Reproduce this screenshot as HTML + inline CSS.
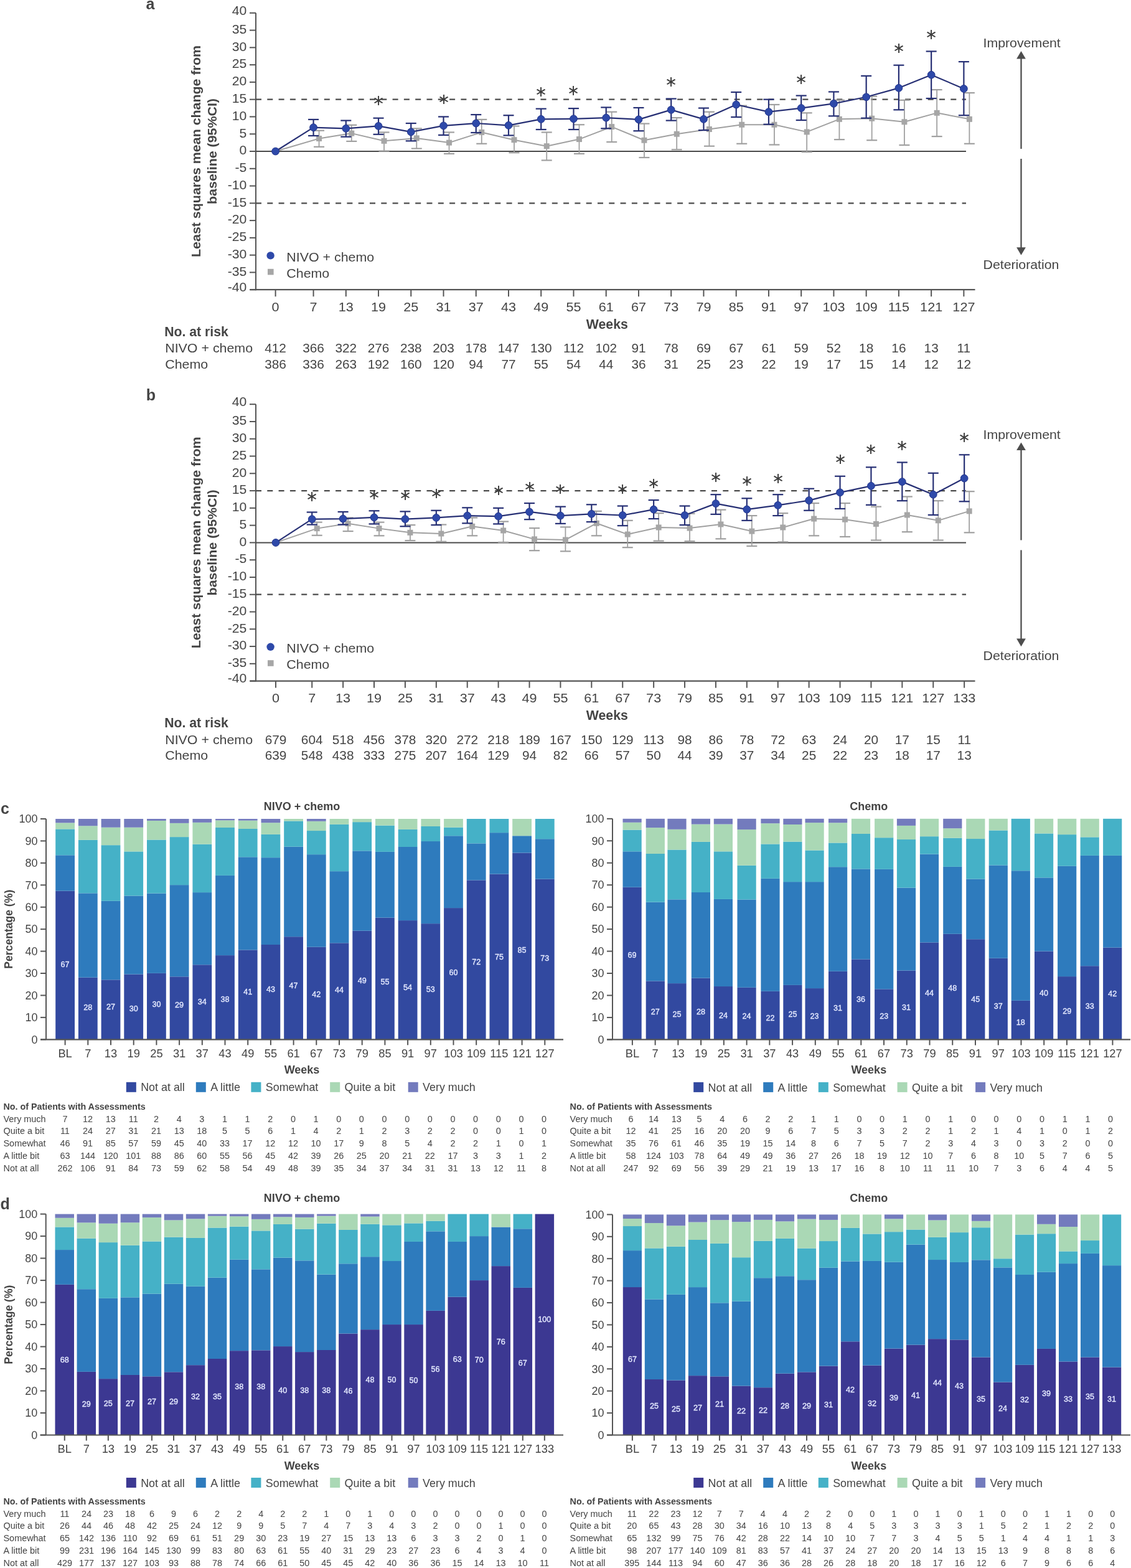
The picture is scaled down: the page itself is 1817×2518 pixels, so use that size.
<!DOCTYPE html>
<html><head><meta charset="utf-8"><title>Figure</title>
<style>html,body{margin:0;padding:0;background:#fff;} svg{display:block;}</style>
</head><body>
<svg width="1817" height="2518" viewBox="0 0 1817 2518" font-family="Liberation Sans, Arial, sans-serif">
<rect width="1817" height="2518" fill="#ffffff"/>
<text x="234.50" y="14.80" font-size="25" text-anchor="start" font-weight="bold" fill="#444444">a</text>
<line x1="411.00" y1="20.80" x2="411.00" y2="466.20" stroke="#555555" stroke-width="2"/>
<line x1="401.00" y1="465.20" x2="411.00" y2="465.20" stroke="#555555" stroke-width="2"/>
<text transform="translate(396.30 468.00) scale(1.060 1)" font-size="20" text-anchor="end" fill="#444444">-40</text>
<line x1="401.00" y1="437.42" x2="411.00" y2="437.42" stroke="#555555" stroke-width="2"/>
<text transform="translate(396.30 442.72) scale(1.060 1)" font-size="20" text-anchor="end" fill="#444444">-35</text>
<line x1="401.00" y1="409.65" x2="411.00" y2="409.65" stroke="#555555" stroke-width="2"/>
<text transform="translate(396.30 414.95) scale(1.060 1)" font-size="20" text-anchor="end" fill="#444444">-30</text>
<line x1="401.00" y1="381.88" x2="411.00" y2="381.88" stroke="#555555" stroke-width="2"/>
<text transform="translate(396.30 387.18) scale(1.060 1)" font-size="20" text-anchor="end" fill="#444444">-25</text>
<line x1="401.00" y1="354.10" x2="411.00" y2="354.10" stroke="#555555" stroke-width="2"/>
<text transform="translate(396.30 359.40) scale(1.060 1)" font-size="20" text-anchor="end" fill="#444444">-20</text>
<line x1="401.00" y1="326.32" x2="411.00" y2="326.32" stroke="#555555" stroke-width="2"/>
<text transform="translate(396.30 331.62) scale(1.060 1)" font-size="20" text-anchor="end" fill="#444444">-15</text>
<line x1="401.00" y1="298.55" x2="411.00" y2="298.55" stroke="#555555" stroke-width="2"/>
<text transform="translate(396.30 303.85) scale(1.060 1)" font-size="20" text-anchor="end" fill="#444444">-10</text>
<line x1="401.00" y1="270.77" x2="411.00" y2="270.77" stroke="#555555" stroke-width="2"/>
<text transform="translate(396.30 276.07) scale(1.060 1)" font-size="20" text-anchor="end" fill="#444444">-5</text>
<line x1="401.00" y1="243.00" x2="411.00" y2="243.00" stroke="#555555" stroke-width="2"/>
<text transform="translate(396.30 248.30) scale(1.060 1)" font-size="20" text-anchor="end" fill="#444444">0</text>
<line x1="401.00" y1="215.22" x2="411.00" y2="215.22" stroke="#555555" stroke-width="2"/>
<text transform="translate(396.30 220.53) scale(1.060 1)" font-size="20" text-anchor="end" fill="#444444">5</text>
<line x1="401.00" y1="187.45" x2="411.00" y2="187.45" stroke="#555555" stroke-width="2"/>
<text transform="translate(396.30 192.75) scale(1.060 1)" font-size="20" text-anchor="end" fill="#444444">10</text>
<line x1="401.00" y1="159.68" x2="411.00" y2="159.68" stroke="#555555" stroke-width="2"/>
<text transform="translate(396.30 164.98) scale(1.060 1)" font-size="20" text-anchor="end" fill="#444444">15</text>
<line x1="401.00" y1="131.90" x2="411.00" y2="131.90" stroke="#555555" stroke-width="2"/>
<text transform="translate(396.30 137.20) scale(1.060 1)" font-size="20" text-anchor="end" fill="#444444">20</text>
<line x1="401.00" y1="104.12" x2="411.00" y2="104.12" stroke="#555555" stroke-width="2"/>
<text transform="translate(396.30 109.42) scale(1.060 1)" font-size="20" text-anchor="end" fill="#444444">25</text>
<line x1="401.00" y1="76.35" x2="411.00" y2="76.35" stroke="#555555" stroke-width="2"/>
<text transform="translate(396.30 81.65) scale(1.060 1)" font-size="20" text-anchor="end" fill="#444444">30</text>
<line x1="401.00" y1="48.58" x2="411.00" y2="48.58" stroke="#555555" stroke-width="2"/>
<text transform="translate(396.30 53.88) scale(1.060 1)" font-size="20" text-anchor="end" fill="#444444">35</text>
<line x1="401.00" y1="20.80" x2="411.00" y2="20.80" stroke="#555555" stroke-width="2"/>
<text transform="translate(396.30 23.60) scale(1.060 1)" font-size="20" text-anchor="end" fill="#444444">40</text>
<line x1="402.00" y1="465.20" x2="1566.50" y2="465.20" stroke="#555555" stroke-width="2.2"/>
<line x1="442.60" y1="465.20" x2="442.60" y2="476.20" stroke="#555555" stroke-width="2"/>
<text transform="translate(442.60 499.80) scale(1.030 1)" font-size="21" text-anchor="middle" fill="#444444">0</text>
<line x1="503.55" y1="465.20" x2="503.55" y2="476.20" stroke="#555555" stroke-width="2"/>
<text transform="translate(503.55 499.80) scale(1.030 1)" font-size="21" text-anchor="middle" fill="#444444">7</text>
<line x1="555.79" y1="465.20" x2="555.79" y2="476.20" stroke="#555555" stroke-width="2"/>
<text transform="translate(555.79 499.80) scale(1.030 1)" font-size="21" text-anchor="middle" fill="#444444">13</text>
<line x1="608.03" y1="465.20" x2="608.03" y2="476.20" stroke="#555555" stroke-width="2"/>
<text transform="translate(608.03 499.80) scale(1.030 1)" font-size="21" text-anchor="middle" fill="#444444">19</text>
<line x1="660.28" y1="465.20" x2="660.28" y2="476.20" stroke="#555555" stroke-width="2"/>
<text transform="translate(660.28 499.80) scale(1.030 1)" font-size="21" text-anchor="middle" fill="#444444">25</text>
<line x1="712.52" y1="465.20" x2="712.52" y2="476.20" stroke="#555555" stroke-width="2"/>
<text transform="translate(712.52 499.80) scale(1.030 1)" font-size="21" text-anchor="middle" fill="#444444">31</text>
<line x1="764.76" y1="465.20" x2="764.76" y2="476.20" stroke="#555555" stroke-width="2"/>
<text transform="translate(764.76 499.80) scale(1.030 1)" font-size="21" text-anchor="middle" fill="#444444">37</text>
<line x1="817.00" y1="465.20" x2="817.00" y2="476.20" stroke="#555555" stroke-width="2"/>
<text transform="translate(817.00 499.80) scale(1.030 1)" font-size="21" text-anchor="middle" fill="#444444">43</text>
<line x1="869.24" y1="465.20" x2="869.24" y2="476.20" stroke="#555555" stroke-width="2"/>
<text transform="translate(869.24 499.80) scale(1.030 1)" font-size="21" text-anchor="middle" fill="#444444">49</text>
<line x1="921.49" y1="465.20" x2="921.49" y2="476.20" stroke="#555555" stroke-width="2"/>
<text transform="translate(921.49 499.80) scale(1.030 1)" font-size="21" text-anchor="middle" fill="#444444">55</text>
<line x1="973.73" y1="465.20" x2="973.73" y2="476.20" stroke="#555555" stroke-width="2"/>
<text transform="translate(973.73 499.80) scale(1.030 1)" font-size="21" text-anchor="middle" fill="#444444">61</text>
<line x1="1025.97" y1="465.20" x2="1025.97" y2="476.20" stroke="#555555" stroke-width="2"/>
<text transform="translate(1025.97 499.80) scale(1.030 1)" font-size="21" text-anchor="middle" fill="#444444">67</text>
<line x1="1078.21" y1="465.20" x2="1078.21" y2="476.20" stroke="#555555" stroke-width="2"/>
<text transform="translate(1078.21 499.80) scale(1.030 1)" font-size="21" text-anchor="middle" fill="#444444">73</text>
<line x1="1130.45" y1="465.20" x2="1130.45" y2="476.20" stroke="#555555" stroke-width="2"/>
<text transform="translate(1130.45 499.80) scale(1.030 1)" font-size="21" text-anchor="middle" fill="#444444">79</text>
<line x1="1182.70" y1="465.20" x2="1182.70" y2="476.20" stroke="#555555" stroke-width="2"/>
<text transform="translate(1182.70 499.80) scale(1.030 1)" font-size="21" text-anchor="middle" fill="#444444">85</text>
<line x1="1234.94" y1="465.20" x2="1234.94" y2="476.20" stroke="#555555" stroke-width="2"/>
<text transform="translate(1234.94 499.80) scale(1.030 1)" font-size="21" text-anchor="middle" fill="#444444">91</text>
<line x1="1287.18" y1="465.20" x2="1287.18" y2="476.20" stroke="#555555" stroke-width="2"/>
<text transform="translate(1287.18 499.80) scale(1.030 1)" font-size="21" text-anchor="middle" fill="#444444">97</text>
<line x1="1339.42" y1="465.20" x2="1339.42" y2="476.20" stroke="#555555" stroke-width="2"/>
<text transform="translate(1339.42 499.80) scale(1.030 1)" font-size="21" text-anchor="middle" fill="#444444">103</text>
<line x1="1391.66" y1="465.20" x2="1391.66" y2="476.20" stroke="#555555" stroke-width="2"/>
<text transform="translate(1391.66 499.80) scale(1.030 1)" font-size="21" text-anchor="middle" fill="#444444">109</text>
<line x1="1443.91" y1="465.20" x2="1443.91" y2="476.20" stroke="#555555" stroke-width="2"/>
<text transform="translate(1443.91 499.80) scale(1.030 1)" font-size="21" text-anchor="middle" fill="#444444">115</text>
<line x1="1496.15" y1="465.20" x2="1496.15" y2="476.20" stroke="#555555" stroke-width="2"/>
<text transform="translate(1496.15 499.80) scale(1.030 1)" font-size="21" text-anchor="middle" fill="#444444">121</text>
<line x1="1548.39" y1="465.20" x2="1548.39" y2="476.20" stroke="#555555" stroke-width="2"/>
<text transform="translate(1548.39 499.80) scale(1.030 1)" font-size="21" text-anchor="middle" fill="#444444">127</text>
<text x="975.30" y="527.70" font-size="21.3" text-anchor="middle" font-weight="bold" fill="#444444">Weeks</text>
<line x1="411.00" y1="243.00" x2="1552.00" y2="243.00" stroke="#4a4a4a" stroke-width="2"/>
<line x1="411.00" y1="159.68" x2="1552.00" y2="159.68" stroke="#4a4a4a" stroke-width="2.3" stroke-dasharray="9 9.3"/>
<line x1="411.00" y1="326.32" x2="1552.00" y2="326.32" stroke="#4a4a4a" stroke-width="2.3" stroke-dasharray="9 9.3"/>
<text transform="translate(322 243) rotate(-90) scale(1.019 1)" font-size="21" font-weight="bold" text-anchor="middle" fill="#444444">Least squares mean change from</text>
<text transform="translate(348 243) rotate(-90) scale(1.019 1)" font-size="21" font-weight="bold" text-anchor="middle" fill="#444444">baseline (95%CI)</text>
<polyline points="442.60,243.00 512.55,222.45 564.79,214.11 617.03,226.34 669.28,221.89 721.52,229.11 773.76,212.45 826.00,224.67 878.24,234.67 930.49,223.56 982.73,203.56 1034.97,225.22 1087.21,215.22 1139.45,207.45 1191.70,200.23 1243.94,200.23 1296.18,211.89 1348.42,191.34 1400.66,190.23 1452.91,195.78 1505.15,181.34 1557.39,191.34" fill="none" stroke="#a0a0a0" stroke-width="2" stroke-linejoin="round"/>
<line x1="512.55" y1="209.67" x2="512.55" y2="235.78" stroke="#a0a0a0" stroke-width="1.8"/>
<line x1="504.05" y1="209.67" x2="521.05" y2="209.67" stroke="#a0a0a0" stroke-width="2.2"/>
<line x1="504.05" y1="235.78" x2="521.05" y2="235.78" stroke="#a0a0a0" stroke-width="2.2"/>
<line x1="564.79" y1="200.78" x2="564.79" y2="226.89" stroke="#a0a0a0" stroke-width="1.8"/>
<line x1="556.29" y1="200.78" x2="573.29" y2="200.78" stroke="#a0a0a0" stroke-width="2.2"/>
<line x1="556.29" y1="226.89" x2="573.29" y2="226.89" stroke="#a0a0a0" stroke-width="2.2"/>
<line x1="617.03" y1="212.45" x2="617.03" y2="242.44" stroke="#a0a0a0" stroke-width="1.8"/>
<line x1="608.53" y1="212.45" x2="625.53" y2="212.45" stroke="#a0a0a0" stroke-width="2.2"/>
<line x1="608.53" y1="242.44" x2="625.53" y2="242.44" stroke="#a0a0a0" stroke-width="2.2"/>
<line x1="669.28" y1="206.34" x2="669.28" y2="238.56" stroke="#a0a0a0" stroke-width="1.8"/>
<line x1="660.78" y1="206.34" x2="677.78" y2="206.34" stroke="#a0a0a0" stroke-width="2.2"/>
<line x1="660.78" y1="238.56" x2="677.78" y2="238.56" stroke="#a0a0a0" stroke-width="2.2"/>
<line x1="721.52" y1="212.45" x2="721.52" y2="246.89" stroke="#a0a0a0" stroke-width="1.8"/>
<line x1="713.02" y1="212.45" x2="730.02" y2="212.45" stroke="#a0a0a0" stroke-width="2.2"/>
<line x1="713.02" y1="246.89" x2="730.02" y2="246.89" stroke="#a0a0a0" stroke-width="2.2"/>
<line x1="773.76" y1="191.89" x2="773.76" y2="230.78" stroke="#a0a0a0" stroke-width="1.8"/>
<line x1="765.26" y1="191.89" x2="782.26" y2="191.89" stroke="#a0a0a0" stroke-width="2.2"/>
<line x1="765.26" y1="230.78" x2="782.26" y2="230.78" stroke="#a0a0a0" stroke-width="2.2"/>
<line x1="826.00" y1="202.45" x2="826.00" y2="245.22" stroke="#a0a0a0" stroke-width="1.8"/>
<line x1="817.50" y1="202.45" x2="834.50" y2="202.45" stroke="#a0a0a0" stroke-width="2.2"/>
<line x1="817.50" y1="245.22" x2="834.50" y2="245.22" stroke="#a0a0a0" stroke-width="2.2"/>
<line x1="878.24" y1="212.45" x2="878.24" y2="257.44" stroke="#a0a0a0" stroke-width="1.8"/>
<line x1="869.74" y1="212.45" x2="886.74" y2="212.45" stroke="#a0a0a0" stroke-width="2.2"/>
<line x1="869.74" y1="257.44" x2="886.74" y2="257.44" stroke="#a0a0a0" stroke-width="2.2"/>
<line x1="930.49" y1="200.23" x2="930.49" y2="246.89" stroke="#a0a0a0" stroke-width="1.8"/>
<line x1="921.99" y1="200.23" x2="938.99" y2="200.23" stroke="#a0a0a0" stroke-width="2.2"/>
<line x1="921.99" y1="246.89" x2="938.99" y2="246.89" stroke="#a0a0a0" stroke-width="2.2"/>
<line x1="982.73" y1="179.67" x2="982.73" y2="228.00" stroke="#a0a0a0" stroke-width="1.8"/>
<line x1="974.23" y1="179.67" x2="991.23" y2="179.67" stroke="#a0a0a0" stroke-width="2.2"/>
<line x1="974.23" y1="228.00" x2="991.23" y2="228.00" stroke="#a0a0a0" stroke-width="2.2"/>
<line x1="1034.97" y1="198.56" x2="1034.97" y2="253.00" stroke="#a0a0a0" stroke-width="1.8"/>
<line x1="1026.47" y1="198.56" x2="1043.47" y2="198.56" stroke="#a0a0a0" stroke-width="2.2"/>
<line x1="1026.47" y1="253.00" x2="1043.47" y2="253.00" stroke="#a0a0a0" stroke-width="2.2"/>
<line x1="1087.21" y1="189.12" x2="1087.21" y2="240.22" stroke="#a0a0a0" stroke-width="1.8"/>
<line x1="1078.71" y1="189.12" x2="1095.71" y2="189.12" stroke="#a0a0a0" stroke-width="2.2"/>
<line x1="1078.71" y1="240.22" x2="1095.71" y2="240.22" stroke="#a0a0a0" stroke-width="2.2"/>
<line x1="1139.45" y1="179.67" x2="1139.45" y2="234.67" stroke="#a0a0a0" stroke-width="1.8"/>
<line x1="1130.95" y1="179.67" x2="1147.95" y2="179.67" stroke="#a0a0a0" stroke-width="2.2"/>
<line x1="1130.95" y1="234.67" x2="1147.95" y2="234.67" stroke="#a0a0a0" stroke-width="2.2"/>
<line x1="1191.70" y1="169.67" x2="1191.70" y2="230.78" stroke="#a0a0a0" stroke-width="1.8"/>
<line x1="1183.20" y1="169.67" x2="1200.20" y2="169.67" stroke="#a0a0a0" stroke-width="2.2"/>
<line x1="1183.20" y1="230.78" x2="1200.20" y2="230.78" stroke="#a0a0a0" stroke-width="2.2"/>
<line x1="1243.94" y1="168.01" x2="1243.94" y2="232.45" stroke="#a0a0a0" stroke-width="1.8"/>
<line x1="1235.44" y1="168.01" x2="1252.44" y2="168.01" stroke="#a0a0a0" stroke-width="2.2"/>
<line x1="1235.44" y1="232.45" x2="1252.44" y2="232.45" stroke="#a0a0a0" stroke-width="2.2"/>
<line x1="1296.18" y1="181.34" x2="1296.18" y2="244.11" stroke="#a0a0a0" stroke-width="1.8"/>
<line x1="1287.68" y1="181.34" x2="1304.68" y2="181.34" stroke="#a0a0a0" stroke-width="2.2"/>
<line x1="1287.68" y1="244.11" x2="1304.68" y2="244.11" stroke="#a0a0a0" stroke-width="2.2"/>
<line x1="1348.42" y1="160.79" x2="1348.42" y2="224.11" stroke="#a0a0a0" stroke-width="1.8"/>
<line x1="1339.92" y1="160.79" x2="1356.92" y2="160.79" stroke="#a0a0a0" stroke-width="2.2"/>
<line x1="1339.92" y1="224.11" x2="1356.92" y2="224.11" stroke="#a0a0a0" stroke-width="2.2"/>
<line x1="1400.66" y1="154.68" x2="1400.66" y2="225.22" stroke="#a0a0a0" stroke-width="1.8"/>
<line x1="1392.16" y1="154.68" x2="1409.16" y2="154.68" stroke="#a0a0a0" stroke-width="2.2"/>
<line x1="1392.16" y1="225.22" x2="1409.16" y2="225.22" stroke="#a0a0a0" stroke-width="2.2"/>
<line x1="1452.91" y1="160.79" x2="1452.91" y2="233.00" stroke="#a0a0a0" stroke-width="1.8"/>
<line x1="1444.41" y1="160.79" x2="1461.41" y2="160.79" stroke="#a0a0a0" stroke-width="2.2"/>
<line x1="1444.41" y1="233.00" x2="1461.41" y2="233.00" stroke="#a0a0a0" stroke-width="2.2"/>
<line x1="1505.15" y1="144.12" x2="1505.15" y2="219.11" stroke="#a0a0a0" stroke-width="1.8"/>
<line x1="1496.65" y1="144.12" x2="1513.65" y2="144.12" stroke="#a0a0a0" stroke-width="2.2"/>
<line x1="1496.65" y1="219.11" x2="1513.65" y2="219.11" stroke="#a0a0a0" stroke-width="2.2"/>
<line x1="1557.39" y1="149.12" x2="1557.39" y2="230.78" stroke="#a0a0a0" stroke-width="1.8"/>
<line x1="1548.89" y1="149.12" x2="1565.89" y2="149.12" stroke="#a0a0a0" stroke-width="2.2"/>
<line x1="1548.89" y1="230.78" x2="1565.89" y2="230.78" stroke="#a0a0a0" stroke-width="2.2"/>
<rect x="508.05" y="217.95" width="9.00" height="9.00" fill="#a6a6a6"/>
<rect x="560.29" y="209.61" width="9.00" height="9.00" fill="#a6a6a6"/>
<rect x="612.53" y="221.84" width="9.00" height="9.00" fill="#a6a6a6"/>
<rect x="664.78" y="217.39" width="9.00" height="9.00" fill="#a6a6a6"/>
<rect x="717.02" y="224.61" width="9.00" height="9.00" fill="#a6a6a6"/>
<rect x="769.26" y="207.95" width="9.00" height="9.00" fill="#a6a6a6"/>
<rect x="821.50" y="220.17" width="9.00" height="9.00" fill="#a6a6a6"/>
<rect x="873.74" y="230.17" width="9.00" height="9.00" fill="#a6a6a6"/>
<rect x="925.99" y="219.06" width="9.00" height="9.00" fill="#a6a6a6"/>
<rect x="978.23" y="199.06" width="9.00" height="9.00" fill="#a6a6a6"/>
<rect x="1030.47" y="220.72" width="9.00" height="9.00" fill="#a6a6a6"/>
<rect x="1082.71" y="210.72" width="9.00" height="9.00" fill="#a6a6a6"/>
<rect x="1134.95" y="202.95" width="9.00" height="9.00" fill="#a6a6a6"/>
<rect x="1187.20" y="195.73" width="9.00" height="9.00" fill="#a6a6a6"/>
<rect x="1239.44" y="195.73" width="9.00" height="9.00" fill="#a6a6a6"/>
<rect x="1291.68" y="207.39" width="9.00" height="9.00" fill="#a6a6a6"/>
<rect x="1343.92" y="186.84" width="9.00" height="9.00" fill="#a6a6a6"/>
<rect x="1396.16" y="185.73" width="9.00" height="9.00" fill="#a6a6a6"/>
<rect x="1448.41" y="191.28" width="9.00" height="9.00" fill="#a6a6a6"/>
<rect x="1500.65" y="176.84" width="9.00" height="9.00" fill="#a6a6a6"/>
<rect x="1552.89" y="186.84" width="9.00" height="9.00" fill="#a6a6a6"/>
<polyline points="442.60,243.00 503.55,204.67 555.79,206.34 608.03,202.45 660.28,211.89 712.52,201.89 764.76,198.00 817.00,201.34 869.24,191.34 921.49,190.78 973.73,189.12 1025.97,191.89 1078.21,176.34 1130.45,191.34 1182.70,168.01 1234.94,179.67 1287.18,173.56 1339.42,166.34 1391.66,155.79 1443.91,141.34 1496.15,120.23 1548.39,142.45" fill="none" stroke="#262f74" stroke-width="2.2" stroke-linejoin="round"/>
<line x1="503.55" y1="191.89" x2="503.55" y2="218.00" stroke="#262f74" stroke-width="2.2"/>
<line x1="495.05" y1="191.89" x2="512.05" y2="191.89" stroke="#262f74" stroke-width="2.2"/>
<line x1="495.05" y1="218.00" x2="512.05" y2="218.00" stroke="#262f74" stroke-width="2.2"/>
<line x1="555.79" y1="193.56" x2="555.79" y2="219.67" stroke="#262f74" stroke-width="2.2"/>
<line x1="547.29" y1="193.56" x2="564.29" y2="193.56" stroke="#262f74" stroke-width="2.2"/>
<line x1="547.29" y1="219.67" x2="564.29" y2="219.67" stroke="#262f74" stroke-width="2.2"/>
<line x1="608.03" y1="189.67" x2="608.03" y2="215.78" stroke="#262f74" stroke-width="2.2"/>
<line x1="599.53" y1="189.67" x2="616.53" y2="189.67" stroke="#262f74" stroke-width="2.2"/>
<line x1="599.53" y1="215.78" x2="616.53" y2="215.78" stroke="#262f74" stroke-width="2.2"/>
<line x1="660.28" y1="198.00" x2="660.28" y2="226.34" stroke="#262f74" stroke-width="2.2"/>
<line x1="651.78" y1="198.00" x2="668.78" y2="198.00" stroke="#262f74" stroke-width="2.2"/>
<line x1="651.78" y1="226.34" x2="668.78" y2="226.34" stroke="#262f74" stroke-width="2.2"/>
<line x1="712.52" y1="187.45" x2="712.52" y2="216.89" stroke="#262f74" stroke-width="2.2"/>
<line x1="704.02" y1="187.45" x2="721.02" y2="187.45" stroke="#262f74" stroke-width="2.2"/>
<line x1="704.02" y1="216.89" x2="721.02" y2="216.89" stroke="#262f74" stroke-width="2.2"/>
<line x1="764.76" y1="184.12" x2="764.76" y2="213.00" stroke="#262f74" stroke-width="2.2"/>
<line x1="756.26" y1="184.12" x2="773.26" y2="184.12" stroke="#262f74" stroke-width="2.2"/>
<line x1="756.26" y1="213.00" x2="773.26" y2="213.00" stroke="#262f74" stroke-width="2.2"/>
<line x1="817.00" y1="185.23" x2="817.00" y2="217.45" stroke="#262f74" stroke-width="2.2"/>
<line x1="808.50" y1="185.23" x2="825.50" y2="185.23" stroke="#262f74" stroke-width="2.2"/>
<line x1="808.50" y1="217.45" x2="825.50" y2="217.45" stroke="#262f74" stroke-width="2.2"/>
<line x1="869.24" y1="174.67" x2="869.24" y2="208.00" stroke="#262f74" stroke-width="2.2"/>
<line x1="860.74" y1="174.67" x2="877.74" y2="174.67" stroke="#262f74" stroke-width="2.2"/>
<line x1="860.74" y1="208.00" x2="877.74" y2="208.00" stroke="#262f74" stroke-width="2.2"/>
<line x1="921.49" y1="174.12" x2="921.49" y2="208.00" stroke="#262f74" stroke-width="2.2"/>
<line x1="912.99" y1="174.12" x2="929.99" y2="174.12" stroke="#262f74" stroke-width="2.2"/>
<line x1="912.99" y1="208.00" x2="929.99" y2="208.00" stroke="#262f74" stroke-width="2.2"/>
<line x1="973.73" y1="172.45" x2="973.73" y2="206.34" stroke="#262f74" stroke-width="2.2"/>
<line x1="965.23" y1="172.45" x2="982.23" y2="172.45" stroke="#262f74" stroke-width="2.2"/>
<line x1="965.23" y1="206.34" x2="982.23" y2="206.34" stroke="#262f74" stroke-width="2.2"/>
<line x1="1025.97" y1="173.01" x2="1025.97" y2="210.23" stroke="#262f74" stroke-width="2.2"/>
<line x1="1017.47" y1="173.01" x2="1034.47" y2="173.01" stroke="#262f74" stroke-width="2.2"/>
<line x1="1017.47" y1="210.23" x2="1034.47" y2="210.23" stroke="#262f74" stroke-width="2.2"/>
<line x1="1078.21" y1="158.56" x2="1078.21" y2="193.56" stroke="#262f74" stroke-width="2.2"/>
<line x1="1069.71" y1="158.56" x2="1086.71" y2="158.56" stroke="#262f74" stroke-width="2.2"/>
<line x1="1069.71" y1="193.56" x2="1086.71" y2="193.56" stroke="#262f74" stroke-width="2.2"/>
<line x1="1130.45" y1="173.56" x2="1130.45" y2="209.11" stroke="#262f74" stroke-width="2.2"/>
<line x1="1121.95" y1="173.56" x2="1138.95" y2="173.56" stroke="#262f74" stroke-width="2.2"/>
<line x1="1121.95" y1="209.11" x2="1138.95" y2="209.11" stroke="#262f74" stroke-width="2.2"/>
<line x1="1182.70" y1="148.01" x2="1182.70" y2="188.01" stroke="#262f74" stroke-width="2.2"/>
<line x1="1174.20" y1="148.01" x2="1191.20" y2="148.01" stroke="#262f74" stroke-width="2.2"/>
<line x1="1174.20" y1="188.01" x2="1191.20" y2="188.01" stroke="#262f74" stroke-width="2.2"/>
<line x1="1234.94" y1="159.68" x2="1234.94" y2="199.67" stroke="#262f74" stroke-width="2.2"/>
<line x1="1226.44" y1="159.68" x2="1243.44" y2="159.68" stroke="#262f74" stroke-width="2.2"/>
<line x1="1226.44" y1="199.67" x2="1243.44" y2="199.67" stroke="#262f74" stroke-width="2.2"/>
<line x1="1287.18" y1="153.56" x2="1287.18" y2="193.00" stroke="#262f74" stroke-width="2.2"/>
<line x1="1278.68" y1="153.56" x2="1295.68" y2="153.56" stroke="#262f74" stroke-width="2.2"/>
<line x1="1278.68" y1="193.00" x2="1295.68" y2="193.00" stroke="#262f74" stroke-width="2.2"/>
<line x1="1339.42" y1="147.45" x2="1339.42" y2="186.34" stroke="#262f74" stroke-width="2.2"/>
<line x1="1330.92" y1="147.45" x2="1347.92" y2="147.45" stroke="#262f74" stroke-width="2.2"/>
<line x1="1330.92" y1="186.34" x2="1347.92" y2="186.34" stroke="#262f74" stroke-width="2.2"/>
<line x1="1391.66" y1="121.90" x2="1391.66" y2="189.67" stroke="#262f74" stroke-width="2.2"/>
<line x1="1383.16" y1="121.90" x2="1400.16" y2="121.90" stroke="#262f74" stroke-width="2.2"/>
<line x1="1383.16" y1="189.67" x2="1400.16" y2="189.67" stroke="#262f74" stroke-width="2.2"/>
<line x1="1443.91" y1="104.68" x2="1443.91" y2="176.34" stroke="#262f74" stroke-width="2.2"/>
<line x1="1435.41" y1="104.68" x2="1452.41" y2="104.68" stroke="#262f74" stroke-width="2.2"/>
<line x1="1435.41" y1="176.34" x2="1452.41" y2="176.34" stroke="#262f74" stroke-width="2.2"/>
<line x1="1496.15" y1="82.46" x2="1496.15" y2="158.01" stroke="#262f74" stroke-width="2.2"/>
<line x1="1487.65" y1="82.46" x2="1504.65" y2="82.46" stroke="#262f74" stroke-width="2.2"/>
<line x1="1487.65" y1="158.01" x2="1504.65" y2="158.01" stroke="#262f74" stroke-width="2.2"/>
<line x1="1548.39" y1="99.13" x2="1548.39" y2="185.23" stroke="#262f74" stroke-width="2.2"/>
<line x1="1539.89" y1="99.13" x2="1556.89" y2="99.13" stroke="#262f74" stroke-width="2.2"/>
<line x1="1539.89" y1="185.23" x2="1556.89" y2="185.23" stroke="#262f74" stroke-width="2.2"/>
<circle cx="442.60" cy="243.00" r="5.9" fill="#2e49a9" stroke="#22358c" stroke-width="1"/>
<circle cx="503.55" cy="204.67" r="5.9" fill="#2e49a9" stroke="#22358c" stroke-width="1"/>
<circle cx="555.79" cy="206.34" r="5.9" fill="#2e49a9" stroke="#22358c" stroke-width="1"/>
<circle cx="608.03" cy="202.45" r="5.9" fill="#2e49a9" stroke="#22358c" stroke-width="1"/>
<circle cx="660.28" cy="211.89" r="5.9" fill="#2e49a9" stroke="#22358c" stroke-width="1"/>
<circle cx="712.52" cy="201.89" r="5.9" fill="#2e49a9" stroke="#22358c" stroke-width="1"/>
<circle cx="764.76" cy="198.00" r="5.9" fill="#2e49a9" stroke="#22358c" stroke-width="1"/>
<circle cx="817.00" cy="201.34" r="5.9" fill="#2e49a9" stroke="#22358c" stroke-width="1"/>
<circle cx="869.24" cy="191.34" r="5.9" fill="#2e49a9" stroke="#22358c" stroke-width="1"/>
<circle cx="921.49" cy="190.78" r="5.9" fill="#2e49a9" stroke="#22358c" stroke-width="1"/>
<circle cx="973.73" cy="189.12" r="5.9" fill="#2e49a9" stroke="#22358c" stroke-width="1"/>
<circle cx="1025.97" cy="191.89" r="5.9" fill="#2e49a9" stroke="#22358c" stroke-width="1"/>
<circle cx="1078.21" cy="176.34" r="5.9" fill="#2e49a9" stroke="#22358c" stroke-width="1"/>
<circle cx="1130.45" cy="191.34" r="5.9" fill="#2e49a9" stroke="#22358c" stroke-width="1"/>
<circle cx="1182.70" cy="168.01" r="5.9" fill="#2e49a9" stroke="#22358c" stroke-width="1"/>
<circle cx="1234.94" cy="179.67" r="5.9" fill="#2e49a9" stroke="#22358c" stroke-width="1"/>
<circle cx="1287.18" cy="173.56" r="5.9" fill="#2e49a9" stroke="#22358c" stroke-width="1"/>
<circle cx="1339.42" cy="166.34" r="5.9" fill="#2e49a9" stroke="#22358c" stroke-width="1"/>
<circle cx="1391.66" cy="155.79" r="5.9" fill="#2e49a9" stroke="#22358c" stroke-width="1"/>
<circle cx="1443.91" cy="141.34" r="5.9" fill="#2e49a9" stroke="#22358c" stroke-width="1"/>
<circle cx="1496.15" cy="120.23" r="5.9" fill="#2e49a9" stroke="#22358c" stroke-width="1"/>
<circle cx="1548.39" cy="142.45" r="5.9" fill="#2e49a9" stroke="#22358c" stroke-width="1"/>
<text x="608.03" y="169.00" font-size="23.5" text-anchor="middle" fill="#3d3d3d">∗</text>
<text x="712.52" y="167.00" font-size="23.5" text-anchor="middle" fill="#3d3d3d">∗</text>
<text x="869.24" y="154.60" font-size="23.5" text-anchor="middle" fill="#3d3d3d">∗</text>
<text x="921.49" y="153.00" font-size="23.5" text-anchor="middle" fill="#3d3d3d">∗</text>
<text x="1078.21" y="138.80" font-size="23.5" text-anchor="middle" fill="#3d3d3d">∗</text>
<text x="1287.18" y="135.00" font-size="23.5" text-anchor="middle" fill="#3d3d3d">∗</text>
<text x="1443.91" y="85.40" font-size="23.5" text-anchor="middle" fill="#3d3d3d">∗</text>
<text x="1496.15" y="62.90" font-size="23.5" text-anchor="middle" fill="#3d3d3d">∗</text>
<circle cx="434.60" cy="410.40" r="6.2" fill="#2e49a9"/>
<text transform="translate(460.30 419.50) scale(1.070 1)" font-size="20" text-anchor="start" fill="#444444">NIVO + chemo</text>
<rect x="430.00" y="431.80" width="9.60" height="9.60" fill="#a6a6a6"/>
<text transform="translate(460.30 445.80) scale(1.070 1)" font-size="20" text-anchor="start" fill="#444444">Chemo</text>
<text transform="translate(1579.50 76.10) scale(1.015 1)" font-size="21" text-anchor="start" fill="#444444">Improvement</text>
<text transform="translate(1579.50 431.80) scale(1.015 1)" font-size="21" text-anchor="start" fill="#444444">Deterioration</text>
<line x1="1640.50" y1="93.00" x2="1640.50" y2="239.00" stroke="#4d4d4d" stroke-width="2.3"/>
<polygon points="1640.5,82.0 1633.1,94.6 1647.9,94.6" fill="#4d4d4d"/>
<line x1="1640.50" y1="255.00" x2="1640.50" y2="398.80" stroke="#4d4d4d" stroke-width="2.3"/>
<polygon points="1640.5,409.8 1633.1,397.2 1647.9,397.2" fill="#4d4d4d"/>
<text x="264.30" y="540.00" font-size="21.2" text-anchor="start" font-weight="bold" fill="#444444">No. at risk</text>
<text transform="translate(265.20 566.20) scale(1.070 1)" font-size="20" text-anchor="start" fill="#444444">NIVO + chemo</text>
<text transform="translate(265.20 591.90) scale(1.070 1)" font-size="20" text-anchor="start" fill="#444444">Chemo</text>
<text transform="translate(442.60 566.20) scale(1.040 1)" font-size="20" text-anchor="middle" fill="#444444">412</text>
<text transform="translate(442.60 591.90) scale(1.040 1)" font-size="20" text-anchor="middle" fill="#444444">386</text>
<text transform="translate(503.55 566.20) scale(1.040 1)" font-size="20" text-anchor="middle" fill="#444444">366</text>
<text transform="translate(503.55 591.90) scale(1.040 1)" font-size="20" text-anchor="middle" fill="#444444">336</text>
<text transform="translate(555.79 566.20) scale(1.040 1)" font-size="20" text-anchor="middle" fill="#444444">322</text>
<text transform="translate(555.79 591.90) scale(1.040 1)" font-size="20" text-anchor="middle" fill="#444444">263</text>
<text transform="translate(608.03 566.20) scale(1.040 1)" font-size="20" text-anchor="middle" fill="#444444">276</text>
<text transform="translate(608.03 591.90) scale(1.040 1)" font-size="20" text-anchor="middle" fill="#444444">192</text>
<text transform="translate(660.28 566.20) scale(1.040 1)" font-size="20" text-anchor="middle" fill="#444444">238</text>
<text transform="translate(660.28 591.90) scale(1.040 1)" font-size="20" text-anchor="middle" fill="#444444">160</text>
<text transform="translate(712.52 566.20) scale(1.040 1)" font-size="20" text-anchor="middle" fill="#444444">203</text>
<text transform="translate(712.52 591.90) scale(1.040 1)" font-size="20" text-anchor="middle" fill="#444444">120</text>
<text transform="translate(764.76 566.20) scale(1.040 1)" font-size="20" text-anchor="middle" fill="#444444">178</text>
<text transform="translate(764.76 591.90) scale(1.040 1)" font-size="20" text-anchor="middle" fill="#444444">94</text>
<text transform="translate(817.00 566.20) scale(1.040 1)" font-size="20" text-anchor="middle" fill="#444444">147</text>
<text transform="translate(817.00 591.90) scale(1.040 1)" font-size="20" text-anchor="middle" fill="#444444">77</text>
<text transform="translate(869.24 566.20) scale(1.040 1)" font-size="20" text-anchor="middle" fill="#444444">130</text>
<text transform="translate(869.24 591.90) scale(1.040 1)" font-size="20" text-anchor="middle" fill="#444444">55</text>
<text transform="translate(921.49 566.20) scale(1.040 1)" font-size="20" text-anchor="middle" fill="#444444">112</text>
<text transform="translate(921.49 591.90) scale(1.040 1)" font-size="20" text-anchor="middle" fill="#444444">54</text>
<text transform="translate(973.73 566.20) scale(1.040 1)" font-size="20" text-anchor="middle" fill="#444444">102</text>
<text transform="translate(973.73 591.90) scale(1.040 1)" font-size="20" text-anchor="middle" fill="#444444">44</text>
<text transform="translate(1025.97 566.20) scale(1.040 1)" font-size="20" text-anchor="middle" fill="#444444">91</text>
<text transform="translate(1025.97 591.90) scale(1.040 1)" font-size="20" text-anchor="middle" fill="#444444">36</text>
<text transform="translate(1078.21 566.20) scale(1.040 1)" font-size="20" text-anchor="middle" fill="#444444">78</text>
<text transform="translate(1078.21 591.90) scale(1.040 1)" font-size="20" text-anchor="middle" fill="#444444">31</text>
<text transform="translate(1130.45 566.20) scale(1.040 1)" font-size="20" text-anchor="middle" fill="#444444">69</text>
<text transform="translate(1130.45 591.90) scale(1.040 1)" font-size="20" text-anchor="middle" fill="#444444">25</text>
<text transform="translate(1182.70 566.20) scale(1.040 1)" font-size="20" text-anchor="middle" fill="#444444">67</text>
<text transform="translate(1182.70 591.90) scale(1.040 1)" font-size="20" text-anchor="middle" fill="#444444">23</text>
<text transform="translate(1234.94 566.20) scale(1.040 1)" font-size="20" text-anchor="middle" fill="#444444">61</text>
<text transform="translate(1234.94 591.90) scale(1.040 1)" font-size="20" text-anchor="middle" fill="#444444">22</text>
<text transform="translate(1287.18 566.20) scale(1.040 1)" font-size="20" text-anchor="middle" fill="#444444">59</text>
<text transform="translate(1287.18 591.90) scale(1.040 1)" font-size="20" text-anchor="middle" fill="#444444">19</text>
<text transform="translate(1339.42 566.20) scale(1.040 1)" font-size="20" text-anchor="middle" fill="#444444">52</text>
<text transform="translate(1339.42 591.90) scale(1.040 1)" font-size="20" text-anchor="middle" fill="#444444">17</text>
<text transform="translate(1391.66 566.20) scale(1.040 1)" font-size="20" text-anchor="middle" fill="#444444">18</text>
<text transform="translate(1391.66 591.90) scale(1.040 1)" font-size="20" text-anchor="middle" fill="#444444">15</text>
<text transform="translate(1443.91 566.20) scale(1.040 1)" font-size="20" text-anchor="middle" fill="#444444">16</text>
<text transform="translate(1443.91 591.90) scale(1.040 1)" font-size="20" text-anchor="middle" fill="#444444">14</text>
<text transform="translate(1496.15 566.20) scale(1.040 1)" font-size="20" text-anchor="middle" fill="#444444">13</text>
<text transform="translate(1496.15 591.90) scale(1.040 1)" font-size="20" text-anchor="middle" fill="#444444">12</text>
<text transform="translate(1548.39 566.20) scale(1.040 1)" font-size="20" text-anchor="middle" fill="#444444">11</text>
<text transform="translate(1548.39 591.90) scale(1.040 1)" font-size="20" text-anchor="middle" fill="#444444">12</text>
<text x="234.80" y="643.10" font-size="25" text-anchor="start" font-weight="bold" fill="#444444">b</text>
<line x1="411.00" y1="649.20" x2="411.00" y2="1094.60" stroke="#555555" stroke-width="2"/>
<line x1="401.00" y1="1093.60" x2="411.00" y2="1093.60" stroke="#555555" stroke-width="2"/>
<text transform="translate(396.30 1096.40) scale(1.060 1)" font-size="20" text-anchor="end" fill="#444444">-40</text>
<line x1="401.00" y1="1065.83" x2="411.00" y2="1065.83" stroke="#555555" stroke-width="2"/>
<text transform="translate(396.30 1071.12) scale(1.060 1)" font-size="20" text-anchor="end" fill="#444444">-35</text>
<line x1="401.00" y1="1038.05" x2="411.00" y2="1038.05" stroke="#555555" stroke-width="2"/>
<text transform="translate(396.30 1043.35) scale(1.060 1)" font-size="20" text-anchor="end" fill="#444444">-30</text>
<line x1="401.00" y1="1010.27" x2="411.00" y2="1010.27" stroke="#555555" stroke-width="2"/>
<text transform="translate(396.30 1015.57) scale(1.060 1)" font-size="20" text-anchor="end" fill="#444444">-25</text>
<line x1="401.00" y1="982.50" x2="411.00" y2="982.50" stroke="#555555" stroke-width="2"/>
<text transform="translate(396.30 987.80) scale(1.060 1)" font-size="20" text-anchor="end" fill="#444444">-20</text>
<line x1="401.00" y1="954.72" x2="411.00" y2="954.72" stroke="#555555" stroke-width="2"/>
<text transform="translate(396.30 960.02) scale(1.060 1)" font-size="20" text-anchor="end" fill="#444444">-15</text>
<line x1="401.00" y1="926.95" x2="411.00" y2="926.95" stroke="#555555" stroke-width="2"/>
<text transform="translate(396.30 932.25) scale(1.060 1)" font-size="20" text-anchor="end" fill="#444444">-10</text>
<line x1="401.00" y1="899.17" x2="411.00" y2="899.17" stroke="#555555" stroke-width="2"/>
<text transform="translate(396.30 904.47) scale(1.060 1)" font-size="20" text-anchor="end" fill="#444444">-5</text>
<line x1="401.00" y1="871.40" x2="411.00" y2="871.40" stroke="#555555" stroke-width="2"/>
<text transform="translate(396.30 876.70) scale(1.060 1)" font-size="20" text-anchor="end" fill="#444444">0</text>
<line x1="401.00" y1="843.62" x2="411.00" y2="843.62" stroke="#555555" stroke-width="2"/>
<text transform="translate(396.30 848.92) scale(1.060 1)" font-size="20" text-anchor="end" fill="#444444">5</text>
<line x1="401.00" y1="815.85" x2="411.00" y2="815.85" stroke="#555555" stroke-width="2"/>
<text transform="translate(396.30 821.15) scale(1.060 1)" font-size="20" text-anchor="end" fill="#444444">10</text>
<line x1="401.00" y1="788.08" x2="411.00" y2="788.08" stroke="#555555" stroke-width="2"/>
<text transform="translate(396.30 793.38) scale(1.060 1)" font-size="20" text-anchor="end" fill="#444444">15</text>
<line x1="401.00" y1="760.30" x2="411.00" y2="760.30" stroke="#555555" stroke-width="2"/>
<text transform="translate(396.30 765.60) scale(1.060 1)" font-size="20" text-anchor="end" fill="#444444">20</text>
<line x1="401.00" y1="732.52" x2="411.00" y2="732.52" stroke="#555555" stroke-width="2"/>
<text transform="translate(396.30 737.82) scale(1.060 1)" font-size="20" text-anchor="end" fill="#444444">25</text>
<line x1="401.00" y1="704.75" x2="411.00" y2="704.75" stroke="#555555" stroke-width="2"/>
<text transform="translate(396.30 710.05) scale(1.060 1)" font-size="20" text-anchor="end" fill="#444444">30</text>
<line x1="401.00" y1="676.98" x2="411.00" y2="676.98" stroke="#555555" stroke-width="2"/>
<text transform="translate(396.30 682.27) scale(1.060 1)" font-size="20" text-anchor="end" fill="#444444">35</text>
<line x1="401.00" y1="649.20" x2="411.00" y2="649.20" stroke="#555555" stroke-width="2"/>
<text transform="translate(396.30 652.00) scale(1.060 1)" font-size="20" text-anchor="end" fill="#444444">40</text>
<line x1="402.00" y1="1093.60" x2="1566.50" y2="1093.60" stroke="#555555" stroke-width="2.2"/>
<line x1="443.00" y1="1093.60" x2="443.00" y2="1104.60" stroke="#555555" stroke-width="2"/>
<text transform="translate(443.00 1128.20) scale(1.030 1)" font-size="21" text-anchor="middle" fill="#444444">0</text>
<line x1="501.22" y1="1093.60" x2="501.22" y2="1104.60" stroke="#555555" stroke-width="2"/>
<text transform="translate(501.22 1128.20) scale(1.030 1)" font-size="21" text-anchor="middle" fill="#444444">7</text>
<line x1="551.12" y1="1093.60" x2="551.12" y2="1104.60" stroke="#555555" stroke-width="2"/>
<text transform="translate(551.12 1128.20) scale(1.030 1)" font-size="21" text-anchor="middle" fill="#444444">13</text>
<line x1="601.02" y1="1093.60" x2="601.02" y2="1104.60" stroke="#555555" stroke-width="2"/>
<text transform="translate(601.02 1128.20) scale(1.030 1)" font-size="21" text-anchor="middle" fill="#444444">19</text>
<line x1="650.92" y1="1093.60" x2="650.92" y2="1104.60" stroke="#555555" stroke-width="2"/>
<text transform="translate(650.92 1128.20) scale(1.030 1)" font-size="21" text-anchor="middle" fill="#444444">25</text>
<line x1="700.83" y1="1093.60" x2="700.83" y2="1104.60" stroke="#555555" stroke-width="2"/>
<text transform="translate(700.83 1128.20) scale(1.030 1)" font-size="21" text-anchor="middle" fill="#444444">31</text>
<line x1="750.73" y1="1093.60" x2="750.73" y2="1104.60" stroke="#555555" stroke-width="2"/>
<text transform="translate(750.73 1128.20) scale(1.030 1)" font-size="21" text-anchor="middle" fill="#444444">37</text>
<line x1="800.63" y1="1093.60" x2="800.63" y2="1104.60" stroke="#555555" stroke-width="2"/>
<text transform="translate(800.63 1128.20) scale(1.030 1)" font-size="21" text-anchor="middle" fill="#444444">43</text>
<line x1="850.53" y1="1093.60" x2="850.53" y2="1104.60" stroke="#555555" stroke-width="2"/>
<text transform="translate(850.53 1128.20) scale(1.030 1)" font-size="21" text-anchor="middle" fill="#444444">49</text>
<line x1="900.43" y1="1093.60" x2="900.43" y2="1104.60" stroke="#555555" stroke-width="2"/>
<text transform="translate(900.43 1128.20) scale(1.030 1)" font-size="21" text-anchor="middle" fill="#444444">55</text>
<line x1="950.34" y1="1093.60" x2="950.34" y2="1104.60" stroke="#555555" stroke-width="2"/>
<text transform="translate(950.34 1128.20) scale(1.030 1)" font-size="21" text-anchor="middle" fill="#444444">61</text>
<line x1="1000.24" y1="1093.60" x2="1000.24" y2="1104.60" stroke="#555555" stroke-width="2"/>
<text transform="translate(1000.24 1128.20) scale(1.030 1)" font-size="21" text-anchor="middle" fill="#444444">67</text>
<line x1="1050.14" y1="1093.60" x2="1050.14" y2="1104.60" stroke="#555555" stroke-width="2"/>
<text transform="translate(1050.14 1128.20) scale(1.030 1)" font-size="21" text-anchor="middle" fill="#444444">73</text>
<line x1="1100.04" y1="1093.60" x2="1100.04" y2="1104.60" stroke="#555555" stroke-width="2"/>
<text transform="translate(1100.04 1128.20) scale(1.030 1)" font-size="21" text-anchor="middle" fill="#444444">79</text>
<line x1="1149.95" y1="1093.60" x2="1149.95" y2="1104.60" stroke="#555555" stroke-width="2"/>
<text transform="translate(1149.95 1128.20) scale(1.030 1)" font-size="21" text-anchor="middle" fill="#444444">85</text>
<line x1="1199.85" y1="1093.60" x2="1199.85" y2="1104.60" stroke="#555555" stroke-width="2"/>
<text transform="translate(1199.85 1128.20) scale(1.030 1)" font-size="21" text-anchor="middle" fill="#444444">91</text>
<line x1="1249.75" y1="1093.60" x2="1249.75" y2="1104.60" stroke="#555555" stroke-width="2"/>
<text transform="translate(1249.75 1128.20) scale(1.030 1)" font-size="21" text-anchor="middle" fill="#444444">97</text>
<line x1="1299.65" y1="1093.60" x2="1299.65" y2="1104.60" stroke="#555555" stroke-width="2"/>
<text transform="translate(1299.65 1128.20) scale(1.030 1)" font-size="21" text-anchor="middle" fill="#444444">103</text>
<line x1="1349.55" y1="1093.60" x2="1349.55" y2="1104.60" stroke="#555555" stroke-width="2"/>
<text transform="translate(1349.55 1128.20) scale(1.030 1)" font-size="21" text-anchor="middle" fill="#444444">109</text>
<line x1="1399.45" y1="1093.60" x2="1399.45" y2="1104.60" stroke="#555555" stroke-width="2"/>
<text transform="translate(1399.45 1128.20) scale(1.030 1)" font-size="21" text-anchor="middle" fill="#444444">115</text>
<line x1="1449.36" y1="1093.60" x2="1449.36" y2="1104.60" stroke="#555555" stroke-width="2"/>
<text transform="translate(1449.36 1128.20) scale(1.030 1)" font-size="21" text-anchor="middle" fill="#444444">121</text>
<line x1="1499.26" y1="1093.60" x2="1499.26" y2="1104.60" stroke="#555555" stroke-width="2"/>
<text transform="translate(1499.26 1128.20) scale(1.030 1)" font-size="21" text-anchor="middle" fill="#444444">127</text>
<line x1="1549.16" y1="1093.60" x2="1549.16" y2="1104.60" stroke="#555555" stroke-width="2"/>
<text transform="translate(1549.16 1128.20) scale(1.030 1)" font-size="21" text-anchor="middle" fill="#444444">133</text>
<text x="975.30" y="1156.10" font-size="21.3" text-anchor="middle" font-weight="bold" fill="#444444">Weeks</text>
<line x1="411.00" y1="871.40" x2="1552.00" y2="871.40" stroke="#4a4a4a" stroke-width="2"/>
<line x1="411.00" y1="788.08" x2="1552.00" y2="788.08" stroke="#4a4a4a" stroke-width="2.3" stroke-dasharray="9 9.3"/>
<line x1="411.00" y1="954.72" x2="1552.00" y2="954.72" stroke="#4a4a4a" stroke-width="2.3" stroke-dasharray="9 9.3"/>
<text transform="translate(322 871.4) rotate(-90) scale(1.019 1)" font-size="21" font-weight="bold" text-anchor="middle" fill="#444444">Least squares mean change from</text>
<text transform="translate(348 871.4) rotate(-90) scale(1.019 1)" font-size="21" font-weight="bold" text-anchor="middle" fill="#444444">baseline (95%CI)</text>
<polyline points="443.00,871.40 509.22,848.62 559.12,840.85 609.02,848.62 658.92,855.29 708.83,856.96 758.73,845.29 808.63,851.96 858.53,865.85 908.43,866.96 958.34,840.29 1008.24,858.07 1058.14,846.96 1108.04,848.07 1157.95,841.96 1207.85,853.07 1257.75,846.96 1307.65,833.07 1357.55,834.18 1407.45,841.40 1457.36,826.96 1507.26,835.85 1557.16,820.85" fill="none" stroke="#a0a0a0" stroke-width="2" stroke-linejoin="round"/>
<line x1="509.22" y1="838.63" x2="509.22" y2="859.73" stroke="#a0a0a0" stroke-width="1.8"/>
<line x1="500.72" y1="838.63" x2="517.72" y2="838.63" stroke="#a0a0a0" stroke-width="2.2"/>
<line x1="500.72" y1="859.73" x2="517.72" y2="859.73" stroke="#a0a0a0" stroke-width="2.2"/>
<line x1="559.12" y1="831.40" x2="559.12" y2="853.07" stroke="#a0a0a0" stroke-width="1.8"/>
<line x1="550.62" y1="831.40" x2="567.62" y2="831.40" stroke="#a0a0a0" stroke-width="2.2"/>
<line x1="550.62" y1="853.07" x2="567.62" y2="853.07" stroke="#a0a0a0" stroke-width="2.2"/>
<line x1="609.02" y1="838.63" x2="609.02" y2="860.29" stroke="#a0a0a0" stroke-width="1.8"/>
<line x1="600.52" y1="838.63" x2="617.52" y2="838.63" stroke="#a0a0a0" stroke-width="2.2"/>
<line x1="600.52" y1="860.29" x2="617.52" y2="860.29" stroke="#a0a0a0" stroke-width="2.2"/>
<line x1="658.92" y1="843.07" x2="658.92" y2="868.07" stroke="#a0a0a0" stroke-width="1.8"/>
<line x1="650.42" y1="843.07" x2="667.42" y2="843.07" stroke="#a0a0a0" stroke-width="2.2"/>
<line x1="650.42" y1="868.07" x2="667.42" y2="868.07" stroke="#a0a0a0" stroke-width="2.2"/>
<line x1="708.83" y1="842.51" x2="708.83" y2="869.73" stroke="#a0a0a0" stroke-width="1.8"/>
<line x1="700.33" y1="842.51" x2="717.33" y2="842.51" stroke="#a0a0a0" stroke-width="2.2"/>
<line x1="700.33" y1="869.73" x2="717.33" y2="869.73" stroke="#a0a0a0" stroke-width="2.2"/>
<line x1="758.73" y1="831.40" x2="758.73" y2="860.29" stroke="#a0a0a0" stroke-width="1.8"/>
<line x1="750.23" y1="831.40" x2="767.23" y2="831.40" stroke="#a0a0a0" stroke-width="2.2"/>
<line x1="750.23" y1="860.29" x2="767.23" y2="860.29" stroke="#a0a0a0" stroke-width="2.2"/>
<line x1="808.63" y1="837.51" x2="808.63" y2="870.84" stroke="#a0a0a0" stroke-width="1.8"/>
<line x1="800.13" y1="837.51" x2="817.13" y2="837.51" stroke="#a0a0a0" stroke-width="2.2"/>
<line x1="800.13" y1="870.84" x2="817.13" y2="870.84" stroke="#a0a0a0" stroke-width="2.2"/>
<line x1="858.53" y1="848.07" x2="858.53" y2="884.18" stroke="#a0a0a0" stroke-width="1.8"/>
<line x1="850.03" y1="848.07" x2="867.03" y2="848.07" stroke="#a0a0a0" stroke-width="2.2"/>
<line x1="850.03" y1="884.18" x2="867.03" y2="884.18" stroke="#a0a0a0" stroke-width="2.2"/>
<line x1="908.43" y1="846.40" x2="908.43" y2="885.29" stroke="#a0a0a0" stroke-width="1.8"/>
<line x1="899.93" y1="846.40" x2="916.93" y2="846.40" stroke="#a0a0a0" stroke-width="2.2"/>
<line x1="899.93" y1="885.29" x2="916.93" y2="885.29" stroke="#a0a0a0" stroke-width="2.2"/>
<line x1="958.34" y1="820.85" x2="958.34" y2="860.29" stroke="#a0a0a0" stroke-width="1.8"/>
<line x1="949.84" y1="820.85" x2="966.84" y2="820.85" stroke="#a0a0a0" stroke-width="2.2"/>
<line x1="949.84" y1="860.29" x2="966.84" y2="860.29" stroke="#a0a0a0" stroke-width="2.2"/>
<line x1="1008.24" y1="835.85" x2="1008.24" y2="879.18" stroke="#a0a0a0" stroke-width="1.8"/>
<line x1="999.74" y1="835.85" x2="1016.74" y2="835.85" stroke="#a0a0a0" stroke-width="2.2"/>
<line x1="999.74" y1="879.18" x2="1016.74" y2="879.18" stroke="#a0a0a0" stroke-width="2.2"/>
<line x1="1058.14" y1="824.18" x2="1058.14" y2="868.62" stroke="#a0a0a0" stroke-width="1.8"/>
<line x1="1049.64" y1="824.18" x2="1066.64" y2="824.18" stroke="#a0a0a0" stroke-width="2.2"/>
<line x1="1049.64" y1="868.62" x2="1066.64" y2="868.62" stroke="#a0a0a0" stroke-width="2.2"/>
<line x1="1108.04" y1="824.74" x2="1108.04" y2="869.18" stroke="#a0a0a0" stroke-width="1.8"/>
<line x1="1099.54" y1="824.74" x2="1116.54" y2="824.74" stroke="#a0a0a0" stroke-width="2.2"/>
<line x1="1099.54" y1="869.18" x2="1116.54" y2="869.18" stroke="#a0a0a0" stroke-width="2.2"/>
<line x1="1157.95" y1="818.63" x2="1157.95" y2="865.29" stroke="#a0a0a0" stroke-width="1.8"/>
<line x1="1149.45" y1="818.63" x2="1166.45" y2="818.63" stroke="#a0a0a0" stroke-width="2.2"/>
<line x1="1149.45" y1="865.29" x2="1166.45" y2="865.29" stroke="#a0a0a0" stroke-width="2.2"/>
<line x1="1207.85" y1="828.07" x2="1207.85" y2="876.95" stroke="#a0a0a0" stroke-width="1.8"/>
<line x1="1199.35" y1="828.07" x2="1216.35" y2="828.07" stroke="#a0a0a0" stroke-width="2.2"/>
<line x1="1199.35" y1="876.95" x2="1216.35" y2="876.95" stroke="#a0a0a0" stroke-width="2.2"/>
<line x1="1257.75" y1="824.18" x2="1257.75" y2="870.29" stroke="#a0a0a0" stroke-width="1.8"/>
<line x1="1249.25" y1="824.18" x2="1266.25" y2="824.18" stroke="#a0a0a0" stroke-width="2.2"/>
<line x1="1249.25" y1="870.29" x2="1266.25" y2="870.29" stroke="#a0a0a0" stroke-width="2.2"/>
<line x1="1307.65" y1="808.07" x2="1307.65" y2="860.29" stroke="#a0a0a0" stroke-width="1.8"/>
<line x1="1299.15" y1="808.07" x2="1316.15" y2="808.07" stroke="#a0a0a0" stroke-width="2.2"/>
<line x1="1299.15" y1="860.29" x2="1316.15" y2="860.29" stroke="#a0a0a0" stroke-width="2.2"/>
<line x1="1357.55" y1="808.07" x2="1357.55" y2="861.96" stroke="#a0a0a0" stroke-width="1.8"/>
<line x1="1349.05" y1="808.07" x2="1366.05" y2="808.07" stroke="#a0a0a0" stroke-width="2.2"/>
<line x1="1349.05" y1="861.96" x2="1366.05" y2="861.96" stroke="#a0a0a0" stroke-width="2.2"/>
<line x1="1407.45" y1="813.63" x2="1407.45" y2="867.51" stroke="#a0a0a0" stroke-width="1.8"/>
<line x1="1398.95" y1="813.63" x2="1415.95" y2="813.63" stroke="#a0a0a0" stroke-width="2.2"/>
<line x1="1398.95" y1="867.51" x2="1415.95" y2="867.51" stroke="#a0a0a0" stroke-width="2.2"/>
<line x1="1457.36" y1="797.52" x2="1457.36" y2="854.18" stroke="#a0a0a0" stroke-width="1.8"/>
<line x1="1448.86" y1="797.52" x2="1465.86" y2="797.52" stroke="#a0a0a0" stroke-width="2.2"/>
<line x1="1448.86" y1="854.18" x2="1465.86" y2="854.18" stroke="#a0a0a0" stroke-width="2.2"/>
<line x1="1507.26" y1="804.18" x2="1507.26" y2="867.51" stroke="#a0a0a0" stroke-width="1.8"/>
<line x1="1498.76" y1="804.18" x2="1515.76" y2="804.18" stroke="#a0a0a0" stroke-width="2.2"/>
<line x1="1498.76" y1="867.51" x2="1515.76" y2="867.51" stroke="#a0a0a0" stroke-width="2.2"/>
<line x1="1557.16" y1="789.19" x2="1557.16" y2="855.29" stroke="#a0a0a0" stroke-width="1.8"/>
<line x1="1548.66" y1="789.19" x2="1565.66" y2="789.19" stroke="#a0a0a0" stroke-width="2.2"/>
<line x1="1548.66" y1="855.29" x2="1565.66" y2="855.29" stroke="#a0a0a0" stroke-width="2.2"/>
<rect x="504.72" y="844.12" width="9.00" height="9.00" fill="#a6a6a6"/>
<rect x="554.62" y="836.35" width="9.00" height="9.00" fill="#a6a6a6"/>
<rect x="604.52" y="844.12" width="9.00" height="9.00" fill="#a6a6a6"/>
<rect x="654.42" y="850.79" width="9.00" height="9.00" fill="#a6a6a6"/>
<rect x="704.33" y="852.46" width="9.00" height="9.00" fill="#a6a6a6"/>
<rect x="754.23" y="840.79" width="9.00" height="9.00" fill="#a6a6a6"/>
<rect x="804.13" y="847.46" width="9.00" height="9.00" fill="#a6a6a6"/>
<rect x="854.03" y="861.35" width="9.00" height="9.00" fill="#a6a6a6"/>
<rect x="903.93" y="862.46" width="9.00" height="9.00" fill="#a6a6a6"/>
<rect x="953.84" y="835.79" width="9.00" height="9.00" fill="#a6a6a6"/>
<rect x="1003.74" y="853.57" width="9.00" height="9.00" fill="#a6a6a6"/>
<rect x="1053.64" y="842.46" width="9.00" height="9.00" fill="#a6a6a6"/>
<rect x="1103.54" y="843.57" width="9.00" height="9.00" fill="#a6a6a6"/>
<rect x="1153.45" y="837.46" width="9.00" height="9.00" fill="#a6a6a6"/>
<rect x="1203.35" y="848.57" width="9.00" height="9.00" fill="#a6a6a6"/>
<rect x="1253.25" y="842.46" width="9.00" height="9.00" fill="#a6a6a6"/>
<rect x="1303.15" y="828.57" width="9.00" height="9.00" fill="#a6a6a6"/>
<rect x="1353.05" y="829.68" width="9.00" height="9.00" fill="#a6a6a6"/>
<rect x="1402.95" y="836.90" width="9.00" height="9.00" fill="#a6a6a6"/>
<rect x="1452.86" y="822.46" width="9.00" height="9.00" fill="#a6a6a6"/>
<rect x="1502.76" y="831.35" width="9.00" height="9.00" fill="#a6a6a6"/>
<rect x="1552.66" y="816.35" width="9.00" height="9.00" fill="#a6a6a6"/>
<polyline points="443.00,871.40 501.22,833.63 551.12,833.07 601.02,830.85 650.92,833.63 700.83,831.40 750.73,828.07 800.63,829.18 850.53,821.96 900.43,828.07 950.34,825.29 1000.24,827.52 1050.14,818.07 1100.04,827.52 1149.95,808.63 1199.85,818.07 1249.75,811.41 1299.65,803.63 1349.55,790.85 1399.45,780.30 1449.36,773.63 1499.26,794.19 1549.16,768.08" fill="none" stroke="#262f74" stroke-width="2.2" stroke-linejoin="round"/>
<line x1="501.22" y1="822.52" x2="501.22" y2="842.51" stroke="#262f74" stroke-width="2.2"/>
<line x1="492.72" y1="822.52" x2="509.72" y2="822.52" stroke="#262f74" stroke-width="2.2"/>
<line x1="492.72" y1="842.51" x2="509.72" y2="842.51" stroke="#262f74" stroke-width="2.2"/>
<line x1="551.12" y1="821.96" x2="551.12" y2="842.51" stroke="#262f74" stroke-width="2.2"/>
<line x1="542.62" y1="821.96" x2="559.62" y2="821.96" stroke="#262f74" stroke-width="2.2"/>
<line x1="542.62" y1="842.51" x2="559.62" y2="842.51" stroke="#262f74" stroke-width="2.2"/>
<line x1="601.02" y1="820.29" x2="601.02" y2="841.40" stroke="#262f74" stroke-width="2.2"/>
<line x1="592.52" y1="820.29" x2="609.52" y2="820.29" stroke="#262f74" stroke-width="2.2"/>
<line x1="592.52" y1="841.40" x2="609.52" y2="841.40" stroke="#262f74" stroke-width="2.2"/>
<line x1="650.92" y1="821.40" x2="650.92" y2="845.29" stroke="#262f74" stroke-width="2.2"/>
<line x1="642.42" y1="821.40" x2="659.42" y2="821.40" stroke="#262f74" stroke-width="2.2"/>
<line x1="642.42" y1="845.29" x2="659.42" y2="845.29" stroke="#262f74" stroke-width="2.2"/>
<line x1="700.83" y1="819.74" x2="700.83" y2="843.07" stroke="#262f74" stroke-width="2.2"/>
<line x1="692.33" y1="819.74" x2="709.33" y2="819.74" stroke="#262f74" stroke-width="2.2"/>
<line x1="692.33" y1="843.07" x2="709.33" y2="843.07" stroke="#262f74" stroke-width="2.2"/>
<line x1="750.73" y1="815.29" x2="750.73" y2="840.29" stroke="#262f74" stroke-width="2.2"/>
<line x1="742.23" y1="815.29" x2="759.23" y2="815.29" stroke="#262f74" stroke-width="2.2"/>
<line x1="742.23" y1="840.29" x2="759.23" y2="840.29" stroke="#262f74" stroke-width="2.2"/>
<line x1="800.63" y1="815.85" x2="800.63" y2="841.40" stroke="#262f74" stroke-width="2.2"/>
<line x1="792.13" y1="815.85" x2="809.13" y2="815.85" stroke="#262f74" stroke-width="2.2"/>
<line x1="792.13" y1="841.40" x2="809.13" y2="841.40" stroke="#262f74" stroke-width="2.2"/>
<line x1="850.53" y1="808.07" x2="850.53" y2="834.18" stroke="#262f74" stroke-width="2.2"/>
<line x1="842.03" y1="808.07" x2="859.03" y2="808.07" stroke="#262f74" stroke-width="2.2"/>
<line x1="842.03" y1="834.18" x2="859.03" y2="834.18" stroke="#262f74" stroke-width="2.2"/>
<line x1="900.43" y1="813.63" x2="900.43" y2="840.85" stroke="#262f74" stroke-width="2.2"/>
<line x1="891.93" y1="813.63" x2="908.93" y2="813.63" stroke="#262f74" stroke-width="2.2"/>
<line x1="891.93" y1="840.85" x2="908.93" y2="840.85" stroke="#262f74" stroke-width="2.2"/>
<line x1="950.34" y1="810.29" x2="950.34" y2="838.07" stroke="#262f74" stroke-width="2.2"/>
<line x1="941.84" y1="810.29" x2="958.84" y2="810.29" stroke="#262f74" stroke-width="2.2"/>
<line x1="941.84" y1="838.07" x2="958.84" y2="838.07" stroke="#262f74" stroke-width="2.2"/>
<line x1="1000.24" y1="812.52" x2="1000.24" y2="844.18" stroke="#262f74" stroke-width="2.2"/>
<line x1="991.74" y1="812.52" x2="1008.74" y2="812.52" stroke="#262f74" stroke-width="2.2"/>
<line x1="991.74" y1="844.18" x2="1008.74" y2="844.18" stroke="#262f74" stroke-width="2.2"/>
<line x1="1050.14" y1="803.07" x2="1050.14" y2="833.07" stroke="#262f74" stroke-width="2.2"/>
<line x1="1041.64" y1="803.07" x2="1058.64" y2="803.07" stroke="#262f74" stroke-width="2.2"/>
<line x1="1041.64" y1="833.07" x2="1058.64" y2="833.07" stroke="#262f74" stroke-width="2.2"/>
<line x1="1100.04" y1="812.52" x2="1100.04" y2="843.07" stroke="#262f74" stroke-width="2.2"/>
<line x1="1091.54" y1="812.52" x2="1108.54" y2="812.52" stroke="#262f74" stroke-width="2.2"/>
<line x1="1091.54" y1="843.07" x2="1108.54" y2="843.07" stroke="#262f74" stroke-width="2.2"/>
<line x1="1149.95" y1="794.19" x2="1149.95" y2="825.85" stroke="#262f74" stroke-width="2.2"/>
<line x1="1141.45" y1="794.19" x2="1158.45" y2="794.19" stroke="#262f74" stroke-width="2.2"/>
<line x1="1141.45" y1="825.85" x2="1158.45" y2="825.85" stroke="#262f74" stroke-width="2.2"/>
<line x1="1199.85" y1="800.30" x2="1199.85" y2="835.85" stroke="#262f74" stroke-width="2.2"/>
<line x1="1191.35" y1="800.30" x2="1208.35" y2="800.30" stroke="#262f74" stroke-width="2.2"/>
<line x1="1191.35" y1="835.85" x2="1208.35" y2="835.85" stroke="#262f74" stroke-width="2.2"/>
<line x1="1249.75" y1="794.19" x2="1249.75" y2="828.07" stroke="#262f74" stroke-width="2.2"/>
<line x1="1241.25" y1="794.19" x2="1258.25" y2="794.19" stroke="#262f74" stroke-width="2.2"/>
<line x1="1241.25" y1="828.07" x2="1258.25" y2="828.07" stroke="#262f74" stroke-width="2.2"/>
<line x1="1299.65" y1="784.74" x2="1299.65" y2="819.74" stroke="#262f74" stroke-width="2.2"/>
<line x1="1291.15" y1="784.74" x2="1308.15" y2="784.74" stroke="#262f74" stroke-width="2.2"/>
<line x1="1291.15" y1="819.74" x2="1308.15" y2="819.74" stroke="#262f74" stroke-width="2.2"/>
<line x1="1349.55" y1="764.74" x2="1349.55" y2="816.96" stroke="#262f74" stroke-width="2.2"/>
<line x1="1341.05" y1="764.74" x2="1358.05" y2="764.74" stroke="#262f74" stroke-width="2.2"/>
<line x1="1341.05" y1="816.96" x2="1358.05" y2="816.96" stroke="#262f74" stroke-width="2.2"/>
<line x1="1399.45" y1="750.30" x2="1399.45" y2="810.85" stroke="#262f74" stroke-width="2.2"/>
<line x1="1390.95" y1="750.30" x2="1407.95" y2="750.30" stroke="#262f74" stroke-width="2.2"/>
<line x1="1390.95" y1="810.85" x2="1407.95" y2="810.85" stroke="#262f74" stroke-width="2.2"/>
<line x1="1449.36" y1="742.52" x2="1449.36" y2="804.18" stroke="#262f74" stroke-width="2.2"/>
<line x1="1440.86" y1="742.52" x2="1457.86" y2="742.52" stroke="#262f74" stroke-width="2.2"/>
<line x1="1440.86" y1="804.18" x2="1457.86" y2="804.18" stroke="#262f74" stroke-width="2.2"/>
<line x1="1499.26" y1="759.74" x2="1499.26" y2="826.96" stroke="#262f74" stroke-width="2.2"/>
<line x1="1490.76" y1="759.74" x2="1507.76" y2="759.74" stroke="#262f74" stroke-width="2.2"/>
<line x1="1490.76" y1="826.96" x2="1507.76" y2="826.96" stroke="#262f74" stroke-width="2.2"/>
<line x1="1549.16" y1="730.30" x2="1549.16" y2="805.30" stroke="#262f74" stroke-width="2.2"/>
<line x1="1540.66" y1="730.30" x2="1557.66" y2="730.30" stroke="#262f74" stroke-width="2.2"/>
<line x1="1540.66" y1="805.30" x2="1557.66" y2="805.30" stroke="#262f74" stroke-width="2.2"/>
<circle cx="443.00" cy="871.40" r="5.9" fill="#2e49a9" stroke="#22358c" stroke-width="1"/>
<circle cx="501.22" cy="833.63" r="5.9" fill="#2e49a9" stroke="#22358c" stroke-width="1"/>
<circle cx="551.12" cy="833.07" r="5.9" fill="#2e49a9" stroke="#22358c" stroke-width="1"/>
<circle cx="601.02" cy="830.85" r="5.9" fill="#2e49a9" stroke="#22358c" stroke-width="1"/>
<circle cx="650.92" cy="833.63" r="5.9" fill="#2e49a9" stroke="#22358c" stroke-width="1"/>
<circle cx="700.83" cy="831.40" r="5.9" fill="#2e49a9" stroke="#22358c" stroke-width="1"/>
<circle cx="750.73" cy="828.07" r="5.9" fill="#2e49a9" stroke="#22358c" stroke-width="1"/>
<circle cx="800.63" cy="829.18" r="5.9" fill="#2e49a9" stroke="#22358c" stroke-width="1"/>
<circle cx="850.53" cy="821.96" r="5.9" fill="#2e49a9" stroke="#22358c" stroke-width="1"/>
<circle cx="900.43" cy="828.07" r="5.9" fill="#2e49a9" stroke="#22358c" stroke-width="1"/>
<circle cx="950.34" cy="825.29" r="5.9" fill="#2e49a9" stroke="#22358c" stroke-width="1"/>
<circle cx="1000.24" cy="827.52" r="5.9" fill="#2e49a9" stroke="#22358c" stroke-width="1"/>
<circle cx="1050.14" cy="818.07" r="5.9" fill="#2e49a9" stroke="#22358c" stroke-width="1"/>
<circle cx="1100.04" cy="827.52" r="5.9" fill="#2e49a9" stroke="#22358c" stroke-width="1"/>
<circle cx="1149.95" cy="808.63" r="5.9" fill="#2e49a9" stroke="#22358c" stroke-width="1"/>
<circle cx="1199.85" cy="818.07" r="5.9" fill="#2e49a9" stroke="#22358c" stroke-width="1"/>
<circle cx="1249.75" cy="811.41" r="5.9" fill="#2e49a9" stroke="#22358c" stroke-width="1"/>
<circle cx="1299.65" cy="803.63" r="5.9" fill="#2e49a9" stroke="#22358c" stroke-width="1"/>
<circle cx="1349.55" cy="790.85" r="5.9" fill="#2e49a9" stroke="#22358c" stroke-width="1"/>
<circle cx="1399.45" cy="780.30" r="5.9" fill="#2e49a9" stroke="#22358c" stroke-width="1"/>
<circle cx="1449.36" cy="773.63" r="5.9" fill="#2e49a9" stroke="#22358c" stroke-width="1"/>
<circle cx="1499.26" cy="794.19" r="5.9" fill="#2e49a9" stroke="#22358c" stroke-width="1"/>
<circle cx="1549.16" cy="768.08" r="5.9" fill="#2e49a9" stroke="#22358c" stroke-width="1"/>
<text x="501.22" y="804.50" font-size="23.5" text-anchor="middle" fill="#3d3d3d">∗</text>
<text x="601.02" y="801.50" font-size="23.5" text-anchor="middle" fill="#3d3d3d">∗</text>
<text x="650.92" y="802.50" font-size="23.5" text-anchor="middle" fill="#3d3d3d">∗</text>
<text x="700.83" y="800.00" font-size="23.5" text-anchor="middle" fill="#3d3d3d">∗</text>
<text x="800.63" y="795.00" font-size="23.5" text-anchor="middle" fill="#3d3d3d">∗</text>
<text x="850.53" y="789.00" font-size="23.5" text-anchor="middle" fill="#3d3d3d">∗</text>
<text x="900.43" y="792.70" font-size="23.5" text-anchor="middle" fill="#3d3d3d">∗</text>
<text x="1000.24" y="792.70" font-size="23.5" text-anchor="middle" fill="#3d3d3d">∗</text>
<text x="1050.14" y="784.20" font-size="23.5" text-anchor="middle" fill="#3d3d3d">∗</text>
<text x="1149.95" y="774.00" font-size="23.5" text-anchor="middle" fill="#3d3d3d">∗</text>
<text x="1199.85" y="780.00" font-size="23.5" text-anchor="middle" fill="#3d3d3d">∗</text>
<text x="1249.75" y="775.70" font-size="23.5" text-anchor="middle" fill="#3d3d3d">∗</text>
<text x="1349.55" y="745.30" font-size="23.5" text-anchor="middle" fill="#3d3d3d">∗</text>
<text x="1399.45" y="729.30" font-size="23.5" text-anchor="middle" fill="#3d3d3d">∗</text>
<text x="1449.36" y="722.80" font-size="23.5" text-anchor="middle" fill="#3d3d3d">∗</text>
<text x="1549.16" y="710.30" font-size="23.5" text-anchor="middle" fill="#3d3d3d">∗</text>
<circle cx="434.60" cy="1038.80" r="6.2" fill="#2e49a9"/>
<text transform="translate(460.30 1047.90) scale(1.070 1)" font-size="20" text-anchor="start" fill="#444444">NIVO + chemo</text>
<rect x="430.00" y="1060.20" width="9.60" height="9.60" fill="#a6a6a6"/>
<text transform="translate(460.30 1074.20) scale(1.070 1)" font-size="20" text-anchor="start" fill="#444444">Chemo</text>
<text transform="translate(1579.50 704.50) scale(1.015 1)" font-size="21" text-anchor="start" fill="#444444">Improvement</text>
<text transform="translate(1579.50 1060.20) scale(1.015 1)" font-size="21" text-anchor="start" fill="#444444">Deterioration</text>
<line x1="1640.50" y1="721.40" x2="1640.50" y2="867.40" stroke="#4d4d4d" stroke-width="2.3"/>
<polygon points="1640.5,710.4 1633.1,723.0 1647.9,723.0" fill="#4d4d4d"/>
<line x1="1640.50" y1="883.40" x2="1640.50" y2="1027.20" stroke="#4d4d4d" stroke-width="2.3"/>
<polygon points="1640.5,1038.2 1633.1,1025.6 1647.9,1025.6" fill="#4d4d4d"/>
<text x="264.30" y="1168.40" font-size="21.2" text-anchor="start" font-weight="bold" fill="#444444">No. at risk</text>
<text transform="translate(265.20 1194.60) scale(1.070 1)" font-size="20" text-anchor="start" fill="#444444">NIVO + chemo</text>
<text transform="translate(265.20 1220.30) scale(1.070 1)" font-size="20" text-anchor="start" fill="#444444">Chemo</text>
<text transform="translate(443.00 1194.60) scale(1.040 1)" font-size="20" text-anchor="middle" fill="#444444">679</text>
<text transform="translate(443.00 1220.30) scale(1.040 1)" font-size="20" text-anchor="middle" fill="#444444">639</text>
<text transform="translate(501.22 1194.60) scale(1.040 1)" font-size="20" text-anchor="middle" fill="#444444">604</text>
<text transform="translate(501.22 1220.30) scale(1.040 1)" font-size="20" text-anchor="middle" fill="#444444">548</text>
<text transform="translate(551.12 1194.60) scale(1.040 1)" font-size="20" text-anchor="middle" fill="#444444">518</text>
<text transform="translate(551.12 1220.30) scale(1.040 1)" font-size="20" text-anchor="middle" fill="#444444">438</text>
<text transform="translate(601.02 1194.60) scale(1.040 1)" font-size="20" text-anchor="middle" fill="#444444">456</text>
<text transform="translate(601.02 1220.30) scale(1.040 1)" font-size="20" text-anchor="middle" fill="#444444">333</text>
<text transform="translate(650.92 1194.60) scale(1.040 1)" font-size="20" text-anchor="middle" fill="#444444">378</text>
<text transform="translate(650.92 1220.30) scale(1.040 1)" font-size="20" text-anchor="middle" fill="#444444">275</text>
<text transform="translate(700.83 1194.60) scale(1.040 1)" font-size="20" text-anchor="middle" fill="#444444">320</text>
<text transform="translate(700.83 1220.30) scale(1.040 1)" font-size="20" text-anchor="middle" fill="#444444">207</text>
<text transform="translate(750.73 1194.60) scale(1.040 1)" font-size="20" text-anchor="middle" fill="#444444">272</text>
<text transform="translate(750.73 1220.30) scale(1.040 1)" font-size="20" text-anchor="middle" fill="#444444">164</text>
<text transform="translate(800.63 1194.60) scale(1.040 1)" font-size="20" text-anchor="middle" fill="#444444">218</text>
<text transform="translate(800.63 1220.30) scale(1.040 1)" font-size="20" text-anchor="middle" fill="#444444">129</text>
<text transform="translate(850.53 1194.60) scale(1.040 1)" font-size="20" text-anchor="middle" fill="#444444">189</text>
<text transform="translate(850.53 1220.30) scale(1.040 1)" font-size="20" text-anchor="middle" fill="#444444">94</text>
<text transform="translate(900.43 1194.60) scale(1.040 1)" font-size="20" text-anchor="middle" fill="#444444">167</text>
<text transform="translate(900.43 1220.30) scale(1.040 1)" font-size="20" text-anchor="middle" fill="#444444">82</text>
<text transform="translate(950.34 1194.60) scale(1.040 1)" font-size="20" text-anchor="middle" fill="#444444">150</text>
<text transform="translate(950.34 1220.30) scale(1.040 1)" font-size="20" text-anchor="middle" fill="#444444">66</text>
<text transform="translate(1000.24 1194.60) scale(1.040 1)" font-size="20" text-anchor="middle" fill="#444444">129</text>
<text transform="translate(1000.24 1220.30) scale(1.040 1)" font-size="20" text-anchor="middle" fill="#444444">57</text>
<text transform="translate(1050.14 1194.60) scale(1.040 1)" font-size="20" text-anchor="middle" fill="#444444">113</text>
<text transform="translate(1050.14 1220.30) scale(1.040 1)" font-size="20" text-anchor="middle" fill="#444444">50</text>
<text transform="translate(1100.04 1194.60) scale(1.040 1)" font-size="20" text-anchor="middle" fill="#444444">98</text>
<text transform="translate(1100.04 1220.30) scale(1.040 1)" font-size="20" text-anchor="middle" fill="#444444">44</text>
<text transform="translate(1149.95 1194.60) scale(1.040 1)" font-size="20" text-anchor="middle" fill="#444444">86</text>
<text transform="translate(1149.95 1220.30) scale(1.040 1)" font-size="20" text-anchor="middle" fill="#444444">39</text>
<text transform="translate(1199.85 1194.60) scale(1.040 1)" font-size="20" text-anchor="middle" fill="#444444">78</text>
<text transform="translate(1199.85 1220.30) scale(1.040 1)" font-size="20" text-anchor="middle" fill="#444444">37</text>
<text transform="translate(1249.75 1194.60) scale(1.040 1)" font-size="20" text-anchor="middle" fill="#444444">72</text>
<text transform="translate(1249.75 1220.30) scale(1.040 1)" font-size="20" text-anchor="middle" fill="#444444">34</text>
<text transform="translate(1299.65 1194.60) scale(1.040 1)" font-size="20" text-anchor="middle" fill="#444444">63</text>
<text transform="translate(1299.65 1220.30) scale(1.040 1)" font-size="20" text-anchor="middle" fill="#444444">25</text>
<text transform="translate(1349.55 1194.60) scale(1.040 1)" font-size="20" text-anchor="middle" fill="#444444">24</text>
<text transform="translate(1349.55 1220.30) scale(1.040 1)" font-size="20" text-anchor="middle" fill="#444444">22</text>
<text transform="translate(1399.45 1194.60) scale(1.040 1)" font-size="20" text-anchor="middle" fill="#444444">20</text>
<text transform="translate(1399.45 1220.30) scale(1.040 1)" font-size="20" text-anchor="middle" fill="#444444">23</text>
<text transform="translate(1449.36 1194.60) scale(1.040 1)" font-size="20" text-anchor="middle" fill="#444444">17</text>
<text transform="translate(1449.36 1220.30) scale(1.040 1)" font-size="20" text-anchor="middle" fill="#444444">18</text>
<text transform="translate(1499.26 1194.60) scale(1.040 1)" font-size="20" text-anchor="middle" fill="#444444">15</text>
<text transform="translate(1499.26 1220.30) scale(1.040 1)" font-size="20" text-anchor="middle" fill="#444444">17</text>
<text transform="translate(1549.16 1194.60) scale(1.040 1)" font-size="20" text-anchor="middle" fill="#444444">11</text>
<text transform="translate(1549.16 1220.30) scale(1.040 1)" font-size="20" text-anchor="middle" fill="#444444">13</text>
<text x="1.00" y="1306.70" font-size="25" text-anchor="start" font-weight="bold" fill="#444444">c</text>
<text x="485.00" y="1301.00" font-size="18" text-anchor="middle" font-weight="bold" fill="#444444">NIVO + chemo</text>
<rect x="89.20" y="1430.67" width="30.80" height="238.63" fill="#3249a0"/>
<rect x="89.20" y="1373.29" width="30.80" height="57.38" fill="#2e7bbd"/>
<rect x="89.20" y="1331.39" width="30.80" height="41.90" fill="#45b1c7"/>
<rect x="89.20" y="1321.38" width="30.80" height="10.02" fill="#aad8b5"/>
<rect x="89.20" y="1315.00" width="30.80" height="6.38" fill="#737bbd"/>
<text x="104.60" y="1553.20" font-size="12.6" text-anchor="middle" fill="#e4e9ff" stroke="#e4e9ff" stroke-width="0.35">67</text>
<rect x="125.90" y="1569.68" width="30.80" height="99.62" fill="#3249a0"/>
<rect x="125.90" y="1434.35" width="30.80" height="135.33" fill="#2e7bbd"/>
<rect x="125.90" y="1348.83" width="30.80" height="85.52" fill="#45b1c7"/>
<rect x="125.90" y="1326.28" width="30.80" height="22.55" fill="#aad8b5"/>
<rect x="125.90" y="1315.00" width="30.80" height="11.28" fill="#737bbd"/>
<text x="141.30" y="1621.90" font-size="12.6" text-anchor="middle" fill="#e4e9ff" stroke="#e4e9ff" stroke-width="0.35">28</text>
<rect x="162.60" y="1573.34" width="30.80" height="95.96" fill="#3249a0"/>
<rect x="162.60" y="1446.81" width="30.80" height="126.54" fill="#2e7bbd"/>
<rect x="162.60" y="1357.18" width="30.80" height="89.63" fill="#45b1c7"/>
<rect x="162.60" y="1328.71" width="30.80" height="28.47" fill="#aad8b5"/>
<rect x="162.60" y="1315.00" width="30.80" height="13.71" fill="#737bbd"/>
<text x="178.00" y="1620.80" font-size="12.6" text-anchor="middle" fill="#e4e9ff" stroke="#e4e9ff" stroke-width="0.35">27</text>
<rect x="199.30" y="1564.51" width="30.80" height="104.79" fill="#3249a0"/>
<rect x="199.30" y="1438.51" width="30.80" height="126.00" fill="#2e7bbd"/>
<rect x="199.30" y="1367.40" width="30.80" height="71.11" fill="#45b1c7"/>
<rect x="199.30" y="1328.72" width="30.80" height="38.67" fill="#aad8b5"/>
<rect x="199.30" y="1315.00" width="30.80" height="13.72" fill="#737bbd"/>
<text x="214.70" y="1623.60" font-size="12.6" text-anchor="middle" fill="#e4e9ff" stroke="#e4e9ff" stroke-width="0.35">30</text>
<rect x="236.00" y="1562.86" width="30.80" height="106.44" fill="#3249a0"/>
<rect x="236.00" y="1434.56" width="30.80" height="128.31" fill="#2e7bbd"/>
<rect x="236.00" y="1348.53" width="30.80" height="86.02" fill="#45b1c7"/>
<rect x="236.00" y="1317.92" width="30.80" height="30.62" fill="#aad8b5"/>
<rect x="236.00" y="1315.00" width="30.80" height="2.92" fill="#737bbd"/>
<text x="251.40" y="1617.00" font-size="12.6" text-anchor="middle" fill="#e4e9ff" stroke="#e4e9ff" stroke-width="0.35">30</text>
<rect x="272.70" y="1568.32" width="30.80" height="100.98" fill="#3249a0"/>
<rect x="272.70" y="1421.12" width="30.80" height="147.20" fill="#2e7bbd"/>
<rect x="272.70" y="1344.10" width="30.80" height="77.02" fill="#45b1c7"/>
<rect x="272.70" y="1321.85" width="30.80" height="22.25" fill="#aad8b5"/>
<rect x="272.70" y="1315.00" width="30.80" height="6.85" fill="#737bbd"/>
<text x="288.10" y="1618.10" font-size="12.6" text-anchor="middle" fill="#e4e9ff" stroke="#e4e9ff" stroke-width="0.35">29</text>
<rect x="309.40" y="1549.26" width="30.80" height="120.04" fill="#3249a0"/>
<rect x="309.40" y="1433.10" width="30.80" height="116.16" fill="#2e7bbd"/>
<rect x="309.40" y="1355.66" width="30.80" height="77.44" fill="#45b1c7"/>
<rect x="309.40" y="1320.81" width="30.80" height="34.85" fill="#aad8b5"/>
<rect x="309.40" y="1315.00" width="30.80" height="5.81" fill="#737bbd"/>
<text x="324.80" y="1613.10" font-size="12.6" text-anchor="middle" fill="#e4e9ff" stroke="#e4e9ff" stroke-width="0.35">34</text>
<rect x="346.10" y="1534.11" width="30.80" height="135.19" fill="#3249a0"/>
<rect x="346.10" y="1405.91" width="30.80" height="128.20" fill="#2e7bbd"/>
<rect x="346.10" y="1328.99" width="30.80" height="76.92" fill="#45b1c7"/>
<rect x="346.10" y="1317.33" width="30.80" height="11.65" fill="#aad8b5"/>
<rect x="346.10" y="1315.00" width="30.80" height="2.33" fill="#737bbd"/>
<text x="361.50" y="1608.80" font-size="12.6" text-anchor="middle" fill="#e4e9ff" stroke="#e4e9ff" stroke-width="0.35">38</text>
<rect x="382.80" y="1525.45" width="30.80" height="143.85" fill="#3249a0"/>
<rect x="382.80" y="1376.27" width="30.80" height="149.18" fill="#2e7bbd"/>
<rect x="382.80" y="1330.98" width="30.80" height="45.29" fill="#45b1c7"/>
<rect x="382.80" y="1317.66" width="30.80" height="13.32" fill="#aad8b5"/>
<rect x="382.80" y="1315.00" width="30.80" height="2.66" fill="#737bbd"/>
<text x="398.20" y="1597.20" font-size="12.6" text-anchor="middle" fill="#e4e9ff" stroke="#e4e9ff" stroke-width="0.35">41</text>
<rect x="419.50" y="1517.01" width="30.80" height="152.29" fill="#3249a0"/>
<rect x="419.50" y="1377.16" width="30.80" height="139.86" fill="#2e7bbd"/>
<rect x="419.50" y="1339.86" width="30.80" height="37.29" fill="#45b1c7"/>
<rect x="419.50" y="1321.22" width="30.80" height="18.65" fill="#aad8b5"/>
<rect x="419.50" y="1315.00" width="30.80" height="6.22" fill="#737bbd"/>
<text x="434.90" y="1592.80" font-size="12.6" text-anchor="middle" fill="#e4e9ff" stroke="#e4e9ff" stroke-width="0.35">43</text>
<rect x="456.20" y="1504.19" width="30.80" height="165.11" fill="#3249a0"/>
<rect x="456.20" y="1359.72" width="30.80" height="144.47" fill="#2e7bbd"/>
<rect x="456.20" y="1318.44" width="30.80" height="41.28" fill="#45b1c7"/>
<rect x="456.20" y="1315.00" width="30.80" height="3.44" fill="#aad8b5"/>
<text x="471.60" y="1587.30" font-size="12.6" text-anchor="middle" fill="#e4e9ff" stroke="#e4e9ff" stroke-width="0.35">47</text>
<rect x="492.90" y="1520.72" width="30.80" height="148.58" fill="#3249a0"/>
<rect x="492.90" y="1372.15" width="30.80" height="148.58" fill="#2e7bbd"/>
<rect x="492.90" y="1334.05" width="30.80" height="38.10" fill="#45b1c7"/>
<rect x="492.90" y="1318.81" width="30.80" height="15.24" fill="#aad8b5"/>
<rect x="492.90" y="1315.00" width="30.80" height="3.81" fill="#737bbd"/>
<text x="508.30" y="1600.50" font-size="12.6" text-anchor="middle" fill="#e4e9ff" stroke="#e4e9ff" stroke-width="0.35">42</text>
<rect x="529.60" y="1514.29" width="30.80" height="155.01" fill="#3249a0"/>
<rect x="529.60" y="1399.15" width="30.80" height="115.15" fill="#2e7bbd"/>
<rect x="529.60" y="1323.86" width="30.80" height="75.29" fill="#45b1c7"/>
<rect x="529.60" y="1315.00" width="30.80" height="8.86" fill="#aad8b5"/>
<text x="545.00" y="1593.90" font-size="12.6" text-anchor="middle" fill="#e4e9ff" stroke="#e4e9ff" stroke-width="0.35">44</text>
<rect x="566.30" y="1494.72" width="30.80" height="174.58" fill="#3249a0"/>
<rect x="566.30" y="1366.35" width="30.80" height="128.37" fill="#2e7bbd"/>
<rect x="566.30" y="1320.13" width="30.80" height="46.21" fill="#45b1c7"/>
<rect x="566.30" y="1315.00" width="30.80" height="5.13" fill="#aad8b5"/>
<text x="581.70" y="1579.10" font-size="12.6" text-anchor="middle" fill="#e4e9ff" stroke="#e4e9ff" stroke-width="0.35">49</text>
<rect x="603.00" y="1473.64" width="30.80" height="195.66" fill="#3249a0"/>
<rect x="603.00" y="1367.88" width="30.80" height="105.76" fill="#2e7bbd"/>
<rect x="603.00" y="1325.58" width="30.80" height="42.30" fill="#45b1c7"/>
<rect x="603.00" y="1315.00" width="30.80" height="10.58" fill="#aad8b5"/>
<text x="618.40" y="1581.30" font-size="12.6" text-anchor="middle" fill="#e4e9ff" stroke="#e4e9ff" stroke-width="0.35">55</text>
<rect x="639.70" y="1478.09" width="30.80" height="191.21" fill="#3249a0"/>
<rect x="639.70" y="1359.99" width="30.80" height="118.10" fill="#2e7bbd"/>
<rect x="639.70" y="1331.87" width="30.80" height="28.12" fill="#45b1c7"/>
<rect x="639.70" y="1315.00" width="30.80" height="16.87" fill="#aad8b5"/>
<text x="655.10" y="1590.10" font-size="12.6" text-anchor="middle" fill="#e4e9ff" stroke="#e4e9ff" stroke-width="0.35">54</text>
<rect x="676.40" y="1483.14" width="30.80" height="186.16" fill="#3249a0"/>
<rect x="676.40" y="1351.03" width="30.80" height="132.11" fill="#2e7bbd"/>
<rect x="676.40" y="1327.01" width="30.80" height="24.02" fill="#45b1c7"/>
<rect x="676.40" y="1315.00" width="30.80" height="12.01" fill="#aad8b5"/>
<text x="691.80" y="1593.40" font-size="12.6" text-anchor="middle" fill="#e4e9ff" stroke="#e4e9ff" stroke-width="0.35">53</text>
<rect x="713.10" y="1458.08" width="30.80" height="211.22" fill="#3249a0"/>
<rect x="713.10" y="1342.25" width="30.80" height="115.83" fill="#2e7bbd"/>
<rect x="713.10" y="1328.63" width="30.80" height="13.63" fill="#45b1c7"/>
<rect x="713.10" y="1315.00" width="30.80" height="13.63" fill="#aad8b5"/>
<text x="728.50" y="1565.90" font-size="12.6" text-anchor="middle" fill="#e4e9ff" stroke="#e4e9ff" stroke-width="0.35">60</text>
<rect x="749.80" y="1413.42" width="30.80" height="255.88" fill="#3249a0"/>
<rect x="749.80" y="1354.37" width="30.80" height="59.05" fill="#2e7bbd"/>
<rect x="749.80" y="1315.00" width="30.80" height="39.37" fill="#45b1c7"/>
<text x="765.20" y="1548.80" font-size="12.6" text-anchor="middle" fill="#e4e9ff" stroke="#e4e9ff" stroke-width="0.35">72</text>
<rect x="786.50" y="1403.58" width="30.80" height="265.72" fill="#3249a0"/>
<rect x="786.50" y="1337.14" width="30.80" height="66.43" fill="#2e7bbd"/>
<rect x="786.50" y="1315.00" width="30.80" height="22.14" fill="#45b1c7"/>
<text x="801.90" y="1541.10" font-size="12.6" text-anchor="middle" fill="#e4e9ff" stroke="#e4e9ff" stroke-width="0.35">75</text>
<rect x="823.20" y="1369.51" width="30.80" height="299.79" fill="#3249a0"/>
<rect x="823.20" y="1342.25" width="30.80" height="27.25" fill="#2e7bbd"/>
<rect x="823.20" y="1315.00" width="30.80" height="27.25" fill="#aad8b5"/>
<text x="838.60" y="1530.10" font-size="12.6" text-anchor="middle" fill="#e4e9ff" stroke="#e4e9ff" stroke-width="0.35">85</text>
<rect x="859.90" y="1411.63" width="30.80" height="257.67" fill="#3249a0"/>
<rect x="859.90" y="1347.21" width="30.80" height="64.42" fill="#2e7bbd"/>
<rect x="859.90" y="1315.00" width="30.80" height="32.21" fill="#45b1c7"/>
<text x="875.30" y="1542.80" font-size="12.6" text-anchor="middle" fill="#e4e9ff" stroke="#e4e9ff" stroke-width="0.35">73</text>
<line x1="74.00" y1="1315.00" x2="74.00" y2="1669.30" stroke="#555555" stroke-width="2"/>
<line x1="65.00" y1="1669.30" x2="74.00" y2="1669.30" stroke="#555555" stroke-width="2"/>
<text transform="translate(60.50 1675.60) scale(1.010 1)" font-size="17.8" text-anchor="end" fill="#444444">0</text>
<line x1="65.00" y1="1633.87" x2="74.00" y2="1633.87" stroke="#555555" stroke-width="2"/>
<text transform="translate(60.50 1640.17) scale(1.010 1)" font-size="17.8" text-anchor="end" fill="#444444">10</text>
<line x1="65.00" y1="1598.44" x2="74.00" y2="1598.44" stroke="#555555" stroke-width="2"/>
<text transform="translate(60.50 1604.74) scale(1.010 1)" font-size="17.8" text-anchor="end" fill="#444444">20</text>
<line x1="65.00" y1="1563.01" x2="74.00" y2="1563.01" stroke="#555555" stroke-width="2"/>
<text transform="translate(60.50 1569.31) scale(1.010 1)" font-size="17.8" text-anchor="end" fill="#444444">30</text>
<line x1="65.00" y1="1527.58" x2="74.00" y2="1527.58" stroke="#555555" stroke-width="2"/>
<text transform="translate(60.50 1533.88) scale(1.010 1)" font-size="17.8" text-anchor="end" fill="#444444">40</text>
<line x1="65.00" y1="1492.15" x2="74.00" y2="1492.15" stroke="#555555" stroke-width="2"/>
<text transform="translate(60.50 1498.45) scale(1.010 1)" font-size="17.8" text-anchor="end" fill="#444444">50</text>
<line x1="65.00" y1="1456.72" x2="74.00" y2="1456.72" stroke="#555555" stroke-width="2"/>
<text transform="translate(60.50 1463.02) scale(1.010 1)" font-size="17.8" text-anchor="end" fill="#444444">60</text>
<line x1="65.00" y1="1421.29" x2="74.00" y2="1421.29" stroke="#555555" stroke-width="2"/>
<text transform="translate(60.50 1427.59) scale(1.010 1)" font-size="17.8" text-anchor="end" fill="#444444">70</text>
<line x1="65.00" y1="1385.86" x2="74.00" y2="1385.86" stroke="#555555" stroke-width="2"/>
<text transform="translate(60.50 1392.16) scale(1.010 1)" font-size="17.8" text-anchor="end" fill="#444444">80</text>
<line x1="65.00" y1="1350.43" x2="74.00" y2="1350.43" stroke="#555555" stroke-width="2"/>
<text transform="translate(60.50 1356.73) scale(1.010 1)" font-size="17.8" text-anchor="end" fill="#444444">90</text>
<line x1="65.00" y1="1315.00" x2="74.00" y2="1315.00" stroke="#555555" stroke-width="2"/>
<text transform="translate(60.50 1321.30) scale(1.010 1)" font-size="17.8" text-anchor="end" fill="#444444">100</text>
<line x1="65.00" y1="1669.30" x2="905.00" y2="1669.30" stroke="#555555" stroke-width="2.2"/>
<line x1="104.60" y1="1669.30" x2="104.60" y2="1678.30" stroke="#555555" stroke-width="2"/>
<text transform="translate(104.60 1697.60) scale(1.030 1)" font-size="17.8" text-anchor="middle" fill="#444444">BL</text>
<line x1="141.30" y1="1669.30" x2="141.30" y2="1678.30" stroke="#555555" stroke-width="2"/>
<text transform="translate(141.30 1697.60) scale(1.030 1)" font-size="17.8" text-anchor="middle" fill="#444444">7</text>
<line x1="178.00" y1="1669.30" x2="178.00" y2="1678.30" stroke="#555555" stroke-width="2"/>
<text transform="translate(178.00 1697.60) scale(1.030 1)" font-size="17.8" text-anchor="middle" fill="#444444">13</text>
<line x1="214.70" y1="1669.30" x2="214.70" y2="1678.30" stroke="#555555" stroke-width="2"/>
<text transform="translate(214.70 1697.60) scale(1.030 1)" font-size="17.8" text-anchor="middle" fill="#444444">19</text>
<line x1="251.40" y1="1669.30" x2="251.40" y2="1678.30" stroke="#555555" stroke-width="2"/>
<text transform="translate(251.40 1697.60) scale(1.030 1)" font-size="17.8" text-anchor="middle" fill="#444444">25</text>
<line x1="288.10" y1="1669.30" x2="288.10" y2="1678.30" stroke="#555555" stroke-width="2"/>
<text transform="translate(288.10 1697.60) scale(1.030 1)" font-size="17.8" text-anchor="middle" fill="#444444">31</text>
<line x1="324.80" y1="1669.30" x2="324.80" y2="1678.30" stroke="#555555" stroke-width="2"/>
<text transform="translate(324.80 1697.60) scale(1.030 1)" font-size="17.8" text-anchor="middle" fill="#444444">37</text>
<line x1="361.50" y1="1669.30" x2="361.50" y2="1678.30" stroke="#555555" stroke-width="2"/>
<text transform="translate(361.50 1697.60) scale(1.030 1)" font-size="17.8" text-anchor="middle" fill="#444444">43</text>
<line x1="398.20" y1="1669.30" x2="398.20" y2="1678.30" stroke="#555555" stroke-width="2"/>
<text transform="translate(398.20 1697.60) scale(1.030 1)" font-size="17.8" text-anchor="middle" fill="#444444">49</text>
<line x1="434.90" y1="1669.30" x2="434.90" y2="1678.30" stroke="#555555" stroke-width="2"/>
<text transform="translate(434.90 1697.60) scale(1.030 1)" font-size="17.8" text-anchor="middle" fill="#444444">55</text>
<line x1="471.60" y1="1669.30" x2="471.60" y2="1678.30" stroke="#555555" stroke-width="2"/>
<text transform="translate(471.60 1697.60) scale(1.030 1)" font-size="17.8" text-anchor="middle" fill="#444444">61</text>
<line x1="508.30" y1="1669.30" x2="508.30" y2="1678.30" stroke="#555555" stroke-width="2"/>
<text transform="translate(508.30 1697.60) scale(1.030 1)" font-size="17.8" text-anchor="middle" fill="#444444">67</text>
<line x1="545.00" y1="1669.30" x2="545.00" y2="1678.30" stroke="#555555" stroke-width="2"/>
<text transform="translate(545.00 1697.60) scale(1.030 1)" font-size="17.8" text-anchor="middle" fill="#444444">73</text>
<line x1="581.70" y1="1669.30" x2="581.70" y2="1678.30" stroke="#555555" stroke-width="2"/>
<text transform="translate(581.70 1697.60) scale(1.030 1)" font-size="17.8" text-anchor="middle" fill="#444444">79</text>
<line x1="618.40" y1="1669.30" x2="618.40" y2="1678.30" stroke="#555555" stroke-width="2"/>
<text transform="translate(618.40 1697.60) scale(1.030 1)" font-size="17.8" text-anchor="middle" fill="#444444">85</text>
<line x1="655.10" y1="1669.30" x2="655.10" y2="1678.30" stroke="#555555" stroke-width="2"/>
<text transform="translate(655.10 1697.60) scale(1.030 1)" font-size="17.8" text-anchor="middle" fill="#444444">91</text>
<line x1="691.80" y1="1669.30" x2="691.80" y2="1678.30" stroke="#555555" stroke-width="2"/>
<text transform="translate(691.80 1697.60) scale(1.030 1)" font-size="17.8" text-anchor="middle" fill="#444444">97</text>
<line x1="728.50" y1="1669.30" x2="728.50" y2="1678.30" stroke="#555555" stroke-width="2"/>
<text transform="translate(728.50 1697.60) scale(1.030 1)" font-size="17.8" text-anchor="middle" fill="#444444">103</text>
<line x1="765.20" y1="1669.30" x2="765.20" y2="1678.30" stroke="#555555" stroke-width="2"/>
<text transform="translate(765.20 1697.60) scale(1.030 1)" font-size="17.8" text-anchor="middle" fill="#444444">109</text>
<line x1="801.90" y1="1669.30" x2="801.90" y2="1678.30" stroke="#555555" stroke-width="2"/>
<text transform="translate(801.90 1697.60) scale(1.030 1)" font-size="17.8" text-anchor="middle" fill="#444444">115</text>
<line x1="838.60" y1="1669.30" x2="838.60" y2="1678.30" stroke="#555555" stroke-width="2"/>
<text transform="translate(838.60 1697.60) scale(1.030 1)" font-size="17.8" text-anchor="middle" fill="#444444">121</text>
<line x1="875.30" y1="1669.30" x2="875.30" y2="1678.30" stroke="#555555" stroke-width="2"/>
<text transform="translate(875.30 1697.60) scale(1.030 1)" font-size="17.8" text-anchor="middle" fill="#444444">127</text>
<text x="485.00" y="1724.30" font-size="18" text-anchor="middle" font-weight="bold" fill="#444444">Weeks</text>
<text transform="translate(20.2 1492.2) rotate(-90)" font-size="17.6" font-weight="bold" text-anchor="middle" fill="#444444">Percentage (%)</text>
<rect x="202.80" y="1737.80" width="16.00" height="16.00" fill="#3249a0"/>
<text x="226.20" y="1752.40" font-size="17.9" text-anchor="start" fill="#444444">Not at all</text>
<rect x="314.80" y="1737.80" width="16.00" height="16.00" fill="#2e7bbd"/>
<text x="338.20" y="1752.40" font-size="17.9" text-anchor="start" fill="#444444">A little</text>
<rect x="403.40" y="1737.80" width="16.00" height="16.00" fill="#45b1c7"/>
<text x="426.80" y="1752.40" font-size="17.9" text-anchor="start" fill="#444444">Somewhat</text>
<rect x="530.20" y="1737.80" width="16.00" height="16.00" fill="#aad8b5"/>
<text x="553.60" y="1752.40" font-size="17.9" text-anchor="start" fill="#444444">Quite a bit</text>
<rect x="655.70" y="1737.80" width="16.00" height="16.00" fill="#737bbd"/>
<text x="679.10" y="1752.40" font-size="17.9" text-anchor="start" fill="#444444">Very much</text>
<text x="5.50" y="1782.00" font-size="14.3" text-anchor="start" font-weight="bold" fill="#444444">No. of Patients with Assessments</text>
<text transform="translate(5.50 1801.70) scale(1.030 1)" font-size="14" text-anchor="start" fill="#444444">Very much</text>
<text transform="translate(104.40 1801.70) scale(1.030 1)" font-size="14" text-anchor="middle" fill="#444444">7</text>
<text transform="translate(141.05 1801.70) scale(1.030 1)" font-size="14" text-anchor="middle" fill="#444444">12</text>
<text transform="translate(177.70 1801.70) scale(1.030 1)" font-size="14" text-anchor="middle" fill="#444444">13</text>
<text transform="translate(214.35 1801.70) scale(1.030 1)" font-size="14" text-anchor="middle" fill="#444444">11</text>
<text transform="translate(251.00 1801.70) scale(1.030 1)" font-size="14" text-anchor="middle" fill="#444444">2</text>
<text transform="translate(287.65 1801.70) scale(1.030 1)" font-size="14" text-anchor="middle" fill="#444444">4</text>
<text transform="translate(324.30 1801.70) scale(1.030 1)" font-size="14" text-anchor="middle" fill="#444444">3</text>
<text transform="translate(360.95 1801.70) scale(1.030 1)" font-size="14" text-anchor="middle" fill="#444444">1</text>
<text transform="translate(397.60 1801.70) scale(1.030 1)" font-size="14" text-anchor="middle" fill="#444444">1</text>
<text transform="translate(434.25 1801.70) scale(1.030 1)" font-size="14" text-anchor="middle" fill="#444444">2</text>
<text transform="translate(470.90 1801.70) scale(1.030 1)" font-size="14" text-anchor="middle" fill="#444444">0</text>
<text transform="translate(507.55 1801.70) scale(1.030 1)" font-size="14" text-anchor="middle" fill="#444444">1</text>
<text transform="translate(544.20 1801.70) scale(1.030 1)" font-size="14" text-anchor="middle" fill="#444444">0</text>
<text transform="translate(580.85 1801.70) scale(1.030 1)" font-size="14" text-anchor="middle" fill="#444444">0</text>
<text transform="translate(617.50 1801.70) scale(1.030 1)" font-size="14" text-anchor="middle" fill="#444444">0</text>
<text transform="translate(654.15 1801.70) scale(1.030 1)" font-size="14" text-anchor="middle" fill="#444444">0</text>
<text transform="translate(690.80 1801.70) scale(1.030 1)" font-size="14" text-anchor="middle" fill="#444444">0</text>
<text transform="translate(727.45 1801.70) scale(1.030 1)" font-size="14" text-anchor="middle" fill="#444444">0</text>
<text transform="translate(764.10 1801.70) scale(1.030 1)" font-size="14" text-anchor="middle" fill="#444444">0</text>
<text transform="translate(800.75 1801.70) scale(1.030 1)" font-size="14" text-anchor="middle" fill="#444444">0</text>
<text transform="translate(837.40 1801.70) scale(1.030 1)" font-size="14" text-anchor="middle" fill="#444444">0</text>
<text transform="translate(874.05 1801.70) scale(1.030 1)" font-size="14" text-anchor="middle" fill="#444444">0</text>
<text transform="translate(5.50 1821.40) scale(1.030 1)" font-size="14" text-anchor="start" fill="#444444">Quite a bit</text>
<text transform="translate(104.40 1821.40) scale(1.030 1)" font-size="14" text-anchor="middle" fill="#444444">11</text>
<text transform="translate(141.05 1821.40) scale(1.030 1)" font-size="14" text-anchor="middle" fill="#444444">24</text>
<text transform="translate(177.70 1821.40) scale(1.030 1)" font-size="14" text-anchor="middle" fill="#444444">27</text>
<text transform="translate(214.35 1821.40) scale(1.030 1)" font-size="14" text-anchor="middle" fill="#444444">31</text>
<text transform="translate(251.00 1821.40) scale(1.030 1)" font-size="14" text-anchor="middle" fill="#444444">21</text>
<text transform="translate(287.65 1821.40) scale(1.030 1)" font-size="14" text-anchor="middle" fill="#444444">13</text>
<text transform="translate(324.30 1821.40) scale(1.030 1)" font-size="14" text-anchor="middle" fill="#444444">18</text>
<text transform="translate(360.95 1821.40) scale(1.030 1)" font-size="14" text-anchor="middle" fill="#444444">5</text>
<text transform="translate(397.60 1821.40) scale(1.030 1)" font-size="14" text-anchor="middle" fill="#444444">5</text>
<text transform="translate(434.25 1821.40) scale(1.030 1)" font-size="14" text-anchor="middle" fill="#444444">6</text>
<text transform="translate(470.90 1821.40) scale(1.030 1)" font-size="14" text-anchor="middle" fill="#444444">1</text>
<text transform="translate(507.55 1821.40) scale(1.030 1)" font-size="14" text-anchor="middle" fill="#444444">4</text>
<text transform="translate(544.20 1821.40) scale(1.030 1)" font-size="14" text-anchor="middle" fill="#444444">2</text>
<text transform="translate(580.85 1821.40) scale(1.030 1)" font-size="14" text-anchor="middle" fill="#444444">1</text>
<text transform="translate(617.50 1821.40) scale(1.030 1)" font-size="14" text-anchor="middle" fill="#444444">2</text>
<text transform="translate(654.15 1821.40) scale(1.030 1)" font-size="14" text-anchor="middle" fill="#444444">3</text>
<text transform="translate(690.80 1821.40) scale(1.030 1)" font-size="14" text-anchor="middle" fill="#444444">2</text>
<text transform="translate(727.45 1821.40) scale(1.030 1)" font-size="14" text-anchor="middle" fill="#444444">2</text>
<text transform="translate(764.10 1821.40) scale(1.030 1)" font-size="14" text-anchor="middle" fill="#444444">0</text>
<text transform="translate(800.75 1821.40) scale(1.030 1)" font-size="14" text-anchor="middle" fill="#444444">0</text>
<text transform="translate(837.40 1821.40) scale(1.030 1)" font-size="14" text-anchor="middle" fill="#444444">1</text>
<text transform="translate(874.05 1821.40) scale(1.030 1)" font-size="14" text-anchor="middle" fill="#444444">0</text>
<text transform="translate(5.50 1841.10) scale(1.030 1)" font-size="14" text-anchor="start" fill="#444444">Somewhat</text>
<text transform="translate(104.40 1841.10) scale(1.030 1)" font-size="14" text-anchor="middle" fill="#444444">46</text>
<text transform="translate(141.05 1841.10) scale(1.030 1)" font-size="14" text-anchor="middle" fill="#444444">91</text>
<text transform="translate(177.70 1841.10) scale(1.030 1)" font-size="14" text-anchor="middle" fill="#444444">85</text>
<text transform="translate(214.35 1841.10) scale(1.030 1)" font-size="14" text-anchor="middle" fill="#444444">57</text>
<text transform="translate(251.00 1841.10) scale(1.030 1)" font-size="14" text-anchor="middle" fill="#444444">59</text>
<text transform="translate(287.65 1841.10) scale(1.030 1)" font-size="14" text-anchor="middle" fill="#444444">45</text>
<text transform="translate(324.30 1841.10) scale(1.030 1)" font-size="14" text-anchor="middle" fill="#444444">40</text>
<text transform="translate(360.95 1841.10) scale(1.030 1)" font-size="14" text-anchor="middle" fill="#444444">33</text>
<text transform="translate(397.60 1841.10) scale(1.030 1)" font-size="14" text-anchor="middle" fill="#444444">17</text>
<text transform="translate(434.25 1841.10) scale(1.030 1)" font-size="14" text-anchor="middle" fill="#444444">12</text>
<text transform="translate(470.90 1841.10) scale(1.030 1)" font-size="14" text-anchor="middle" fill="#444444">12</text>
<text transform="translate(507.55 1841.10) scale(1.030 1)" font-size="14" text-anchor="middle" fill="#444444">10</text>
<text transform="translate(544.20 1841.10) scale(1.030 1)" font-size="14" text-anchor="middle" fill="#444444">17</text>
<text transform="translate(580.85 1841.10) scale(1.030 1)" font-size="14" text-anchor="middle" fill="#444444">9</text>
<text transform="translate(617.50 1841.10) scale(1.030 1)" font-size="14" text-anchor="middle" fill="#444444">8</text>
<text transform="translate(654.15 1841.10) scale(1.030 1)" font-size="14" text-anchor="middle" fill="#444444">5</text>
<text transform="translate(690.80 1841.10) scale(1.030 1)" font-size="14" text-anchor="middle" fill="#444444">4</text>
<text transform="translate(727.45 1841.10) scale(1.030 1)" font-size="14" text-anchor="middle" fill="#444444">2</text>
<text transform="translate(764.10 1841.10) scale(1.030 1)" font-size="14" text-anchor="middle" fill="#444444">2</text>
<text transform="translate(800.75 1841.10) scale(1.030 1)" font-size="14" text-anchor="middle" fill="#444444">1</text>
<text transform="translate(837.40 1841.10) scale(1.030 1)" font-size="14" text-anchor="middle" fill="#444444">0</text>
<text transform="translate(874.05 1841.10) scale(1.030 1)" font-size="14" text-anchor="middle" fill="#444444">1</text>
<text transform="translate(5.50 1860.80) scale(1.030 1)" font-size="14" text-anchor="start" fill="#444444">A little bit</text>
<text transform="translate(104.40 1860.80) scale(1.030 1)" font-size="14" text-anchor="middle" fill="#444444">63</text>
<text transform="translate(141.05 1860.80) scale(1.030 1)" font-size="14" text-anchor="middle" fill="#444444">144</text>
<text transform="translate(177.70 1860.80) scale(1.030 1)" font-size="14" text-anchor="middle" fill="#444444">120</text>
<text transform="translate(214.35 1860.80) scale(1.030 1)" font-size="14" text-anchor="middle" fill="#444444">101</text>
<text transform="translate(251.00 1860.80) scale(1.030 1)" font-size="14" text-anchor="middle" fill="#444444">88</text>
<text transform="translate(287.65 1860.80) scale(1.030 1)" font-size="14" text-anchor="middle" fill="#444444">86</text>
<text transform="translate(324.30 1860.80) scale(1.030 1)" font-size="14" text-anchor="middle" fill="#444444">60</text>
<text transform="translate(360.95 1860.80) scale(1.030 1)" font-size="14" text-anchor="middle" fill="#444444">55</text>
<text transform="translate(397.60 1860.80) scale(1.030 1)" font-size="14" text-anchor="middle" fill="#444444">56</text>
<text transform="translate(434.25 1860.80) scale(1.030 1)" font-size="14" text-anchor="middle" fill="#444444">45</text>
<text transform="translate(470.90 1860.80) scale(1.030 1)" font-size="14" text-anchor="middle" fill="#444444">42</text>
<text transform="translate(507.55 1860.80) scale(1.030 1)" font-size="14" text-anchor="middle" fill="#444444">39</text>
<text transform="translate(544.20 1860.80) scale(1.030 1)" font-size="14" text-anchor="middle" fill="#444444">26</text>
<text transform="translate(580.85 1860.80) scale(1.030 1)" font-size="14" text-anchor="middle" fill="#444444">25</text>
<text transform="translate(617.50 1860.80) scale(1.030 1)" font-size="14" text-anchor="middle" fill="#444444">20</text>
<text transform="translate(654.15 1860.80) scale(1.030 1)" font-size="14" text-anchor="middle" fill="#444444">21</text>
<text transform="translate(690.80 1860.80) scale(1.030 1)" font-size="14" text-anchor="middle" fill="#444444">22</text>
<text transform="translate(727.45 1860.80) scale(1.030 1)" font-size="14" text-anchor="middle" fill="#444444">17</text>
<text transform="translate(764.10 1860.80) scale(1.030 1)" font-size="14" text-anchor="middle" fill="#444444">3</text>
<text transform="translate(800.75 1860.80) scale(1.030 1)" font-size="14" text-anchor="middle" fill="#444444">3</text>
<text transform="translate(837.40 1860.80) scale(1.030 1)" font-size="14" text-anchor="middle" fill="#444444">1</text>
<text transform="translate(874.05 1860.80) scale(1.030 1)" font-size="14" text-anchor="middle" fill="#444444">2</text>
<text transform="translate(5.50 1880.50) scale(1.030 1)" font-size="14" text-anchor="start" fill="#444444">Not at all</text>
<text transform="translate(104.40 1880.50) scale(1.030 1)" font-size="14" text-anchor="middle" fill="#444444">262</text>
<text transform="translate(141.05 1880.50) scale(1.030 1)" font-size="14" text-anchor="middle" fill="#444444">106</text>
<text transform="translate(177.70 1880.50) scale(1.030 1)" font-size="14" text-anchor="middle" fill="#444444">91</text>
<text transform="translate(214.35 1880.50) scale(1.030 1)" font-size="14" text-anchor="middle" fill="#444444">84</text>
<text transform="translate(251.00 1880.50) scale(1.030 1)" font-size="14" text-anchor="middle" fill="#444444">73</text>
<text transform="translate(287.65 1880.50) scale(1.030 1)" font-size="14" text-anchor="middle" fill="#444444">59</text>
<text transform="translate(324.30 1880.50) scale(1.030 1)" font-size="14" text-anchor="middle" fill="#444444">62</text>
<text transform="translate(360.95 1880.50) scale(1.030 1)" font-size="14" text-anchor="middle" fill="#444444">58</text>
<text transform="translate(397.60 1880.50) scale(1.030 1)" font-size="14" text-anchor="middle" fill="#444444">54</text>
<text transform="translate(434.25 1880.50) scale(1.030 1)" font-size="14" text-anchor="middle" fill="#444444">49</text>
<text transform="translate(470.90 1880.50) scale(1.030 1)" font-size="14" text-anchor="middle" fill="#444444">48</text>
<text transform="translate(507.55 1880.50) scale(1.030 1)" font-size="14" text-anchor="middle" fill="#444444">39</text>
<text transform="translate(544.20 1880.50) scale(1.030 1)" font-size="14" text-anchor="middle" fill="#444444">35</text>
<text transform="translate(580.85 1880.50) scale(1.030 1)" font-size="14" text-anchor="middle" fill="#444444">34</text>
<text transform="translate(617.50 1880.50) scale(1.030 1)" font-size="14" text-anchor="middle" fill="#444444">37</text>
<text transform="translate(654.15 1880.50) scale(1.030 1)" font-size="14" text-anchor="middle" fill="#444444">34</text>
<text transform="translate(690.80 1880.50) scale(1.030 1)" font-size="14" text-anchor="middle" fill="#444444">31</text>
<text transform="translate(727.45 1880.50) scale(1.030 1)" font-size="14" text-anchor="middle" fill="#444444">31</text>
<text transform="translate(764.10 1880.50) scale(1.030 1)" font-size="14" text-anchor="middle" fill="#444444">13</text>
<text transform="translate(800.75 1880.50) scale(1.030 1)" font-size="14" text-anchor="middle" fill="#444444">12</text>
<text transform="translate(837.40 1880.50) scale(1.030 1)" font-size="14" text-anchor="middle" fill="#444444">11</text>
<text transform="translate(874.05 1880.50) scale(1.030 1)" font-size="14" text-anchor="middle" fill="#444444">8</text>
<text x="1395.80" y="1301.00" font-size="18" text-anchor="middle" font-weight="bold" fill="#444444">Chemo</text>
<rect x="1000.50" y="1424.75" width="30.20" height="244.65" fill="#3249a0"/>
<rect x="1000.50" y="1367.30" width="30.20" height="57.45" fill="#2e7bbd"/>
<rect x="1000.50" y="1332.63" width="30.20" height="34.67" fill="#45b1c7"/>
<rect x="1000.50" y="1320.74" width="30.20" height="11.89" fill="#aad8b5"/>
<rect x="1000.50" y="1314.80" width="30.20" height="5.94" fill="#737bbd"/>
<text x="1015.60" y="1537.60" font-size="12.6" text-anchor="middle" fill="#e4e9ff" stroke="#e4e9ff" stroke-width="0.35">69</text>
<rect x="1037.70" y="1575.39" width="30.20" height="94.01" fill="#3249a0"/>
<rect x="1037.70" y="1448.67" width="30.20" height="126.72" fill="#2e7bbd"/>
<rect x="1037.70" y="1371.00" width="30.20" height="77.66" fill="#45b1c7"/>
<rect x="1037.70" y="1329.11" width="30.20" height="41.90" fill="#aad8b5"/>
<rect x="1037.70" y="1314.80" width="30.20" height="14.31" fill="#737bbd"/>
<text x="1052.80" y="1628.50" font-size="12.6" text-anchor="middle" fill="#e4e9ff" stroke="#e4e9ff" stroke-width="0.35">27</text>
<rect x="1072.40" y="1579.11" width="30.20" height="90.29" fill="#3249a0"/>
<rect x="1072.40" y="1444.34" width="30.20" height="134.77" fill="#2e7bbd"/>
<rect x="1072.40" y="1364.52" width="30.20" height="79.82" fill="#45b1c7"/>
<rect x="1072.40" y="1331.81" width="30.20" height="32.71" fill="#aad8b5"/>
<rect x="1072.40" y="1314.80" width="30.20" height="17.01" fill="#737bbd"/>
<text x="1087.50" y="1632.70" font-size="12.6" text-anchor="middle" fill="#e4e9ff" stroke="#e4e9ff" stroke-width="0.35">25</text>
<rect x="1110.80" y="1570.61" width="30.20" height="98.79" fill="#3249a0"/>
<rect x="1110.80" y="1433.00" width="30.20" height="137.61" fill="#2e7bbd"/>
<rect x="1110.80" y="1351.85" width="30.20" height="81.15" fill="#45b1c7"/>
<rect x="1110.80" y="1323.62" width="30.20" height="28.23" fill="#aad8b5"/>
<rect x="1110.80" y="1314.80" width="30.20" height="8.82" fill="#737bbd"/>
<text x="1125.90" y="1629.00" font-size="12.6" text-anchor="middle" fill="#e4e9ff" stroke="#e4e9ff" stroke-width="0.35">28</text>
<rect x="1146.80" y="1584.03" width="30.20" height="85.37" fill="#3249a0"/>
<rect x="1146.80" y="1443.94" width="30.20" height="140.09" fill="#2e7bbd"/>
<rect x="1146.80" y="1367.33" width="30.20" height="76.61" fill="#45b1c7"/>
<rect x="1146.80" y="1323.56" width="30.20" height="43.78" fill="#aad8b5"/>
<rect x="1146.80" y="1314.80" width="30.20" height="8.76" fill="#737bbd"/>
<text x="1161.90" y="1634.70" font-size="12.6" text-anchor="middle" fill="#e4e9ff" stroke="#e4e9ff" stroke-width="0.35">24</text>
<rect x="1184.50" y="1585.80" width="30.20" height="83.60" fill="#3249a0"/>
<rect x="1184.50" y="1444.53" width="30.20" height="141.26" fill="#2e7bbd"/>
<rect x="1184.50" y="1389.76" width="30.20" height="54.78" fill="#45b1c7"/>
<rect x="1184.50" y="1332.10" width="30.20" height="57.66" fill="#aad8b5"/>
<rect x="1184.50" y="1314.80" width="30.20" height="17.30" fill="#737bbd"/>
<text x="1199.60" y="1636.00" font-size="12.6" text-anchor="middle" fill="#e4e9ff" stroke="#e4e9ff" stroke-width="0.35">24</text>
<rect x="1222.40" y="1591.83" width="30.20" height="77.57" fill="#3249a0"/>
<rect x="1222.40" y="1410.84" width="30.20" height="180.99" fill="#2e7bbd"/>
<rect x="1222.40" y="1355.43" width="30.20" height="55.41" fill="#45b1c7"/>
<rect x="1222.40" y="1322.19" width="30.20" height="33.24" fill="#aad8b5"/>
<rect x="1222.40" y="1314.80" width="30.20" height="7.39" fill="#737bbd"/>
<text x="1237.50" y="1638.50" font-size="12.6" text-anchor="middle" fill="#e4e9ff" stroke="#e4e9ff" stroke-width="0.35">22</text>
<rect x="1258.30" y="1581.90" width="30.20" height="87.50" fill="#3249a0"/>
<rect x="1258.30" y="1416.11" width="30.20" height="165.79" fill="#2e7bbd"/>
<rect x="1258.30" y="1351.64" width="30.20" height="64.47" fill="#45b1c7"/>
<rect x="1258.30" y="1324.01" width="30.20" height="27.63" fill="#aad8b5"/>
<rect x="1258.30" y="1314.80" width="30.20" height="9.21" fill="#737bbd"/>
<text x="1273.40" y="1632.70" font-size="12.6" text-anchor="middle" fill="#e4e9ff" stroke="#e4e9ff" stroke-width="0.35">25</text>
<rect x="1293.50" y="1587.08" width="30.20" height="82.32" fill="#3249a0"/>
<rect x="1293.50" y="1416.11" width="30.20" height="170.97" fill="#2e7bbd"/>
<rect x="1293.50" y="1365.46" width="30.20" height="50.66" fill="#45b1c7"/>
<rect x="1293.50" y="1321.13" width="30.20" height="44.33" fill="#aad8b5"/>
<rect x="1293.50" y="1314.80" width="30.20" height="6.33" fill="#737bbd"/>
<text x="1308.60" y="1636.00" font-size="12.6" text-anchor="middle" fill="#e4e9ff" stroke="#e4e9ff" stroke-width="0.35">23</text>
<rect x="1331.00" y="1559.80" width="30.20" height="109.60" fill="#3249a0"/>
<rect x="1331.00" y="1392.17" width="30.20" height="167.63" fill="#2e7bbd"/>
<rect x="1331.00" y="1353.48" width="30.20" height="38.68" fill="#45b1c7"/>
<rect x="1331.00" y="1321.25" width="30.20" height="32.24" fill="#aad8b5"/>
<rect x="1331.00" y="1314.80" width="30.20" height="6.45" fill="#737bbd"/>
<text x="1346.10" y="1622.50" font-size="12.6" text-anchor="middle" fill="#e4e9ff" stroke="#e4e9ff" stroke-width="0.35">31</text>
<rect x="1367.90" y="1540.45" width="30.20" height="128.95" fill="#3249a0"/>
<rect x="1367.90" y="1395.39" width="30.20" height="145.06" fill="#2e7bbd"/>
<rect x="1367.90" y="1338.98" width="30.20" height="56.41" fill="#45b1c7"/>
<rect x="1367.90" y="1314.80" width="30.20" height="24.18" fill="#aad8b5"/>
<text x="1383.00" y="1609.40" font-size="12.6" text-anchor="middle" fill="#e4e9ff" stroke="#e4e9ff" stroke-width="0.35">36</text>
<rect x="1405.10" y="1588.35" width="30.20" height="81.05" fill="#3249a0"/>
<rect x="1405.10" y="1395.85" width="30.20" height="192.50" fill="#2e7bbd"/>
<rect x="1405.10" y="1345.19" width="30.20" height="50.66" fill="#45b1c7"/>
<rect x="1405.10" y="1314.80" width="30.20" height="30.39" fill="#aad8b5"/>
<text x="1420.20" y="1636.30" font-size="12.6" text-anchor="middle" fill="#e4e9ff" stroke="#e4e9ff" stroke-width="0.35">23</text>
<rect x="1440.90" y="1558.59" width="30.20" height="110.81" fill="#3249a0"/>
<rect x="1440.90" y="1425.61" width="30.20" height="132.98" fill="#2e7bbd"/>
<rect x="1440.90" y="1348.04" width="30.20" height="77.57" fill="#45b1c7"/>
<rect x="1440.90" y="1325.88" width="30.20" height="22.16" fill="#aad8b5"/>
<rect x="1440.90" y="1314.80" width="30.20" height="11.08" fill="#737bbd"/>
<text x="1456.00" y="1622.20" font-size="12.6" text-anchor="middle" fill="#e4e9ff" stroke="#e4e9ff" stroke-width="0.35">31</text>
<rect x="1477.90" y="1513.38" width="30.20" height="156.02" fill="#3249a0"/>
<rect x="1477.90" y="1371.54" width="30.20" height="141.84" fill="#2e7bbd"/>
<rect x="1477.90" y="1343.17" width="30.20" height="28.37" fill="#45b1c7"/>
<rect x="1477.90" y="1314.80" width="30.20" height="28.37" fill="#aad8b5"/>
<text x="1493.00" y="1599.20" font-size="12.6" text-anchor="middle" fill="#e4e9ff" stroke="#e4e9ff" stroke-width="0.35">44</text>
<rect x="1515.20" y="1499.81" width="30.20" height="169.59" fill="#3249a0"/>
<rect x="1515.20" y="1391.89" width="30.20" height="107.92" fill="#2e7bbd"/>
<rect x="1515.20" y="1345.63" width="30.20" height="46.25" fill="#45b1c7"/>
<rect x="1515.20" y="1330.22" width="30.20" height="15.42" fill="#aad8b5"/>
<rect x="1515.20" y="1314.80" width="30.20" height="15.42" fill="#737bbd"/>
<text x="1530.30" y="1591.40" font-size="12.6" text-anchor="middle" fill="#e4e9ff" stroke="#e4e9ff" stroke-width="0.35">48</text>
<rect x="1552.20" y="1508.22" width="30.20" height="161.18" fill="#3249a0"/>
<rect x="1552.20" y="1411.51" width="30.20" height="96.71" fill="#2e7bbd"/>
<rect x="1552.20" y="1347.04" width="30.20" height="64.47" fill="#45b1c7"/>
<rect x="1552.20" y="1314.80" width="30.20" height="32.24" fill="#aad8b5"/>
<text x="1567.30" y="1609.10" font-size="12.6" text-anchor="middle" fill="#e4e9ff" stroke="#e4e9ff" stroke-width="0.35">45</text>
<rect x="1588.70" y="1538.76" width="30.20" height="130.64" fill="#3249a0"/>
<rect x="1588.70" y="1389.45" width="30.20" height="149.31" fill="#2e7bbd"/>
<rect x="1588.70" y="1333.46" width="30.20" height="55.99" fill="#45b1c7"/>
<rect x="1588.70" y="1314.80" width="30.20" height="18.66" fill="#aad8b5"/>
<text x="1603.80" y="1619.60" font-size="12.6" text-anchor="middle" fill="#e4e9ff" stroke="#e4e9ff" stroke-width="0.35">37</text>
<rect x="1624.70" y="1606.82" width="30.20" height="62.58" fill="#3249a0"/>
<rect x="1624.70" y="1398.24" width="30.20" height="208.59" fill="#2e7bbd"/>
<rect x="1624.70" y="1314.80" width="30.20" height="83.44" fill="#45b1c7"/>
<text x="1639.80" y="1646.20" font-size="12.6" text-anchor="middle" fill="#e4e9ff" stroke="#e4e9ff" stroke-width="0.35">18</text>
<rect x="1662.00" y="1527.56" width="30.20" height="141.84" fill="#3249a0"/>
<rect x="1662.00" y="1409.36" width="30.20" height="118.20" fill="#2e7bbd"/>
<rect x="1662.00" y="1338.44" width="30.20" height="70.92" fill="#45b1c7"/>
<rect x="1662.00" y="1314.80" width="30.20" height="23.64" fill="#aad8b5"/>
<text x="1677.10" y="1599.20" font-size="12.6" text-anchor="middle" fill="#e4e9ff" stroke="#e4e9ff" stroke-width="0.35">40</text>
<rect x="1699.10" y="1568.09" width="30.20" height="101.31" fill="#3249a0"/>
<rect x="1699.10" y="1390.79" width="30.20" height="177.30" fill="#2e7bbd"/>
<rect x="1699.10" y="1340.13" width="30.20" height="50.66" fill="#45b1c7"/>
<rect x="1699.10" y="1314.80" width="30.20" height="25.33" fill="#aad8b5"/>
<text x="1714.20" y="1627.90" font-size="12.6" text-anchor="middle" fill="#e4e9ff" stroke="#e4e9ff" stroke-width="0.35">29</text>
<rect x="1735.60" y="1551.20" width="30.20" height="118.20" fill="#3249a0"/>
<rect x="1735.60" y="1373.90" width="30.20" height="177.30" fill="#2e7bbd"/>
<rect x="1735.60" y="1344.35" width="30.20" height="29.55" fill="#45b1c7"/>
<rect x="1735.60" y="1314.80" width="30.20" height="29.55" fill="#aad8b5"/>
<text x="1750.70" y="1619.60" font-size="12.6" text-anchor="middle" fill="#e4e9ff" stroke="#e4e9ff" stroke-width="0.35">33</text>
<rect x="1772.10" y="1521.65" width="30.20" height="147.75" fill="#3249a0"/>
<rect x="1772.10" y="1373.90" width="30.20" height="147.75" fill="#2e7bbd"/>
<rect x="1772.10" y="1314.80" width="30.20" height="59.10" fill="#45b1c7"/>
<text x="1787.20" y="1600.00" font-size="12.6" text-anchor="middle" fill="#e4e9ff" stroke="#e4e9ff" stroke-width="0.35">42</text>
<line x1="984.00" y1="1314.80" x2="984.00" y2="1669.40" stroke="#555555" stroke-width="2"/>
<line x1="975.00" y1="1669.40" x2="984.00" y2="1669.40" stroke="#555555" stroke-width="2"/>
<text transform="translate(970.50 1675.70) scale(1.010 1)" font-size="17.8" text-anchor="end" fill="#444444">0</text>
<line x1="975.00" y1="1633.94" x2="984.00" y2="1633.94" stroke="#555555" stroke-width="2"/>
<text transform="translate(970.50 1640.24) scale(1.010 1)" font-size="17.8" text-anchor="end" fill="#444444">10</text>
<line x1="975.00" y1="1598.48" x2="984.00" y2="1598.48" stroke="#555555" stroke-width="2"/>
<text transform="translate(970.50 1604.78) scale(1.010 1)" font-size="17.8" text-anchor="end" fill="#444444">20</text>
<line x1="975.00" y1="1563.02" x2="984.00" y2="1563.02" stroke="#555555" stroke-width="2"/>
<text transform="translate(970.50 1569.32) scale(1.010 1)" font-size="17.8" text-anchor="end" fill="#444444">30</text>
<line x1="975.00" y1="1527.56" x2="984.00" y2="1527.56" stroke="#555555" stroke-width="2"/>
<text transform="translate(970.50 1533.86) scale(1.010 1)" font-size="17.8" text-anchor="end" fill="#444444">40</text>
<line x1="975.00" y1="1492.10" x2="984.00" y2="1492.10" stroke="#555555" stroke-width="2"/>
<text transform="translate(970.50 1498.40) scale(1.010 1)" font-size="17.8" text-anchor="end" fill="#444444">50</text>
<line x1="975.00" y1="1456.64" x2="984.00" y2="1456.64" stroke="#555555" stroke-width="2"/>
<text transform="translate(970.50 1462.94) scale(1.010 1)" font-size="17.8" text-anchor="end" fill="#444444">60</text>
<line x1="975.00" y1="1421.18" x2="984.00" y2="1421.18" stroke="#555555" stroke-width="2"/>
<text transform="translate(970.50 1427.48) scale(1.010 1)" font-size="17.8" text-anchor="end" fill="#444444">70</text>
<line x1="975.00" y1="1385.72" x2="984.00" y2="1385.72" stroke="#555555" stroke-width="2"/>
<text transform="translate(970.50 1392.02) scale(1.010 1)" font-size="17.8" text-anchor="end" fill="#444444">80</text>
<line x1="975.00" y1="1350.26" x2="984.00" y2="1350.26" stroke="#555555" stroke-width="2"/>
<text transform="translate(970.50 1356.56) scale(1.010 1)" font-size="17.8" text-anchor="end" fill="#444444">90</text>
<line x1="975.00" y1="1314.80" x2="984.00" y2="1314.80" stroke="#555555" stroke-width="2"/>
<text transform="translate(970.50 1321.10) scale(1.010 1)" font-size="17.8" text-anchor="end" fill="#444444">100</text>
<line x1="975.00" y1="1669.40" x2="1816.00" y2="1669.40" stroke="#555555" stroke-width="2.2"/>
<line x1="1015.90" y1="1669.40" x2="1015.90" y2="1678.40" stroke="#555555" stroke-width="2"/>
<text transform="translate(1015.90 1697.70) scale(1.030 1)" font-size="17.8" text-anchor="middle" fill="#444444">BL</text>
<line x1="1052.64" y1="1669.40" x2="1052.64" y2="1678.40" stroke="#555555" stroke-width="2"/>
<text transform="translate(1052.64 1697.70) scale(1.030 1)" font-size="17.8" text-anchor="middle" fill="#444444">7</text>
<line x1="1089.38" y1="1669.40" x2="1089.38" y2="1678.40" stroke="#555555" stroke-width="2"/>
<text transform="translate(1089.38 1697.70) scale(1.030 1)" font-size="17.8" text-anchor="middle" fill="#444444">13</text>
<line x1="1126.12" y1="1669.40" x2="1126.12" y2="1678.40" stroke="#555555" stroke-width="2"/>
<text transform="translate(1126.12 1697.70) scale(1.030 1)" font-size="17.8" text-anchor="middle" fill="#444444">19</text>
<line x1="1162.86" y1="1669.40" x2="1162.86" y2="1678.40" stroke="#555555" stroke-width="2"/>
<text transform="translate(1162.86 1697.70) scale(1.030 1)" font-size="17.8" text-anchor="middle" fill="#444444">25</text>
<line x1="1199.60" y1="1669.40" x2="1199.60" y2="1678.40" stroke="#555555" stroke-width="2"/>
<text transform="translate(1199.60 1697.70) scale(1.030 1)" font-size="17.8" text-anchor="middle" fill="#444444">31</text>
<line x1="1236.34" y1="1669.40" x2="1236.34" y2="1678.40" stroke="#555555" stroke-width="2"/>
<text transform="translate(1236.34 1697.70) scale(1.030 1)" font-size="17.8" text-anchor="middle" fill="#444444">37</text>
<line x1="1273.08" y1="1669.40" x2="1273.08" y2="1678.40" stroke="#555555" stroke-width="2"/>
<text transform="translate(1273.08 1697.70) scale(1.030 1)" font-size="17.8" text-anchor="middle" fill="#444444">43</text>
<line x1="1309.82" y1="1669.40" x2="1309.82" y2="1678.40" stroke="#555555" stroke-width="2"/>
<text transform="translate(1309.82 1697.70) scale(1.030 1)" font-size="17.8" text-anchor="middle" fill="#444444">49</text>
<line x1="1346.56" y1="1669.40" x2="1346.56" y2="1678.40" stroke="#555555" stroke-width="2"/>
<text transform="translate(1346.56 1697.70) scale(1.030 1)" font-size="17.8" text-anchor="middle" fill="#444444">55</text>
<line x1="1383.30" y1="1669.40" x2="1383.30" y2="1678.40" stroke="#555555" stroke-width="2"/>
<text transform="translate(1383.30 1697.70) scale(1.030 1)" font-size="17.8" text-anchor="middle" fill="#444444">61</text>
<line x1="1420.04" y1="1669.40" x2="1420.04" y2="1678.40" stroke="#555555" stroke-width="2"/>
<text transform="translate(1420.04 1697.70) scale(1.030 1)" font-size="17.8" text-anchor="middle" fill="#444444">67</text>
<line x1="1456.78" y1="1669.40" x2="1456.78" y2="1678.40" stroke="#555555" stroke-width="2"/>
<text transform="translate(1456.78 1697.70) scale(1.030 1)" font-size="17.8" text-anchor="middle" fill="#444444">73</text>
<line x1="1493.52" y1="1669.40" x2="1493.52" y2="1678.40" stroke="#555555" stroke-width="2"/>
<text transform="translate(1493.52 1697.70) scale(1.030 1)" font-size="17.8" text-anchor="middle" fill="#444444">79</text>
<line x1="1530.26" y1="1669.40" x2="1530.26" y2="1678.40" stroke="#555555" stroke-width="2"/>
<text transform="translate(1530.26 1697.70) scale(1.030 1)" font-size="17.8" text-anchor="middle" fill="#444444">85</text>
<line x1="1567.00" y1="1669.40" x2="1567.00" y2="1678.40" stroke="#555555" stroke-width="2"/>
<text transform="translate(1567.00 1697.70) scale(1.030 1)" font-size="17.8" text-anchor="middle" fill="#444444">91</text>
<line x1="1603.74" y1="1669.40" x2="1603.74" y2="1678.40" stroke="#555555" stroke-width="2"/>
<text transform="translate(1603.74 1697.70) scale(1.030 1)" font-size="17.8" text-anchor="middle" fill="#444444">97</text>
<line x1="1640.48" y1="1669.40" x2="1640.48" y2="1678.40" stroke="#555555" stroke-width="2"/>
<text transform="translate(1640.48 1697.70) scale(1.030 1)" font-size="17.8" text-anchor="middle" fill="#444444">103</text>
<line x1="1677.22" y1="1669.40" x2="1677.22" y2="1678.40" stroke="#555555" stroke-width="2"/>
<text transform="translate(1677.22 1697.70) scale(1.030 1)" font-size="17.8" text-anchor="middle" fill="#444444">109</text>
<line x1="1713.96" y1="1669.40" x2="1713.96" y2="1678.40" stroke="#555555" stroke-width="2"/>
<text transform="translate(1713.96 1697.70) scale(1.030 1)" font-size="17.8" text-anchor="middle" fill="#444444">115</text>
<line x1="1750.70" y1="1669.40" x2="1750.70" y2="1678.40" stroke="#555555" stroke-width="2"/>
<text transform="translate(1750.70 1697.70) scale(1.030 1)" font-size="17.8" text-anchor="middle" fill="#444444">121</text>
<line x1="1787.44" y1="1669.40" x2="1787.44" y2="1678.40" stroke="#555555" stroke-width="2"/>
<text transform="translate(1787.44 1697.70) scale(1.030 1)" font-size="17.8" text-anchor="middle" fill="#444444">127</text>
<text x="1395.80" y="1724.40" font-size="18" text-anchor="middle" font-weight="bold" fill="#444444">Weeks</text>
<rect x="1114.20" y="1737.90" width="16.00" height="16.00" fill="#3249a0"/>
<text x="1137.60" y="1752.50" font-size="17.9" text-anchor="start" fill="#444444">Not at all</text>
<rect x="1226.20" y="1737.90" width="16.00" height="16.00" fill="#2e7bbd"/>
<text x="1249.60" y="1752.50" font-size="17.9" text-anchor="start" fill="#444444">A little</text>
<rect x="1314.80" y="1737.90" width="16.00" height="16.00" fill="#45b1c7"/>
<text x="1338.20" y="1752.50" font-size="17.9" text-anchor="start" fill="#444444">Somewhat</text>
<rect x="1441.60" y="1737.90" width="16.00" height="16.00" fill="#aad8b5"/>
<text x="1465.00" y="1752.50" font-size="17.9" text-anchor="start" fill="#444444">Quite a bit</text>
<rect x="1567.10" y="1737.90" width="16.00" height="16.00" fill="#737bbd"/>
<text x="1590.50" y="1752.50" font-size="17.9" text-anchor="start" fill="#444444">Very much</text>
<text x="915.60" y="1782.00" font-size="14.3" text-anchor="start" font-weight="bold" fill="#444444">No. of Patients with Assessments</text>
<text transform="translate(915.60 1801.70) scale(1.030 1)" font-size="14" text-anchor="start" fill="#444444">Very much</text>
<text transform="translate(1013.40 1801.70) scale(1.030 1)" font-size="14" text-anchor="middle" fill="#444444">6</text>
<text transform="translate(1050.10 1801.70) scale(1.030 1)" font-size="14" text-anchor="middle" fill="#444444">14</text>
<text transform="translate(1086.80 1801.70) scale(1.030 1)" font-size="14" text-anchor="middle" fill="#444444">13</text>
<text transform="translate(1123.50 1801.70) scale(1.030 1)" font-size="14" text-anchor="middle" fill="#444444">5</text>
<text transform="translate(1160.20 1801.70) scale(1.030 1)" font-size="14" text-anchor="middle" fill="#444444">4</text>
<text transform="translate(1196.90 1801.70) scale(1.030 1)" font-size="14" text-anchor="middle" fill="#444444">6</text>
<text transform="translate(1233.60 1801.70) scale(1.030 1)" font-size="14" text-anchor="middle" fill="#444444">2</text>
<text transform="translate(1270.30 1801.70) scale(1.030 1)" font-size="14" text-anchor="middle" fill="#444444">2</text>
<text transform="translate(1307.00 1801.70) scale(1.030 1)" font-size="14" text-anchor="middle" fill="#444444">1</text>
<text transform="translate(1343.70 1801.70) scale(1.030 1)" font-size="14" text-anchor="middle" fill="#444444">1</text>
<text transform="translate(1380.40 1801.70) scale(1.030 1)" font-size="14" text-anchor="middle" fill="#444444">0</text>
<text transform="translate(1417.10 1801.70) scale(1.030 1)" font-size="14" text-anchor="middle" fill="#444444">0</text>
<text transform="translate(1453.80 1801.70) scale(1.030 1)" font-size="14" text-anchor="middle" fill="#444444">1</text>
<text transform="translate(1490.50 1801.70) scale(1.030 1)" font-size="14" text-anchor="middle" fill="#444444">0</text>
<text transform="translate(1527.20 1801.70) scale(1.030 1)" font-size="14" text-anchor="middle" fill="#444444">1</text>
<text transform="translate(1563.90 1801.70) scale(1.030 1)" font-size="14" text-anchor="middle" fill="#444444">0</text>
<text transform="translate(1600.60 1801.70) scale(1.030 1)" font-size="14" text-anchor="middle" fill="#444444">0</text>
<text transform="translate(1637.30 1801.70) scale(1.030 1)" font-size="14" text-anchor="middle" fill="#444444">0</text>
<text transform="translate(1674.00 1801.70) scale(1.030 1)" font-size="14" text-anchor="middle" fill="#444444">0</text>
<text transform="translate(1710.70 1801.70) scale(1.030 1)" font-size="14" text-anchor="middle" fill="#444444">1</text>
<text transform="translate(1747.40 1801.70) scale(1.030 1)" font-size="14" text-anchor="middle" fill="#444444">1</text>
<text transform="translate(1784.10 1801.70) scale(1.030 1)" font-size="14" text-anchor="middle" fill="#444444">0</text>
<text transform="translate(915.60 1821.40) scale(1.030 1)" font-size="14" text-anchor="start" fill="#444444">Quite a bit</text>
<text transform="translate(1013.40 1821.40) scale(1.030 1)" font-size="14" text-anchor="middle" fill="#444444">12</text>
<text transform="translate(1050.10 1821.40) scale(1.030 1)" font-size="14" text-anchor="middle" fill="#444444">41</text>
<text transform="translate(1086.80 1821.40) scale(1.030 1)" font-size="14" text-anchor="middle" fill="#444444">25</text>
<text transform="translate(1123.50 1821.40) scale(1.030 1)" font-size="14" text-anchor="middle" fill="#444444">16</text>
<text transform="translate(1160.20 1821.40) scale(1.030 1)" font-size="14" text-anchor="middle" fill="#444444">20</text>
<text transform="translate(1196.90 1821.40) scale(1.030 1)" font-size="14" text-anchor="middle" fill="#444444">20</text>
<text transform="translate(1233.60 1821.40) scale(1.030 1)" font-size="14" text-anchor="middle" fill="#444444">9</text>
<text transform="translate(1270.30 1821.40) scale(1.030 1)" font-size="14" text-anchor="middle" fill="#444444">6</text>
<text transform="translate(1307.00 1821.40) scale(1.030 1)" font-size="14" text-anchor="middle" fill="#444444">7</text>
<text transform="translate(1343.70 1821.40) scale(1.030 1)" font-size="14" text-anchor="middle" fill="#444444">5</text>
<text transform="translate(1380.40 1821.40) scale(1.030 1)" font-size="14" text-anchor="middle" fill="#444444">3</text>
<text transform="translate(1417.10 1821.40) scale(1.030 1)" font-size="14" text-anchor="middle" fill="#444444">3</text>
<text transform="translate(1453.80 1821.40) scale(1.030 1)" font-size="14" text-anchor="middle" fill="#444444">2</text>
<text transform="translate(1490.50 1821.40) scale(1.030 1)" font-size="14" text-anchor="middle" fill="#444444">2</text>
<text transform="translate(1527.20 1821.40) scale(1.030 1)" font-size="14" text-anchor="middle" fill="#444444">1</text>
<text transform="translate(1563.90 1821.40) scale(1.030 1)" font-size="14" text-anchor="middle" fill="#444444">2</text>
<text transform="translate(1600.60 1821.40) scale(1.030 1)" font-size="14" text-anchor="middle" fill="#444444">1</text>
<text transform="translate(1637.30 1821.40) scale(1.030 1)" font-size="14" text-anchor="middle" fill="#444444">4</text>
<text transform="translate(1674.00 1821.40) scale(1.030 1)" font-size="14" text-anchor="middle" fill="#444444">1</text>
<text transform="translate(1710.70 1821.40) scale(1.030 1)" font-size="14" text-anchor="middle" fill="#444444">0</text>
<text transform="translate(1747.40 1821.40) scale(1.030 1)" font-size="14" text-anchor="middle" fill="#444444">1</text>
<text transform="translate(1784.10 1821.40) scale(1.030 1)" font-size="14" text-anchor="middle" fill="#444444">2</text>
<text transform="translate(915.60 1841.10) scale(1.030 1)" font-size="14" text-anchor="start" fill="#444444">Somewhat</text>
<text transform="translate(1013.40 1841.10) scale(1.030 1)" font-size="14" text-anchor="middle" fill="#444444">35</text>
<text transform="translate(1050.10 1841.10) scale(1.030 1)" font-size="14" text-anchor="middle" fill="#444444">76</text>
<text transform="translate(1086.80 1841.10) scale(1.030 1)" font-size="14" text-anchor="middle" fill="#444444">61</text>
<text transform="translate(1123.50 1841.10) scale(1.030 1)" font-size="14" text-anchor="middle" fill="#444444">46</text>
<text transform="translate(1160.20 1841.10) scale(1.030 1)" font-size="14" text-anchor="middle" fill="#444444">35</text>
<text transform="translate(1196.90 1841.10) scale(1.030 1)" font-size="14" text-anchor="middle" fill="#444444">19</text>
<text transform="translate(1233.60 1841.10) scale(1.030 1)" font-size="14" text-anchor="middle" fill="#444444">15</text>
<text transform="translate(1270.30 1841.10) scale(1.030 1)" font-size="14" text-anchor="middle" fill="#444444">14</text>
<text transform="translate(1307.00 1841.10) scale(1.030 1)" font-size="14" text-anchor="middle" fill="#444444">8</text>
<text transform="translate(1343.70 1841.10) scale(1.030 1)" font-size="14" text-anchor="middle" fill="#444444">6</text>
<text transform="translate(1380.40 1841.10) scale(1.030 1)" font-size="14" text-anchor="middle" fill="#444444">7</text>
<text transform="translate(1417.10 1841.10) scale(1.030 1)" font-size="14" text-anchor="middle" fill="#444444">5</text>
<text transform="translate(1453.80 1841.10) scale(1.030 1)" font-size="14" text-anchor="middle" fill="#444444">7</text>
<text transform="translate(1490.50 1841.10) scale(1.030 1)" font-size="14" text-anchor="middle" fill="#444444">2</text>
<text transform="translate(1527.20 1841.10) scale(1.030 1)" font-size="14" text-anchor="middle" fill="#444444">3</text>
<text transform="translate(1563.90 1841.10) scale(1.030 1)" font-size="14" text-anchor="middle" fill="#444444">4</text>
<text transform="translate(1600.60 1841.10) scale(1.030 1)" font-size="14" text-anchor="middle" fill="#444444">3</text>
<text transform="translate(1637.30 1841.10) scale(1.030 1)" font-size="14" text-anchor="middle" fill="#444444">0</text>
<text transform="translate(1674.00 1841.10) scale(1.030 1)" font-size="14" text-anchor="middle" fill="#444444">3</text>
<text transform="translate(1710.70 1841.10) scale(1.030 1)" font-size="14" text-anchor="middle" fill="#444444">2</text>
<text transform="translate(1747.40 1841.10) scale(1.030 1)" font-size="14" text-anchor="middle" fill="#444444">0</text>
<text transform="translate(1784.10 1841.10) scale(1.030 1)" font-size="14" text-anchor="middle" fill="#444444">0</text>
<text transform="translate(915.60 1860.80) scale(1.030 1)" font-size="14" text-anchor="start" fill="#444444">A little bit</text>
<text transform="translate(1013.40 1860.80) scale(1.030 1)" font-size="14" text-anchor="middle" fill="#444444">58</text>
<text transform="translate(1050.10 1860.80) scale(1.030 1)" font-size="14" text-anchor="middle" fill="#444444">124</text>
<text transform="translate(1086.80 1860.80) scale(1.030 1)" font-size="14" text-anchor="middle" fill="#444444">103</text>
<text transform="translate(1123.50 1860.80) scale(1.030 1)" font-size="14" text-anchor="middle" fill="#444444">78</text>
<text transform="translate(1160.20 1860.80) scale(1.030 1)" font-size="14" text-anchor="middle" fill="#444444">64</text>
<text transform="translate(1196.90 1860.80) scale(1.030 1)" font-size="14" text-anchor="middle" fill="#444444">49</text>
<text transform="translate(1233.60 1860.80) scale(1.030 1)" font-size="14" text-anchor="middle" fill="#444444">49</text>
<text transform="translate(1270.30 1860.80) scale(1.030 1)" font-size="14" text-anchor="middle" fill="#444444">36</text>
<text transform="translate(1307.00 1860.80) scale(1.030 1)" font-size="14" text-anchor="middle" fill="#444444">27</text>
<text transform="translate(1343.70 1860.80) scale(1.030 1)" font-size="14" text-anchor="middle" fill="#444444">26</text>
<text transform="translate(1380.40 1860.80) scale(1.030 1)" font-size="14" text-anchor="middle" fill="#444444">18</text>
<text transform="translate(1417.10 1860.80) scale(1.030 1)" font-size="14" text-anchor="middle" fill="#444444">19</text>
<text transform="translate(1453.80 1860.80) scale(1.030 1)" font-size="14" text-anchor="middle" fill="#444444">12</text>
<text transform="translate(1490.50 1860.80) scale(1.030 1)" font-size="14" text-anchor="middle" fill="#444444">10</text>
<text transform="translate(1527.20 1860.80) scale(1.030 1)" font-size="14" text-anchor="middle" fill="#444444">7</text>
<text transform="translate(1563.90 1860.80) scale(1.030 1)" font-size="14" text-anchor="middle" fill="#444444">6</text>
<text transform="translate(1600.60 1860.80) scale(1.030 1)" font-size="14" text-anchor="middle" fill="#444444">8</text>
<text transform="translate(1637.30 1860.80) scale(1.030 1)" font-size="14" text-anchor="middle" fill="#444444">10</text>
<text transform="translate(1674.00 1860.80) scale(1.030 1)" font-size="14" text-anchor="middle" fill="#444444">5</text>
<text transform="translate(1710.70 1860.80) scale(1.030 1)" font-size="14" text-anchor="middle" fill="#444444">7</text>
<text transform="translate(1747.40 1860.80) scale(1.030 1)" font-size="14" text-anchor="middle" fill="#444444">6</text>
<text transform="translate(1784.10 1860.80) scale(1.030 1)" font-size="14" text-anchor="middle" fill="#444444">5</text>
<text transform="translate(915.60 1880.50) scale(1.030 1)" font-size="14" text-anchor="start" fill="#444444">Not at all</text>
<text transform="translate(1013.40 1880.50) scale(1.030 1)" font-size="14" text-anchor="middle" fill="#444444">247</text>
<text transform="translate(1050.10 1880.50) scale(1.030 1)" font-size="14" text-anchor="middle" fill="#444444">92</text>
<text transform="translate(1086.80 1880.50) scale(1.030 1)" font-size="14" text-anchor="middle" fill="#444444">69</text>
<text transform="translate(1123.50 1880.50) scale(1.030 1)" font-size="14" text-anchor="middle" fill="#444444">56</text>
<text transform="translate(1160.20 1880.50) scale(1.030 1)" font-size="14" text-anchor="middle" fill="#444444">39</text>
<text transform="translate(1196.90 1880.50) scale(1.030 1)" font-size="14" text-anchor="middle" fill="#444444">29</text>
<text transform="translate(1233.60 1880.50) scale(1.030 1)" font-size="14" text-anchor="middle" fill="#444444">21</text>
<text transform="translate(1270.30 1880.50) scale(1.030 1)" font-size="14" text-anchor="middle" fill="#444444">19</text>
<text transform="translate(1307.00 1880.50) scale(1.030 1)" font-size="14" text-anchor="middle" fill="#444444">13</text>
<text transform="translate(1343.70 1880.50) scale(1.030 1)" font-size="14" text-anchor="middle" fill="#444444">17</text>
<text transform="translate(1380.40 1880.50) scale(1.030 1)" font-size="14" text-anchor="middle" fill="#444444">16</text>
<text transform="translate(1417.10 1880.50) scale(1.030 1)" font-size="14" text-anchor="middle" fill="#444444">8</text>
<text transform="translate(1453.80 1880.50) scale(1.030 1)" font-size="14" text-anchor="middle" fill="#444444">10</text>
<text transform="translate(1490.50 1880.50) scale(1.030 1)" font-size="14" text-anchor="middle" fill="#444444">11</text>
<text transform="translate(1527.20 1880.50) scale(1.030 1)" font-size="14" text-anchor="middle" fill="#444444">11</text>
<text transform="translate(1563.90 1880.50) scale(1.030 1)" font-size="14" text-anchor="middle" fill="#444444">10</text>
<text transform="translate(1600.60 1880.50) scale(1.030 1)" font-size="14" text-anchor="middle" fill="#444444">7</text>
<text transform="translate(1637.30 1880.50) scale(1.030 1)" font-size="14" text-anchor="middle" fill="#444444">3</text>
<text transform="translate(1674.00 1880.50) scale(1.030 1)" font-size="14" text-anchor="middle" fill="#444444">6</text>
<text transform="translate(1710.70 1880.50) scale(1.030 1)" font-size="14" text-anchor="middle" fill="#444444">4</text>
<text transform="translate(1747.40 1880.50) scale(1.030 1)" font-size="14" text-anchor="middle" fill="#444444">4</text>
<text transform="translate(1784.10 1880.50) scale(1.030 1)" font-size="14" text-anchor="middle" fill="#444444">5</text>
<text x="0.50" y="1941.50" font-size="25" text-anchor="start" font-weight="bold" fill="#444444">d</text>
<text x="485.00" y="1929.50" font-size="18" text-anchor="middle" font-weight="bold" fill="#444444">NIVO + chemo</text>
<rect x="88.50" y="2062.83" width="30.50" height="241.67" fill="#3c3892"/>
<rect x="88.50" y="2007.06" width="30.50" height="55.77" fill="#2e7bbd"/>
<rect x="88.50" y="1970.44" width="30.50" height="36.62" fill="#45b1c7"/>
<rect x="88.50" y="1955.80" width="30.50" height="14.65" fill="#aad8b5"/>
<rect x="88.50" y="1949.60" width="30.50" height="6.20" fill="#737bbd"/>
<text x="103.75" y="2188.20" font-size="12.6" text-anchor="middle" fill="#e4e9ff" stroke="#e4e9ff" stroke-width="0.35">68</text>
<rect x="123.55" y="2202.85" width="30.50" height="101.65" fill="#3c3892"/>
<rect x="123.55" y="2070.20" width="30.50" height="132.66" fill="#2e7bbd"/>
<rect x="123.55" y="1988.65" width="30.50" height="81.55" fill="#45b1c7"/>
<rect x="123.55" y="1963.38" width="30.50" height="25.27" fill="#aad8b5"/>
<rect x="123.55" y="1949.60" width="30.50" height="13.78" fill="#737bbd"/>
<text x="138.80" y="2259.10" font-size="12.6" text-anchor="middle" fill="#e4e9ff" stroke="#e4e9ff" stroke-width="0.35">29</text>
<rect x="158.60" y="2214.13" width="30.50" height="90.37" fill="#3c3892"/>
<rect x="158.60" y="2084.83" width="30.50" height="129.29" fill="#2e7bbd"/>
<rect x="158.60" y="1995.12" width="30.50" height="89.71" fill="#45b1c7"/>
<rect x="158.60" y="1964.77" width="30.50" height="30.34" fill="#aad8b5"/>
<rect x="158.60" y="1949.60" width="30.50" height="15.17" fill="#737bbd"/>
<text x="173.85" y="2258.00" font-size="12.6" text-anchor="middle" fill="#e4e9ff" stroke="#e4e9ff" stroke-width="0.35">25</text>
<rect x="193.65" y="2207.99" width="30.50" height="96.51" fill="#3c3892"/>
<rect x="193.65" y="2083.35" width="30.50" height="124.63" fill="#2e7bbd"/>
<rect x="193.65" y="1999.76" width="30.50" height="83.60" fill="#45b1c7"/>
<rect x="193.65" y="1963.28" width="30.50" height="36.48" fill="#aad8b5"/>
<rect x="193.65" y="1949.60" width="30.50" height="13.68" fill="#737bbd"/>
<text x="208.90" y="2258.00" font-size="12.6" text-anchor="middle" fill="#e4e9ff" stroke="#e4e9ff" stroke-width="0.35">27</text>
<rect x="228.70" y="2210.29" width="30.50" height="94.21" fill="#3c3892"/>
<rect x="228.70" y="2077.66" width="30.50" height="132.63" fill="#2e7bbd"/>
<rect x="228.70" y="1993.51" width="30.50" height="84.15" fill="#45b1c7"/>
<rect x="228.70" y="1955.09" width="30.50" height="38.42" fill="#aad8b5"/>
<rect x="228.70" y="1949.60" width="30.50" height="5.49" fill="#737bbd"/>
<text x="243.95" y="2254.70" font-size="12.6" text-anchor="middle" fill="#e4e9ff" stroke="#e4e9ff" stroke-width="0.35">27</text>
<rect x="263.75" y="2203.26" width="30.50" height="101.24" fill="#3c3892"/>
<rect x="263.75" y="2061.73" width="30.50" height="141.52" fill="#2e7bbd"/>
<rect x="263.75" y="1986.61" width="30.50" height="75.12" fill="#45b1c7"/>
<rect x="263.75" y="1959.40" width="30.50" height="27.22" fill="#aad8b5"/>
<rect x="263.75" y="1949.60" width="30.50" height="9.80" fill="#737bbd"/>
<text x="279.00" y="2254.70" font-size="12.6" text-anchor="middle" fill="#e4e9ff" stroke="#e4e9ff" stroke-width="0.35">29</text>
<rect x="298.80" y="2192.16" width="30.50" height="112.34" fill="#3c3892"/>
<rect x="298.80" y="2065.77" width="30.50" height="126.39" fill="#2e7bbd"/>
<rect x="298.80" y="1987.90" width="30.50" height="77.87" fill="#45b1c7"/>
<rect x="298.80" y="1957.26" width="30.50" height="30.64" fill="#aad8b5"/>
<rect x="298.80" y="1949.60" width="30.50" height="7.66" fill="#737bbd"/>
<text x="314.05" y="2247.00" font-size="12.6" text-anchor="middle" fill="#e4e9ff" stroke="#e4e9ff" stroke-width="0.35">32</text>
<rect x="333.85" y="2182.01" width="30.50" height="122.49" fill="#3c3892"/>
<rect x="333.85" y="2051.67" width="30.50" height="130.34" fill="#2e7bbd"/>
<rect x="333.85" y="1971.58" width="30.50" height="80.09" fill="#45b1c7"/>
<rect x="333.85" y="1952.74" width="30.50" height="18.84" fill="#aad8b5"/>
<rect x="333.85" y="1949.60" width="30.50" height="3.14" fill="#737bbd"/>
<text x="349.10" y="2247.00" font-size="12.6" text-anchor="middle" fill="#e4e9ff" stroke="#e4e9ff" stroke-width="0.35">35</text>
<rect x="368.90" y="2169.13" width="30.50" height="135.37" fill="#3c3892"/>
<rect x="368.90" y="2022.78" width="30.50" height="146.35" fill="#2e7bbd"/>
<rect x="368.90" y="1969.72" width="30.50" height="53.05" fill="#45b1c7"/>
<rect x="368.90" y="1953.26" width="30.50" height="16.46" fill="#aad8b5"/>
<rect x="368.90" y="1949.60" width="30.50" height="3.66" fill="#737bbd"/>
<text x="384.15" y="2230.50" font-size="12.6" text-anchor="middle" fill="#e4e9ff" stroke="#e4e9ff" stroke-width="0.35">38</text>
<rect x="403.95" y="2168.32" width="30.50" height="136.18" fill="#3c3892"/>
<rect x="403.95" y="2038.32" width="30.50" height="129.99" fill="#2e7bbd"/>
<rect x="403.95" y="1976.42" width="30.50" height="61.90" fill="#45b1c7"/>
<rect x="403.95" y="1957.85" width="30.50" height="18.57" fill="#aad8b5"/>
<rect x="403.95" y="1949.60" width="30.50" height="8.25" fill="#737bbd"/>
<text x="419.20" y="2230.50" font-size="12.6" text-anchor="middle" fill="#e4e9ff" stroke="#e4e9ff" stroke-width="0.35">38</text>
<rect x="439.00" y="2162.07" width="30.50" height="142.43" fill="#3c3892"/>
<rect x="439.00" y="2019.65" width="30.50" height="142.43" fill="#2e7bbd"/>
<rect x="439.00" y="1965.94" width="30.50" height="53.70" fill="#45b1c7"/>
<rect x="439.00" y="1954.27" width="30.50" height="11.67" fill="#aad8b5"/>
<rect x="439.00" y="1949.60" width="30.50" height="4.67" fill="#737bbd"/>
<text x="454.25" y="2236.50" font-size="12.6" text-anchor="middle" fill="#e4e9ff" stroke="#e4e9ff" stroke-width="0.35">40</text>
<rect x="474.05" y="2171.08" width="30.50" height="133.42" fill="#3c3892"/>
<rect x="474.05" y="2024.32" width="30.50" height="146.76" fill="#2e7bbd"/>
<rect x="474.05" y="1973.62" width="30.50" height="50.70" fill="#45b1c7"/>
<rect x="474.05" y="1954.94" width="30.50" height="18.68" fill="#aad8b5"/>
<rect x="474.05" y="1949.60" width="30.50" height="5.34" fill="#737bbd"/>
<text x="489.30" y="2236.50" font-size="12.6" text-anchor="middle" fill="#e4e9ff" stroke="#e4e9ff" stroke-width="0.35">38</text>
<rect x="509.10" y="2168.00" width="30.50" height="136.50" fill="#3c3892"/>
<rect x="509.10" y="2046.67" width="30.50" height="121.33" fill="#2e7bbd"/>
<rect x="509.10" y="1964.77" width="30.50" height="81.90" fill="#45b1c7"/>
<rect x="509.10" y="1952.63" width="30.50" height="12.13" fill="#aad8b5"/>
<rect x="509.10" y="1949.60" width="30.50" height="3.03" fill="#737bbd"/>
<text x="524.35" y="2236.50" font-size="12.6" text-anchor="middle" fill="#e4e9ff" stroke="#e4e9ff" stroke-width="0.35">38</text>
<rect x="544.15" y="2141.54" width="30.50" height="162.96" fill="#3c3892"/>
<rect x="544.15" y="2029.27" width="30.50" height="112.26" fill="#2e7bbd"/>
<rect x="544.15" y="1974.95" width="30.50" height="54.32" fill="#45b1c7"/>
<rect x="544.15" y="1949.60" width="30.50" height="25.35" fill="#aad8b5"/>
<text x="559.40" y="2238.20" font-size="12.6" text-anchor="middle" fill="#e4e9ff" stroke="#e4e9ff" stroke-width="0.35">46</text>
<rect x="579.20" y="2135.12" width="30.50" height="169.38" fill="#3c3892"/>
<rect x="579.20" y="2018.16" width="30.50" height="116.96" fill="#2e7bbd"/>
<rect x="579.20" y="1965.73" width="30.50" height="52.43" fill="#45b1c7"/>
<rect x="579.20" y="1953.63" width="30.50" height="12.10" fill="#aad8b5"/>
<rect x="579.20" y="1949.60" width="30.50" height="4.03" fill="#737bbd"/>
<text x="594.45" y="2220.10" font-size="12.6" text-anchor="middle" fill="#e4e9ff" stroke="#e4e9ff" stroke-width="0.35">48</text>
<rect x="614.25" y="2127.05" width="30.50" height="177.45" fill="#3c3892"/>
<rect x="614.25" y="2025.02" width="30.50" height="102.03" fill="#2e7bbd"/>
<rect x="614.25" y="1967.34" width="30.50" height="57.67" fill="#45b1c7"/>
<rect x="614.25" y="1949.60" width="30.50" height="17.74" fill="#aad8b5"/>
<text x="629.50" y="2220.10" font-size="12.6" text-anchor="middle" fill="#e4e9ff" stroke="#e4e9ff" stroke-width="0.35">50</text>
<rect x="649.30" y="2127.05" width="30.50" height="177.45" fill="#3c3892"/>
<rect x="649.30" y="1993.96" width="30.50" height="133.09" fill="#2e7bbd"/>
<rect x="649.30" y="1964.39" width="30.50" height="29.58" fill="#45b1c7"/>
<rect x="649.30" y="1949.60" width="30.50" height="14.79" fill="#aad8b5"/>
<text x="664.55" y="2221.20" font-size="12.6" text-anchor="middle" fill="#e4e9ff" stroke="#e4e9ff" stroke-width="0.35">50</text>
<rect x="684.35" y="2104.87" width="30.50" height="199.63" fill="#3c3892"/>
<rect x="684.35" y="1977.33" width="30.50" height="127.54" fill="#2e7bbd"/>
<rect x="684.35" y="1960.69" width="30.50" height="16.64" fill="#45b1c7"/>
<rect x="684.35" y="1949.60" width="30.50" height="11.09" fill="#aad8b5"/>
<text x="699.60" y="2203.00" font-size="12.6" text-anchor="middle" fill="#e4e9ff" stroke="#e4e9ff" stroke-width="0.35">56</text>
<rect x="719.40" y="2082.69" width="30.50" height="221.81" fill="#3c3892"/>
<rect x="719.40" y="1993.96" width="30.50" height="88.73" fill="#2e7bbd"/>
<rect x="719.40" y="1949.60" width="30.50" height="44.36" fill="#45b1c7"/>
<text x="734.65" y="2186.50" font-size="12.6" text-anchor="middle" fill="#e4e9ff" stroke="#e4e9ff" stroke-width="0.35">63</text>
<rect x="754.45" y="2056.07" width="30.50" height="248.43" fill="#3c3892"/>
<rect x="754.45" y="1985.09" width="30.50" height="70.98" fill="#2e7bbd"/>
<rect x="754.45" y="1949.60" width="30.50" height="35.49" fill="#45b1c7"/>
<text x="769.70" y="2187.60" font-size="12.6" text-anchor="middle" fill="#e4e9ff" stroke="#e4e9ff" stroke-width="0.35">70</text>
<rect x="789.50" y="2033.11" width="30.50" height="271.39" fill="#3c3892"/>
<rect x="789.50" y="1970.48" width="30.50" height="62.63" fill="#2e7bbd"/>
<rect x="789.50" y="1949.60" width="30.50" height="20.88" fill="#aad8b5"/>
<text x="804.75" y="2159.00" font-size="12.6" text-anchor="middle" fill="#e4e9ff" stroke="#e4e9ff" stroke-width="0.35">76</text>
<rect x="824.55" y="2067.90" width="30.50" height="236.60" fill="#3c3892"/>
<rect x="824.55" y="1973.26" width="30.50" height="94.64" fill="#2e7bbd"/>
<rect x="824.55" y="1949.60" width="30.50" height="23.66" fill="#45b1c7"/>
<text x="839.80" y="2192.60" font-size="12.6" text-anchor="middle" fill="#e4e9ff" stroke="#e4e9ff" stroke-width="0.35">67</text>
<rect x="859.60" y="1949.60" width="30.50" height="354.90" fill="#3c3892"/>
<text x="874.85" y="2122.80" font-size="12.6" text-anchor="middle" fill="#e4e9ff" stroke="#e4e9ff" stroke-width="0.35">100</text>
<line x1="73.70" y1="1949.60" x2="73.70" y2="2304.50" stroke="#555555" stroke-width="2"/>
<line x1="64.70" y1="2304.50" x2="73.70" y2="2304.50" stroke="#555555" stroke-width="2"/>
<text transform="translate(60.20 2310.80) scale(1.010 1)" font-size="17.8" text-anchor="end" fill="#444444">0</text>
<line x1="64.70" y1="2269.01" x2="73.70" y2="2269.01" stroke="#555555" stroke-width="2"/>
<text transform="translate(60.20 2275.31) scale(1.010 1)" font-size="17.8" text-anchor="end" fill="#444444">10</text>
<line x1="64.70" y1="2233.52" x2="73.70" y2="2233.52" stroke="#555555" stroke-width="2"/>
<text transform="translate(60.20 2239.82) scale(1.010 1)" font-size="17.8" text-anchor="end" fill="#444444">20</text>
<line x1="64.70" y1="2198.03" x2="73.70" y2="2198.03" stroke="#555555" stroke-width="2"/>
<text transform="translate(60.20 2204.33) scale(1.010 1)" font-size="17.8" text-anchor="end" fill="#444444">30</text>
<line x1="64.70" y1="2162.54" x2="73.70" y2="2162.54" stroke="#555555" stroke-width="2"/>
<text transform="translate(60.20 2168.84) scale(1.010 1)" font-size="17.8" text-anchor="end" fill="#444444">40</text>
<line x1="64.70" y1="2127.05" x2="73.70" y2="2127.05" stroke="#555555" stroke-width="2"/>
<text transform="translate(60.20 2133.35) scale(1.010 1)" font-size="17.8" text-anchor="end" fill="#444444">50</text>
<line x1="64.70" y1="2091.56" x2="73.70" y2="2091.56" stroke="#555555" stroke-width="2"/>
<text transform="translate(60.20 2097.86) scale(1.010 1)" font-size="17.8" text-anchor="end" fill="#444444">60</text>
<line x1="64.70" y1="2056.07" x2="73.70" y2="2056.07" stroke="#555555" stroke-width="2"/>
<text transform="translate(60.20 2062.37) scale(1.010 1)" font-size="17.8" text-anchor="end" fill="#444444">70</text>
<line x1="64.70" y1="2020.58" x2="73.70" y2="2020.58" stroke="#555555" stroke-width="2"/>
<text transform="translate(60.20 2026.88) scale(1.010 1)" font-size="17.8" text-anchor="end" fill="#444444">80</text>
<line x1="64.70" y1="1985.09" x2="73.70" y2="1985.09" stroke="#555555" stroke-width="2"/>
<text transform="translate(60.20 1991.39) scale(1.010 1)" font-size="17.8" text-anchor="end" fill="#444444">90</text>
<line x1="64.70" y1="1949.60" x2="73.70" y2="1949.60" stroke="#555555" stroke-width="2"/>
<text transform="translate(60.20 1955.90) scale(1.010 1)" font-size="17.8" text-anchor="end" fill="#444444">100</text>
<line x1="64.70" y1="2304.50" x2="905.00" y2="2304.50" stroke="#555555" stroke-width="2.2"/>
<line x1="103.75" y1="2304.50" x2="103.75" y2="2313.50" stroke="#555555" stroke-width="2"/>
<text transform="translate(103.75 2332.80) scale(1.030 1)" font-size="17.8" text-anchor="middle" fill="#444444">BL</text>
<line x1="138.80" y1="2304.50" x2="138.80" y2="2313.50" stroke="#555555" stroke-width="2"/>
<text transform="translate(138.80 2332.80) scale(1.030 1)" font-size="17.8" text-anchor="middle" fill="#444444">7</text>
<line x1="173.85" y1="2304.50" x2="173.85" y2="2313.50" stroke="#555555" stroke-width="2"/>
<text transform="translate(173.85 2332.80) scale(1.030 1)" font-size="17.8" text-anchor="middle" fill="#444444">13</text>
<line x1="208.90" y1="2304.50" x2="208.90" y2="2313.50" stroke="#555555" stroke-width="2"/>
<text transform="translate(208.90 2332.80) scale(1.030 1)" font-size="17.8" text-anchor="middle" fill="#444444">19</text>
<line x1="243.95" y1="2304.50" x2="243.95" y2="2313.50" stroke="#555555" stroke-width="2"/>
<text transform="translate(243.95 2332.80) scale(1.030 1)" font-size="17.8" text-anchor="middle" fill="#444444">25</text>
<line x1="279.00" y1="2304.50" x2="279.00" y2="2313.50" stroke="#555555" stroke-width="2"/>
<text transform="translate(279.00 2332.80) scale(1.030 1)" font-size="17.8" text-anchor="middle" fill="#444444">31</text>
<line x1="314.05" y1="2304.50" x2="314.05" y2="2313.50" stroke="#555555" stroke-width="2"/>
<text transform="translate(314.05 2332.80) scale(1.030 1)" font-size="17.8" text-anchor="middle" fill="#444444">37</text>
<line x1="349.10" y1="2304.50" x2="349.10" y2="2313.50" stroke="#555555" stroke-width="2"/>
<text transform="translate(349.10 2332.80) scale(1.030 1)" font-size="17.8" text-anchor="middle" fill="#444444">43</text>
<line x1="384.15" y1="2304.50" x2="384.15" y2="2313.50" stroke="#555555" stroke-width="2"/>
<text transform="translate(384.15 2332.80) scale(1.030 1)" font-size="17.8" text-anchor="middle" fill="#444444">49</text>
<line x1="419.20" y1="2304.50" x2="419.20" y2="2313.50" stroke="#555555" stroke-width="2"/>
<text transform="translate(419.20 2332.80) scale(1.030 1)" font-size="17.8" text-anchor="middle" fill="#444444">55</text>
<line x1="454.25" y1="2304.50" x2="454.25" y2="2313.50" stroke="#555555" stroke-width="2"/>
<text transform="translate(454.25 2332.80) scale(1.030 1)" font-size="17.8" text-anchor="middle" fill="#444444">61</text>
<line x1="489.30" y1="2304.50" x2="489.30" y2="2313.50" stroke="#555555" stroke-width="2"/>
<text transform="translate(489.30 2332.80) scale(1.030 1)" font-size="17.8" text-anchor="middle" fill="#444444">67</text>
<line x1="524.35" y1="2304.50" x2="524.35" y2="2313.50" stroke="#555555" stroke-width="2"/>
<text transform="translate(524.35 2332.80) scale(1.030 1)" font-size="17.8" text-anchor="middle" fill="#444444">73</text>
<line x1="559.40" y1="2304.50" x2="559.40" y2="2313.50" stroke="#555555" stroke-width="2"/>
<text transform="translate(559.40 2332.80) scale(1.030 1)" font-size="17.8" text-anchor="middle" fill="#444444">79</text>
<line x1="594.45" y1="2304.50" x2="594.45" y2="2313.50" stroke="#555555" stroke-width="2"/>
<text transform="translate(594.45 2332.80) scale(1.030 1)" font-size="17.8" text-anchor="middle" fill="#444444">85</text>
<line x1="629.50" y1="2304.50" x2="629.50" y2="2313.50" stroke="#555555" stroke-width="2"/>
<text transform="translate(629.50 2332.80) scale(1.030 1)" font-size="17.8" text-anchor="middle" fill="#444444">91</text>
<line x1="664.55" y1="2304.50" x2="664.55" y2="2313.50" stroke="#555555" stroke-width="2"/>
<text transform="translate(664.55 2332.80) scale(1.030 1)" font-size="17.8" text-anchor="middle" fill="#444444">97</text>
<line x1="699.60" y1="2304.50" x2="699.60" y2="2313.50" stroke="#555555" stroke-width="2"/>
<text transform="translate(699.60 2332.80) scale(1.030 1)" font-size="17.8" text-anchor="middle" fill="#444444">103</text>
<line x1="734.65" y1="2304.50" x2="734.65" y2="2313.50" stroke="#555555" stroke-width="2"/>
<text transform="translate(734.65 2332.80) scale(1.030 1)" font-size="17.8" text-anchor="middle" fill="#444444">109</text>
<line x1="769.70" y1="2304.50" x2="769.70" y2="2313.50" stroke="#555555" stroke-width="2"/>
<text transform="translate(769.70 2332.80) scale(1.030 1)" font-size="17.8" text-anchor="middle" fill="#444444">115</text>
<line x1="804.75" y1="2304.50" x2="804.75" y2="2313.50" stroke="#555555" stroke-width="2"/>
<text transform="translate(804.75 2332.80) scale(1.030 1)" font-size="17.8" text-anchor="middle" fill="#444444">121</text>
<line x1="839.80" y1="2304.50" x2="839.80" y2="2313.50" stroke="#555555" stroke-width="2"/>
<text transform="translate(839.80 2332.80) scale(1.030 1)" font-size="17.8" text-anchor="middle" fill="#444444">127</text>
<line x1="874.85" y1="2304.50" x2="874.85" y2="2313.50" stroke="#555555" stroke-width="2"/>
<text transform="translate(874.85 2332.80) scale(1.030 1)" font-size="17.8" text-anchor="middle" fill="#444444">133</text>
<text x="485.00" y="2359.50" font-size="18" text-anchor="middle" font-weight="bold" fill="#444444">Weeks</text>
<text transform="translate(20.2 2127.1) rotate(-90)" font-size="17.6" font-weight="bold" text-anchor="middle" fill="#444444">Percentage (%)</text>
<rect x="202.80" y="2373.00" width="16.00" height="16.00" fill="#3c3892"/>
<text x="226.20" y="2387.60" font-size="17.9" text-anchor="start" fill="#444444">Not at all</text>
<rect x="314.80" y="2373.00" width="16.00" height="16.00" fill="#2e7bbd"/>
<text x="338.20" y="2387.60" font-size="17.9" text-anchor="start" fill="#444444">A little</text>
<rect x="403.40" y="2373.00" width="16.00" height="16.00" fill="#45b1c7"/>
<text x="426.80" y="2387.60" font-size="17.9" text-anchor="start" fill="#444444">Somewhat</text>
<rect x="530.20" y="2373.00" width="16.00" height="16.00" fill="#aad8b5"/>
<text x="553.60" y="2387.60" font-size="17.9" text-anchor="start" fill="#444444">Quite a bit</text>
<rect x="655.70" y="2373.00" width="16.00" height="16.00" fill="#737bbd"/>
<text x="679.10" y="2387.60" font-size="17.9" text-anchor="start" fill="#444444">Very much</text>
<text x="5.50" y="2416.00" font-size="14.3" text-anchor="start" font-weight="bold" fill="#444444">No. of Patients with Assessments</text>
<text transform="translate(5.50 2435.70) scale(1.030 1)" font-size="14" text-anchor="start" fill="#444444">Very much</text>
<text transform="translate(103.90 2435.70) scale(1.030 1)" font-size="14" text-anchor="middle" fill="#444444">11</text>
<text transform="translate(138.93 2435.70) scale(1.030 1)" font-size="14" text-anchor="middle" fill="#444444">24</text>
<text transform="translate(173.96 2435.70) scale(1.030 1)" font-size="14" text-anchor="middle" fill="#444444">23</text>
<text transform="translate(208.99 2435.70) scale(1.030 1)" font-size="14" text-anchor="middle" fill="#444444">18</text>
<text transform="translate(244.02 2435.70) scale(1.030 1)" font-size="14" text-anchor="middle" fill="#444444">6</text>
<text transform="translate(279.05 2435.70) scale(1.030 1)" font-size="14" text-anchor="middle" fill="#444444">9</text>
<text transform="translate(314.08 2435.70) scale(1.030 1)" font-size="14" text-anchor="middle" fill="#444444">6</text>
<text transform="translate(349.11 2435.70) scale(1.030 1)" font-size="14" text-anchor="middle" fill="#444444">2</text>
<text transform="translate(384.14 2435.70) scale(1.030 1)" font-size="14" text-anchor="middle" fill="#444444">2</text>
<text transform="translate(419.17 2435.70) scale(1.030 1)" font-size="14" text-anchor="middle" fill="#444444">4</text>
<text transform="translate(454.20 2435.70) scale(1.030 1)" font-size="14" text-anchor="middle" fill="#444444">2</text>
<text transform="translate(489.23 2435.70) scale(1.030 1)" font-size="14" text-anchor="middle" fill="#444444">2</text>
<text transform="translate(524.26 2435.70) scale(1.030 1)" font-size="14" text-anchor="middle" fill="#444444">1</text>
<text transform="translate(559.29 2435.70) scale(1.030 1)" font-size="14" text-anchor="middle" fill="#444444">0</text>
<text transform="translate(594.32 2435.70) scale(1.030 1)" font-size="14" text-anchor="middle" fill="#444444">1</text>
<text transform="translate(629.35 2435.70) scale(1.030 1)" font-size="14" text-anchor="middle" fill="#444444">0</text>
<text transform="translate(664.38 2435.70) scale(1.030 1)" font-size="14" text-anchor="middle" fill="#444444">0</text>
<text transform="translate(699.41 2435.70) scale(1.030 1)" font-size="14" text-anchor="middle" fill="#444444">0</text>
<text transform="translate(734.44 2435.70) scale(1.030 1)" font-size="14" text-anchor="middle" fill="#444444">0</text>
<text transform="translate(769.47 2435.70) scale(1.030 1)" font-size="14" text-anchor="middle" fill="#444444">0</text>
<text transform="translate(804.50 2435.70) scale(1.030 1)" font-size="14" text-anchor="middle" fill="#444444">0</text>
<text transform="translate(839.53 2435.70) scale(1.030 1)" font-size="14" text-anchor="middle" fill="#444444">0</text>
<text transform="translate(874.56 2435.70) scale(1.030 1)" font-size="14" text-anchor="middle" fill="#444444">0</text>
<text transform="translate(5.50 2455.40) scale(1.030 1)" font-size="14" text-anchor="start" fill="#444444">Quite a bit</text>
<text transform="translate(103.90 2455.40) scale(1.030 1)" font-size="14" text-anchor="middle" fill="#444444">26</text>
<text transform="translate(138.93 2455.40) scale(1.030 1)" font-size="14" text-anchor="middle" fill="#444444">44</text>
<text transform="translate(173.96 2455.40) scale(1.030 1)" font-size="14" text-anchor="middle" fill="#444444">46</text>
<text transform="translate(208.99 2455.40) scale(1.030 1)" font-size="14" text-anchor="middle" fill="#444444">48</text>
<text transform="translate(244.02 2455.40) scale(1.030 1)" font-size="14" text-anchor="middle" fill="#444444">42</text>
<text transform="translate(279.05 2455.40) scale(1.030 1)" font-size="14" text-anchor="middle" fill="#444444">25</text>
<text transform="translate(314.08 2455.40) scale(1.030 1)" font-size="14" text-anchor="middle" fill="#444444">24</text>
<text transform="translate(349.11 2455.40) scale(1.030 1)" font-size="14" text-anchor="middle" fill="#444444">12</text>
<text transform="translate(384.14 2455.40) scale(1.030 1)" font-size="14" text-anchor="middle" fill="#444444">9</text>
<text transform="translate(419.17 2455.40) scale(1.030 1)" font-size="14" text-anchor="middle" fill="#444444">9</text>
<text transform="translate(454.20 2455.40) scale(1.030 1)" font-size="14" text-anchor="middle" fill="#444444">5</text>
<text transform="translate(489.23 2455.40) scale(1.030 1)" font-size="14" text-anchor="middle" fill="#444444">7</text>
<text transform="translate(524.26 2455.40) scale(1.030 1)" font-size="14" text-anchor="middle" fill="#444444">4</text>
<text transform="translate(559.29 2455.40) scale(1.030 1)" font-size="14" text-anchor="middle" fill="#444444">7</text>
<text transform="translate(594.32 2455.40) scale(1.030 1)" font-size="14" text-anchor="middle" fill="#444444">3</text>
<text transform="translate(629.35 2455.40) scale(1.030 1)" font-size="14" text-anchor="middle" fill="#444444">4</text>
<text transform="translate(664.38 2455.40) scale(1.030 1)" font-size="14" text-anchor="middle" fill="#444444">3</text>
<text transform="translate(699.41 2455.40) scale(1.030 1)" font-size="14" text-anchor="middle" fill="#444444">2</text>
<text transform="translate(734.44 2455.40) scale(1.030 1)" font-size="14" text-anchor="middle" fill="#444444">0</text>
<text transform="translate(769.47 2455.40) scale(1.030 1)" font-size="14" text-anchor="middle" fill="#444444">0</text>
<text transform="translate(804.50 2455.40) scale(1.030 1)" font-size="14" text-anchor="middle" fill="#444444">1</text>
<text transform="translate(839.53 2455.40) scale(1.030 1)" font-size="14" text-anchor="middle" fill="#444444">0</text>
<text transform="translate(874.56 2455.40) scale(1.030 1)" font-size="14" text-anchor="middle" fill="#444444">0</text>
<text transform="translate(5.50 2475.10) scale(1.030 1)" font-size="14" text-anchor="start" fill="#444444">Somewhat</text>
<text transform="translate(103.90 2475.10) scale(1.030 1)" font-size="14" text-anchor="middle" fill="#444444">65</text>
<text transform="translate(138.93 2475.10) scale(1.030 1)" font-size="14" text-anchor="middle" fill="#444444">142</text>
<text transform="translate(173.96 2475.10) scale(1.030 1)" font-size="14" text-anchor="middle" fill="#444444">136</text>
<text transform="translate(208.99 2475.10) scale(1.030 1)" font-size="14" text-anchor="middle" fill="#444444">110</text>
<text transform="translate(244.02 2475.10) scale(1.030 1)" font-size="14" text-anchor="middle" fill="#444444">92</text>
<text transform="translate(279.05 2475.10) scale(1.030 1)" font-size="14" text-anchor="middle" fill="#444444">69</text>
<text transform="translate(314.08 2475.10) scale(1.030 1)" font-size="14" text-anchor="middle" fill="#444444">61</text>
<text transform="translate(349.11 2475.10) scale(1.030 1)" font-size="14" text-anchor="middle" fill="#444444">51</text>
<text transform="translate(384.14 2475.10) scale(1.030 1)" font-size="14" text-anchor="middle" fill="#444444">29</text>
<text transform="translate(419.17 2475.10) scale(1.030 1)" font-size="14" text-anchor="middle" fill="#444444">30</text>
<text transform="translate(454.20 2475.10) scale(1.030 1)" font-size="14" text-anchor="middle" fill="#444444">23</text>
<text transform="translate(489.23 2475.10) scale(1.030 1)" font-size="14" text-anchor="middle" fill="#444444">19</text>
<text transform="translate(524.26 2475.10) scale(1.030 1)" font-size="14" text-anchor="middle" fill="#444444">27</text>
<text transform="translate(559.29 2475.10) scale(1.030 1)" font-size="14" text-anchor="middle" fill="#444444">15</text>
<text transform="translate(594.32 2475.10) scale(1.030 1)" font-size="14" text-anchor="middle" fill="#444444">13</text>
<text transform="translate(629.35 2475.10) scale(1.030 1)" font-size="14" text-anchor="middle" fill="#444444">13</text>
<text transform="translate(664.38 2475.10) scale(1.030 1)" font-size="14" text-anchor="middle" fill="#444444">6</text>
<text transform="translate(699.41 2475.10) scale(1.030 1)" font-size="14" text-anchor="middle" fill="#444444">3</text>
<text transform="translate(734.44 2475.10) scale(1.030 1)" font-size="14" text-anchor="middle" fill="#444444">3</text>
<text transform="translate(769.47 2475.10) scale(1.030 1)" font-size="14" text-anchor="middle" fill="#444444">2</text>
<text transform="translate(804.50 2475.10) scale(1.030 1)" font-size="14" text-anchor="middle" fill="#444444">0</text>
<text transform="translate(839.53 2475.10) scale(1.030 1)" font-size="14" text-anchor="middle" fill="#444444">1</text>
<text transform="translate(874.56 2475.10) scale(1.030 1)" font-size="14" text-anchor="middle" fill="#444444">0</text>
<text transform="translate(5.50 2494.80) scale(1.030 1)" font-size="14" text-anchor="start" fill="#444444">A little bit</text>
<text transform="translate(103.90 2494.80) scale(1.030 1)" font-size="14" text-anchor="middle" fill="#444444">99</text>
<text transform="translate(138.93 2494.80) scale(1.030 1)" font-size="14" text-anchor="middle" fill="#444444">231</text>
<text transform="translate(173.96 2494.80) scale(1.030 1)" font-size="14" text-anchor="middle" fill="#444444">196</text>
<text transform="translate(208.99 2494.80) scale(1.030 1)" font-size="14" text-anchor="middle" fill="#444444">164</text>
<text transform="translate(244.02 2494.80) scale(1.030 1)" font-size="14" text-anchor="middle" fill="#444444">145</text>
<text transform="translate(279.05 2494.80) scale(1.030 1)" font-size="14" text-anchor="middle" fill="#444444">130</text>
<text transform="translate(314.08 2494.80) scale(1.030 1)" font-size="14" text-anchor="middle" fill="#444444">99</text>
<text transform="translate(349.11 2494.80) scale(1.030 1)" font-size="14" text-anchor="middle" fill="#444444">83</text>
<text transform="translate(384.14 2494.80) scale(1.030 1)" font-size="14" text-anchor="middle" fill="#444444">80</text>
<text transform="translate(419.17 2494.80) scale(1.030 1)" font-size="14" text-anchor="middle" fill="#444444">63</text>
<text transform="translate(454.20 2494.80) scale(1.030 1)" font-size="14" text-anchor="middle" fill="#444444">61</text>
<text transform="translate(489.23 2494.80) scale(1.030 1)" font-size="14" text-anchor="middle" fill="#444444">55</text>
<text transform="translate(524.26 2494.80) scale(1.030 1)" font-size="14" text-anchor="middle" fill="#444444">40</text>
<text transform="translate(559.29 2494.80) scale(1.030 1)" font-size="14" text-anchor="middle" fill="#444444">31</text>
<text transform="translate(594.32 2494.80) scale(1.030 1)" font-size="14" text-anchor="middle" fill="#444444">29</text>
<text transform="translate(629.35 2494.80) scale(1.030 1)" font-size="14" text-anchor="middle" fill="#444444">23</text>
<text transform="translate(664.38 2494.80) scale(1.030 1)" font-size="14" text-anchor="middle" fill="#444444">27</text>
<text transform="translate(699.41 2494.80) scale(1.030 1)" font-size="14" text-anchor="middle" fill="#444444">23</text>
<text transform="translate(734.44 2494.80) scale(1.030 1)" font-size="14" text-anchor="middle" fill="#444444">6</text>
<text transform="translate(769.47 2494.80) scale(1.030 1)" font-size="14" text-anchor="middle" fill="#444444">4</text>
<text transform="translate(804.50 2494.80) scale(1.030 1)" font-size="14" text-anchor="middle" fill="#444444">3</text>
<text transform="translate(839.53 2494.80) scale(1.030 1)" font-size="14" text-anchor="middle" fill="#444444">4</text>
<text transform="translate(874.56 2494.80) scale(1.030 1)" font-size="14" text-anchor="middle" fill="#444444">0</text>
<text transform="translate(5.50 2514.50) scale(1.030 1)" font-size="14" text-anchor="start" fill="#444444">Not at all</text>
<text transform="translate(103.90 2514.50) scale(1.030 1)" font-size="14" text-anchor="middle" fill="#444444">429</text>
<text transform="translate(138.93 2514.50) scale(1.030 1)" font-size="14" text-anchor="middle" fill="#444444">177</text>
<text transform="translate(173.96 2514.50) scale(1.030 1)" font-size="14" text-anchor="middle" fill="#444444">137</text>
<text transform="translate(208.99 2514.50) scale(1.030 1)" font-size="14" text-anchor="middle" fill="#444444">127</text>
<text transform="translate(244.02 2514.50) scale(1.030 1)" font-size="14" text-anchor="middle" fill="#444444">103</text>
<text transform="translate(279.05 2514.50) scale(1.030 1)" font-size="14" text-anchor="middle" fill="#444444">93</text>
<text transform="translate(314.08 2514.50) scale(1.030 1)" font-size="14" text-anchor="middle" fill="#444444">88</text>
<text transform="translate(349.11 2514.50) scale(1.030 1)" font-size="14" text-anchor="middle" fill="#444444">78</text>
<text transform="translate(384.14 2514.50) scale(1.030 1)" font-size="14" text-anchor="middle" fill="#444444">74</text>
<text transform="translate(419.17 2514.50) scale(1.030 1)" font-size="14" text-anchor="middle" fill="#444444">66</text>
<text transform="translate(454.20 2514.50) scale(1.030 1)" font-size="14" text-anchor="middle" fill="#444444">61</text>
<text transform="translate(489.23 2514.50) scale(1.030 1)" font-size="14" text-anchor="middle" fill="#444444">50</text>
<text transform="translate(524.26 2514.50) scale(1.030 1)" font-size="14" text-anchor="middle" fill="#444444">45</text>
<text transform="translate(559.29 2514.50) scale(1.030 1)" font-size="14" text-anchor="middle" fill="#444444">45</text>
<text transform="translate(594.32 2514.50) scale(1.030 1)" font-size="14" text-anchor="middle" fill="#444444">42</text>
<text transform="translate(629.35 2514.50) scale(1.030 1)" font-size="14" text-anchor="middle" fill="#444444">40</text>
<text transform="translate(664.38 2514.50) scale(1.030 1)" font-size="14" text-anchor="middle" fill="#444444">36</text>
<text transform="translate(699.41 2514.50) scale(1.030 1)" font-size="14" text-anchor="middle" fill="#444444">36</text>
<text transform="translate(734.44 2514.50) scale(1.030 1)" font-size="14" text-anchor="middle" fill="#444444">15</text>
<text transform="translate(769.47 2514.50) scale(1.030 1)" font-size="14" text-anchor="middle" fill="#444444">14</text>
<text transform="translate(804.50 2514.50) scale(1.030 1)" font-size="14" text-anchor="middle" fill="#444444">13</text>
<text transform="translate(839.53 2514.50) scale(1.030 1)" font-size="14" text-anchor="middle" fill="#444444">10</text>
<text transform="translate(874.56 2514.50) scale(1.030 1)" font-size="14" text-anchor="middle" fill="#444444">11</text>
<text x="1395.80" y="1930.00" font-size="18" text-anchor="middle" font-weight="bold" fill="#444444">Chemo</text>
<rect x="1000.80" y="2067.03" width="30.20" height="237.47" fill="#3c3892"/>
<rect x="1000.80" y="2008.11" width="30.20" height="58.92" fill="#2e7bbd"/>
<rect x="1000.80" y="1969.04" width="30.20" height="39.08" fill="#45b1c7"/>
<rect x="1000.80" y="1957.01" width="30.20" height="12.02" fill="#aad8b5"/>
<rect x="1000.80" y="1950.40" width="30.20" height="6.61" fill="#737bbd"/>
<text x="1015.90" y="2187.40" font-size="12.6" text-anchor="middle" fill="#e4e9ff" stroke="#e4e9ff" stroke-width="0.35">67</text>
<rect x="1035.81" y="2215.04" width="30.20" height="89.46" fill="#3c3892"/>
<rect x="1035.81" y="2086.45" width="30.20" height="128.59" fill="#2e7bbd"/>
<rect x="1035.81" y="2004.45" width="30.20" height="82.00" fill="#45b1c7"/>
<rect x="1035.81" y="1964.07" width="30.20" height="40.38" fill="#aad8b5"/>
<rect x="1035.81" y="1950.40" width="30.20" height="13.67" fill="#737bbd"/>
<text x="1050.91" y="2261.90" font-size="12.6" text-anchor="middle" fill="#e4e9ff" stroke="#e4e9ff" stroke-width="0.35">25</text>
<rect x="1070.82" y="2216.56" width="30.20" height="87.94" fill="#3c3892"/>
<rect x="1070.82" y="2078.81" width="30.20" height="137.75" fill="#2e7bbd"/>
<rect x="1070.82" y="2001.76" width="30.20" height="77.05" fill="#45b1c7"/>
<rect x="1070.82" y="1968.30" width="30.20" height="33.46" fill="#aad8b5"/>
<rect x="1070.82" y="1950.40" width="30.20" height="17.90" fill="#737bbd"/>
<text x="1085.92" y="2267.00" font-size="12.6" text-anchor="middle" fill="#e4e9ff" stroke="#e4e9ff" stroke-width="0.35">25</text>
<rect x="1105.83" y="2209.13" width="30.20" height="95.37" fill="#3c3892"/>
<rect x="1105.83" y="2067.08" width="30.20" height="142.05" fill="#2e7bbd"/>
<rect x="1105.83" y="1990.98" width="30.20" height="76.10" fill="#45b1c7"/>
<rect x="1105.83" y="1962.58" width="30.20" height="28.41" fill="#aad8b5"/>
<rect x="1105.83" y="1950.40" width="30.20" height="12.18" fill="#737bbd"/>
<text x="1120.93" y="2264.70" font-size="12.6" text-anchor="middle" fill="#e4e9ff" stroke="#e4e9ff" stroke-width="0.35">27</text>
<rect x="1140.84" y="2210.32" width="30.20" height="94.18" fill="#3c3892"/>
<rect x="1140.84" y="2092.29" width="30.20" height="118.03" fill="#2e7bbd"/>
<rect x="1140.84" y="1996.86" width="30.20" height="95.43" fill="#45b1c7"/>
<rect x="1140.84" y="1959.19" width="30.20" height="37.67" fill="#aad8b5"/>
<rect x="1140.84" y="1950.40" width="30.20" height="8.79" fill="#737bbd"/>
<text x="1155.94" y="2259.10" font-size="12.6" text-anchor="middle" fill="#e4e9ff" stroke="#e4e9ff" stroke-width="0.35">21</text>
<rect x="1175.85" y="2225.62" width="30.20" height="78.88" fill="#3c3892"/>
<rect x="1175.85" y="2089.69" width="30.20" height="135.93" fill="#2e7bbd"/>
<rect x="1175.85" y="2019.21" width="30.20" height="70.48" fill="#45b1c7"/>
<rect x="1175.85" y="1962.15" width="30.20" height="57.06" fill="#aad8b5"/>
<rect x="1175.85" y="1950.40" width="30.20" height="11.75" fill="#737bbd"/>
<text x="1190.95" y="2269.80" font-size="12.6" text-anchor="middle" fill="#e4e9ff" stroke="#e4e9ff" stroke-width="0.35">22</text>
<rect x="1210.86" y="2228.17" width="30.20" height="76.33" fill="#3c3892"/>
<rect x="1210.86" y="2052.18" width="30.20" height="175.99" fill="#2e7bbd"/>
<rect x="1210.86" y="1992.81" width="30.20" height="59.37" fill="#45b1c7"/>
<rect x="1210.86" y="1958.88" width="30.20" height="33.93" fill="#aad8b5"/>
<rect x="1210.86" y="1950.40" width="30.20" height="8.48" fill="#737bbd"/>
<text x="1225.96" y="2268.60" font-size="12.6" text-anchor="middle" fill="#e4e9ff" stroke="#e4e9ff" stroke-width="0.35">22</text>
<rect x="1245.87" y="2205.68" width="30.20" height="98.82" fill="#3c3892"/>
<rect x="1245.87" y="2049.22" width="30.20" height="156.46" fill="#2e7bbd"/>
<rect x="1245.87" y="1988.83" width="30.20" height="60.39" fill="#45b1c7"/>
<rect x="1245.87" y="1961.38" width="30.20" height="27.45" fill="#aad8b5"/>
<rect x="1245.87" y="1950.40" width="30.20" height="10.98" fill="#737bbd"/>
<text x="1260.97" y="2261.90" font-size="12.6" text-anchor="middle" fill="#e4e9ff" stroke="#e4e9ff" stroke-width="0.35">28</text>
<rect x="1280.88" y="2203.33" width="30.20" height="101.17" fill="#3c3892"/>
<rect x="1280.88" y="2055.18" width="30.20" height="148.14" fill="#2e7bbd"/>
<rect x="1280.88" y="2004.60" width="30.20" height="50.59" fill="#45b1c7"/>
<rect x="1280.88" y="1957.63" width="30.20" height="46.97" fill="#aad8b5"/>
<rect x="1280.88" y="1950.40" width="30.20" height="7.23" fill="#737bbd"/>
<text x="1295.98" y="2261.90" font-size="12.6" text-anchor="middle" fill="#e4e9ff" stroke="#e4e9ff" stroke-width="0.35">29</text>
<rect x="1315.89" y="2193.58" width="30.20" height="110.92" fill="#3c3892"/>
<rect x="1315.89" y="2035.73" width="30.20" height="157.85" fill="#2e7bbd"/>
<rect x="1315.89" y="1993.06" width="30.20" height="42.66" fill="#45b1c7"/>
<rect x="1315.89" y="1958.93" width="30.20" height="34.13" fill="#aad8b5"/>
<rect x="1315.89" y="1950.40" width="30.20" height="8.53" fill="#737bbd"/>
<text x="1330.99" y="2260.20" font-size="12.6" text-anchor="middle" fill="#e4e9ff" stroke="#e4e9ff" stroke-width="0.35">31</text>
<rect x="1350.90" y="2154.28" width="30.20" height="150.22" fill="#3c3892"/>
<rect x="1350.90" y="2025.51" width="30.20" height="128.76" fill="#2e7bbd"/>
<rect x="1350.90" y="1971.86" width="30.20" height="53.65" fill="#45b1c7"/>
<rect x="1350.90" y="1950.40" width="30.20" height="21.46" fill="#aad8b5"/>
<text x="1366.00" y="2235.60" font-size="12.6" text-anchor="middle" fill="#e4e9ff" stroke="#e4e9ff" stroke-width="0.35">42</text>
<rect x="1385.91" y="2192.68" width="30.20" height="111.82" fill="#3c3892"/>
<rect x="1385.91" y="2024.95" width="30.20" height="167.73" fill="#2e7bbd"/>
<rect x="1385.91" y="1981.46" width="30.20" height="43.49" fill="#45b1c7"/>
<rect x="1385.91" y="1950.40" width="30.20" height="31.06" fill="#aad8b5"/>
<text x="1401.01" y="2257.50" font-size="12.6" text-anchor="middle" fill="#e4e9ff" stroke="#e4e9ff" stroke-width="0.35">32</text>
<rect x="1420.92" y="2165.64" width="30.20" height="138.86" fill="#3c3892"/>
<rect x="1420.92" y="2026.77" width="30.20" height="138.86" fill="#2e7bbd"/>
<rect x="1420.92" y="1978.17" width="30.20" height="48.60" fill="#45b1c7"/>
<rect x="1420.92" y="1957.34" width="30.20" height="20.83" fill="#aad8b5"/>
<rect x="1420.92" y="1950.40" width="30.20" height="6.94" fill="#737bbd"/>
<text x="1436.02" y="2248.90" font-size="12.6" text-anchor="middle" fill="#e4e9ff" stroke="#e4e9ff" stroke-width="0.35">39</text>
<rect x="1455.93" y="2159.64" width="30.20" height="144.86" fill="#3c3892"/>
<rect x="1455.93" y="1998.69" width="30.20" height="160.95" fill="#2e7bbd"/>
<rect x="1455.93" y="1974.54" width="30.20" height="24.14" fill="#45b1c7"/>
<rect x="1455.93" y="1950.40" width="30.20" height="24.14" fill="#aad8b5"/>
<text x="1471.03" y="2244.90" font-size="12.6" text-anchor="middle" fill="#e4e9ff" stroke="#e4e9ff" stroke-width="0.35">41</text>
<rect x="1490.94" y="2150.15" width="30.20" height="154.35" fill="#3c3892"/>
<rect x="1490.94" y="2023.04" width="30.20" height="127.11" fill="#2e7bbd"/>
<rect x="1490.94" y="1986.72" width="30.20" height="36.32" fill="#45b1c7"/>
<rect x="1490.94" y="1959.48" width="30.20" height="27.24" fill="#aad8b5"/>
<rect x="1490.94" y="1950.40" width="30.20" height="9.08" fill="#737bbd"/>
<text x="1506.04" y="2225.30" font-size="12.6" text-anchor="middle" fill="#e4e9ff" stroke="#e4e9ff" stroke-width="0.35">44</text>
<rect x="1525.95" y="2151.38" width="30.20" height="153.12" fill="#3c3892"/>
<rect x="1525.95" y="2026.96" width="30.20" height="124.41" fill="#2e7bbd"/>
<rect x="1525.95" y="1979.11" width="30.20" height="47.85" fill="#45b1c7"/>
<rect x="1525.95" y="1950.40" width="30.20" height="28.71" fill="#aad8b5"/>
<text x="1541.05" y="2229.90" font-size="12.6" text-anchor="middle" fill="#e4e9ff" stroke="#e4e9ff" stroke-width="0.35">43</text>
<rect x="1560.96" y="2179.52" width="30.20" height="124.98" fill="#3c3892"/>
<rect x="1560.96" y="2023.30" width="30.20" height="156.22" fill="#2e7bbd"/>
<rect x="1560.96" y="1971.23" width="30.20" height="52.07" fill="#45b1c7"/>
<rect x="1560.96" y="1960.81" width="30.20" height="10.41" fill="#aad8b5"/>
<rect x="1560.96" y="1950.40" width="30.20" height="10.41" fill="#737bbd"/>
<text x="1576.06" y="2250.50" font-size="12.6" text-anchor="middle" fill="#e4e9ff" stroke="#e4e9ff" stroke-width="0.35">35</text>
<rect x="1595.97" y="2219.52" width="30.20" height="84.98" fill="#3c3892"/>
<rect x="1595.97" y="2035.38" width="30.20" height="184.13" fill="#2e7bbd"/>
<rect x="1595.97" y="2021.22" width="30.20" height="14.16" fill="#45b1c7"/>
<rect x="1595.97" y="1950.40" width="30.20" height="70.82" fill="#aad8b5"/>
<text x="1611.07" y="2265.60" font-size="12.6" text-anchor="middle" fill="#e4e9ff" stroke="#e4e9ff" stroke-width="0.35">24</text>
<rect x="1630.98" y="2191.83" width="30.20" height="112.67" fill="#3c3892"/>
<rect x="1630.98" y="2046.97" width="30.20" height="144.86" fill="#2e7bbd"/>
<rect x="1630.98" y="1982.59" width="30.20" height="64.38" fill="#45b1c7"/>
<rect x="1630.98" y="1950.40" width="30.20" height="32.19" fill="#aad8b5"/>
<text x="1646.08" y="2251.90" font-size="12.6" text-anchor="middle" fill="#e4e9ff" stroke="#e4e9ff" stroke-width="0.35">32</text>
<rect x="1665.99" y="2165.94" width="30.20" height="138.56" fill="#3c3892"/>
<rect x="1665.99" y="2042.77" width="30.20" height="123.17" fill="#2e7bbd"/>
<rect x="1665.99" y="1981.19" width="30.20" height="61.58" fill="#45b1c7"/>
<rect x="1665.99" y="1965.80" width="30.20" height="15.40" fill="#aad8b5"/>
<rect x="1665.99" y="1950.40" width="30.20" height="15.40" fill="#737bbd"/>
<text x="1681.09" y="2242.20" font-size="12.6" text-anchor="middle" fill="#e4e9ff" stroke="#e4e9ff" stroke-width="0.35">39</text>
<rect x="1701.00" y="2186.47" width="30.20" height="118.03" fill="#3c3892"/>
<rect x="1701.00" y="2029.09" width="30.20" height="157.38" fill="#2e7bbd"/>
<rect x="1701.00" y="2009.42" width="30.20" height="19.67" fill="#45b1c7"/>
<rect x="1701.00" y="1970.07" width="30.20" height="39.34" fill="#aad8b5"/>
<rect x="1701.00" y="1950.40" width="30.20" height="19.67" fill="#737bbd"/>
<text x="1716.10" y="2250.70" font-size="12.6" text-anchor="middle" fill="#e4e9ff" stroke="#e4e9ff" stroke-width="0.35">33</text>
<rect x="1736.01" y="2179.52" width="30.20" height="124.98" fill="#3c3892"/>
<rect x="1736.01" y="2012.89" width="30.20" height="166.64" fill="#2e7bbd"/>
<rect x="1736.01" y="1992.06" width="30.20" height="20.83" fill="#45b1c7"/>
<rect x="1736.01" y="1950.40" width="30.20" height="41.66" fill="#aad8b5"/>
<text x="1751.11" y="2247.00" font-size="12.6" text-anchor="middle" fill="#e4e9ff" stroke="#e4e9ff" stroke-width="0.35">35</text>
<rect x="1771.02" y="2195.55" width="30.20" height="108.95" fill="#3c3892"/>
<rect x="1771.02" y="2032.12" width="30.20" height="163.43" fill="#2e7bbd"/>
<rect x="1771.02" y="1950.40" width="30.20" height="81.72" fill="#45b1c7"/>
<text x="1786.12" y="2250.50" font-size="12.6" text-anchor="middle" fill="#e4e9ff" stroke="#e4e9ff" stroke-width="0.35">31</text>
<line x1="984.00" y1="1950.40" x2="984.00" y2="2304.50" stroke="#555555" stroke-width="2"/>
<line x1="975.00" y1="2304.50" x2="984.00" y2="2304.50" stroke="#555555" stroke-width="2"/>
<text transform="translate(970.50 2310.80) scale(1.010 1)" font-size="17.8" text-anchor="end" fill="#444444">0</text>
<line x1="975.00" y1="2269.09" x2="984.00" y2="2269.09" stroke="#555555" stroke-width="2"/>
<text transform="translate(970.50 2275.39) scale(1.010 1)" font-size="17.8" text-anchor="end" fill="#444444">10</text>
<line x1="975.00" y1="2233.68" x2="984.00" y2="2233.68" stroke="#555555" stroke-width="2"/>
<text transform="translate(970.50 2239.98) scale(1.010 1)" font-size="17.8" text-anchor="end" fill="#444444">20</text>
<line x1="975.00" y1="2198.27" x2="984.00" y2="2198.27" stroke="#555555" stroke-width="2"/>
<text transform="translate(970.50 2204.57) scale(1.010 1)" font-size="17.8" text-anchor="end" fill="#444444">30</text>
<line x1="975.00" y1="2162.86" x2="984.00" y2="2162.86" stroke="#555555" stroke-width="2"/>
<text transform="translate(970.50 2169.16) scale(1.010 1)" font-size="17.8" text-anchor="end" fill="#444444">40</text>
<line x1="975.00" y1="2127.45" x2="984.00" y2="2127.45" stroke="#555555" stroke-width="2"/>
<text transform="translate(970.50 2133.75) scale(1.010 1)" font-size="17.8" text-anchor="end" fill="#444444">50</text>
<line x1="975.00" y1="2092.04" x2="984.00" y2="2092.04" stroke="#555555" stroke-width="2"/>
<text transform="translate(970.50 2098.34) scale(1.010 1)" font-size="17.8" text-anchor="end" fill="#444444">60</text>
<line x1="975.00" y1="2056.63" x2="984.00" y2="2056.63" stroke="#555555" stroke-width="2"/>
<text transform="translate(970.50 2062.93) scale(1.010 1)" font-size="17.8" text-anchor="end" fill="#444444">70</text>
<line x1="975.00" y1="2021.22" x2="984.00" y2="2021.22" stroke="#555555" stroke-width="2"/>
<text transform="translate(970.50 2027.52) scale(1.010 1)" font-size="17.8" text-anchor="end" fill="#444444">80</text>
<line x1="975.00" y1="1985.81" x2="984.00" y2="1985.81" stroke="#555555" stroke-width="2"/>
<text transform="translate(970.50 1992.11) scale(1.010 1)" font-size="17.8" text-anchor="end" fill="#444444">90</text>
<line x1="975.00" y1="1950.40" x2="984.00" y2="1950.40" stroke="#555555" stroke-width="2"/>
<text transform="translate(970.50 1956.70) scale(1.010 1)" font-size="17.8" text-anchor="end" fill="#444444">100</text>
<line x1="975.00" y1="2304.50" x2="1816.00" y2="2304.50" stroke="#555555" stroke-width="2.2"/>
<line x1="1015.90" y1="2304.50" x2="1015.90" y2="2313.50" stroke="#555555" stroke-width="2"/>
<text transform="translate(1015.90 2332.80) scale(1.030 1)" font-size="17.8" text-anchor="middle" fill="#444444">BL</text>
<line x1="1050.91" y1="2304.50" x2="1050.91" y2="2313.50" stroke="#555555" stroke-width="2"/>
<text transform="translate(1050.91 2332.80) scale(1.030 1)" font-size="17.8" text-anchor="middle" fill="#444444">7</text>
<line x1="1085.92" y1="2304.50" x2="1085.92" y2="2313.50" stroke="#555555" stroke-width="2"/>
<text transform="translate(1085.92 2332.80) scale(1.030 1)" font-size="17.8" text-anchor="middle" fill="#444444">13</text>
<line x1="1120.93" y1="2304.50" x2="1120.93" y2="2313.50" stroke="#555555" stroke-width="2"/>
<text transform="translate(1120.93 2332.80) scale(1.030 1)" font-size="17.8" text-anchor="middle" fill="#444444">19</text>
<line x1="1155.94" y1="2304.50" x2="1155.94" y2="2313.50" stroke="#555555" stroke-width="2"/>
<text transform="translate(1155.94 2332.80) scale(1.030 1)" font-size="17.8" text-anchor="middle" fill="#444444">25</text>
<line x1="1190.95" y1="2304.50" x2="1190.95" y2="2313.50" stroke="#555555" stroke-width="2"/>
<text transform="translate(1190.95 2332.80) scale(1.030 1)" font-size="17.8" text-anchor="middle" fill="#444444">31</text>
<line x1="1225.96" y1="2304.50" x2="1225.96" y2="2313.50" stroke="#555555" stroke-width="2"/>
<text transform="translate(1225.96 2332.80) scale(1.030 1)" font-size="17.8" text-anchor="middle" fill="#444444">37</text>
<line x1="1260.97" y1="2304.50" x2="1260.97" y2="2313.50" stroke="#555555" stroke-width="2"/>
<text transform="translate(1260.97 2332.80) scale(1.030 1)" font-size="17.8" text-anchor="middle" fill="#444444">43</text>
<line x1="1295.98" y1="2304.50" x2="1295.98" y2="2313.50" stroke="#555555" stroke-width="2"/>
<text transform="translate(1295.98 2332.80) scale(1.030 1)" font-size="17.8" text-anchor="middle" fill="#444444">49</text>
<line x1="1330.99" y1="2304.50" x2="1330.99" y2="2313.50" stroke="#555555" stroke-width="2"/>
<text transform="translate(1330.99 2332.80) scale(1.030 1)" font-size="17.8" text-anchor="middle" fill="#444444">55</text>
<line x1="1366.00" y1="2304.50" x2="1366.00" y2="2313.50" stroke="#555555" stroke-width="2"/>
<text transform="translate(1366.00 2332.80) scale(1.030 1)" font-size="17.8" text-anchor="middle" fill="#444444">61</text>
<line x1="1401.01" y1="2304.50" x2="1401.01" y2="2313.50" stroke="#555555" stroke-width="2"/>
<text transform="translate(1401.01 2332.80) scale(1.030 1)" font-size="17.8" text-anchor="middle" fill="#444444">67</text>
<line x1="1436.02" y1="2304.50" x2="1436.02" y2="2313.50" stroke="#555555" stroke-width="2"/>
<text transform="translate(1436.02 2332.80) scale(1.030 1)" font-size="17.8" text-anchor="middle" fill="#444444">73</text>
<line x1="1471.03" y1="2304.50" x2="1471.03" y2="2313.50" stroke="#555555" stroke-width="2"/>
<text transform="translate(1471.03 2332.80) scale(1.030 1)" font-size="17.8" text-anchor="middle" fill="#444444">79</text>
<line x1="1506.04" y1="2304.50" x2="1506.04" y2="2313.50" stroke="#555555" stroke-width="2"/>
<text transform="translate(1506.04 2332.80) scale(1.030 1)" font-size="17.8" text-anchor="middle" fill="#444444">85</text>
<line x1="1541.05" y1="2304.50" x2="1541.05" y2="2313.50" stroke="#555555" stroke-width="2"/>
<text transform="translate(1541.05 2332.80) scale(1.030 1)" font-size="17.8" text-anchor="middle" fill="#444444">91</text>
<line x1="1576.06" y1="2304.50" x2="1576.06" y2="2313.50" stroke="#555555" stroke-width="2"/>
<text transform="translate(1576.06 2332.80) scale(1.030 1)" font-size="17.8" text-anchor="middle" fill="#444444">97</text>
<line x1="1611.07" y1="2304.50" x2="1611.07" y2="2313.50" stroke="#555555" stroke-width="2"/>
<text transform="translate(1611.07 2332.80) scale(1.030 1)" font-size="17.8" text-anchor="middle" fill="#444444">103</text>
<line x1="1646.08" y1="2304.50" x2="1646.08" y2="2313.50" stroke="#555555" stroke-width="2"/>
<text transform="translate(1646.08 2332.80) scale(1.030 1)" font-size="17.8" text-anchor="middle" fill="#444444">109</text>
<line x1="1681.09" y1="2304.50" x2="1681.09" y2="2313.50" stroke="#555555" stroke-width="2"/>
<text transform="translate(1681.09 2332.80) scale(1.030 1)" font-size="17.8" text-anchor="middle" fill="#444444">115</text>
<line x1="1716.10" y1="2304.50" x2="1716.10" y2="2313.50" stroke="#555555" stroke-width="2"/>
<text transform="translate(1716.10 2332.80) scale(1.030 1)" font-size="17.8" text-anchor="middle" fill="#444444">121</text>
<line x1="1751.11" y1="2304.50" x2="1751.11" y2="2313.50" stroke="#555555" stroke-width="2"/>
<text transform="translate(1751.11 2332.80) scale(1.030 1)" font-size="17.8" text-anchor="middle" fill="#444444">127</text>
<line x1="1786.12" y1="2304.50" x2="1786.12" y2="2313.50" stroke="#555555" stroke-width="2"/>
<text transform="translate(1786.12 2332.80) scale(1.030 1)" font-size="17.8" text-anchor="middle" fill="#444444">133</text>
<text x="1395.80" y="2359.50" font-size="18" text-anchor="middle" font-weight="bold" fill="#444444">Weeks</text>
<rect x="1114.20" y="2373.00" width="16.00" height="16.00" fill="#3c3892"/>
<text x="1137.60" y="2387.60" font-size="17.9" text-anchor="start" fill="#444444">Not at all</text>
<rect x="1226.20" y="2373.00" width="16.00" height="16.00" fill="#2e7bbd"/>
<text x="1249.60" y="2387.60" font-size="17.9" text-anchor="start" fill="#444444">A little</text>
<rect x="1314.80" y="2373.00" width="16.00" height="16.00" fill="#45b1c7"/>
<text x="1338.20" y="2387.60" font-size="17.9" text-anchor="start" fill="#444444">Somewhat</text>
<rect x="1441.60" y="2373.00" width="16.00" height="16.00" fill="#aad8b5"/>
<text x="1465.00" y="2387.60" font-size="17.9" text-anchor="start" fill="#444444">Quite a bit</text>
<rect x="1567.10" y="2373.00" width="16.00" height="16.00" fill="#737bbd"/>
<text x="1590.50" y="2387.60" font-size="17.9" text-anchor="start" fill="#444444">Very much</text>
<text x="915.60" y="2416.00" font-size="14.3" text-anchor="start" font-weight="bold" fill="#444444">No. of Patients with Assessments</text>
<text transform="translate(915.60 2435.70) scale(1.030 1)" font-size="14" text-anchor="start" fill="#444444">Very much</text>
<text transform="translate(1015.30 2435.70) scale(1.030 1)" font-size="14" text-anchor="middle" fill="#444444">11</text>
<text transform="translate(1050.39 2435.70) scale(1.030 1)" font-size="14" text-anchor="middle" fill="#444444">22</text>
<text transform="translate(1085.48 2435.70) scale(1.030 1)" font-size="14" text-anchor="middle" fill="#444444">23</text>
<text transform="translate(1120.57 2435.70) scale(1.030 1)" font-size="14" text-anchor="middle" fill="#444444">12</text>
<text transform="translate(1155.66 2435.70) scale(1.030 1)" font-size="14" text-anchor="middle" fill="#444444">7</text>
<text transform="translate(1190.75 2435.70) scale(1.030 1)" font-size="14" text-anchor="middle" fill="#444444">7</text>
<text transform="translate(1225.84 2435.70) scale(1.030 1)" font-size="14" text-anchor="middle" fill="#444444">4</text>
<text transform="translate(1260.93 2435.70) scale(1.030 1)" font-size="14" text-anchor="middle" fill="#444444">4</text>
<text transform="translate(1296.02 2435.70) scale(1.030 1)" font-size="14" text-anchor="middle" fill="#444444">2</text>
<text transform="translate(1331.11 2435.70) scale(1.030 1)" font-size="14" text-anchor="middle" fill="#444444">2</text>
<text transform="translate(1366.20 2435.70) scale(1.030 1)" font-size="14" text-anchor="middle" fill="#444444">0</text>
<text transform="translate(1401.29 2435.70) scale(1.030 1)" font-size="14" text-anchor="middle" fill="#444444">0</text>
<text transform="translate(1436.38 2435.70) scale(1.030 1)" font-size="14" text-anchor="middle" fill="#444444">1</text>
<text transform="translate(1471.47 2435.70) scale(1.030 1)" font-size="14" text-anchor="middle" fill="#444444">0</text>
<text transform="translate(1506.56 2435.70) scale(1.030 1)" font-size="14" text-anchor="middle" fill="#444444">1</text>
<text transform="translate(1541.65 2435.70) scale(1.030 1)" font-size="14" text-anchor="middle" fill="#444444">0</text>
<text transform="translate(1576.74 2435.70) scale(1.030 1)" font-size="14" text-anchor="middle" fill="#444444">1</text>
<text transform="translate(1611.83 2435.70) scale(1.030 1)" font-size="14" text-anchor="middle" fill="#444444">0</text>
<text transform="translate(1646.92 2435.70) scale(1.030 1)" font-size="14" text-anchor="middle" fill="#444444">0</text>
<text transform="translate(1682.01 2435.70) scale(1.030 1)" font-size="14" text-anchor="middle" fill="#444444">1</text>
<text transform="translate(1717.10 2435.70) scale(1.030 1)" font-size="14" text-anchor="middle" fill="#444444">1</text>
<text transform="translate(1752.19 2435.70) scale(1.030 1)" font-size="14" text-anchor="middle" fill="#444444">0</text>
<text transform="translate(1787.28 2435.70) scale(1.030 1)" font-size="14" text-anchor="middle" fill="#444444">0</text>
<text transform="translate(915.60 2455.40) scale(1.030 1)" font-size="14" text-anchor="start" fill="#444444">Quite a bit</text>
<text transform="translate(1015.30 2455.40) scale(1.030 1)" font-size="14" text-anchor="middle" fill="#444444">20</text>
<text transform="translate(1050.39 2455.40) scale(1.030 1)" font-size="14" text-anchor="middle" fill="#444444">65</text>
<text transform="translate(1085.48 2455.40) scale(1.030 1)" font-size="14" text-anchor="middle" fill="#444444">43</text>
<text transform="translate(1120.57 2455.40) scale(1.030 1)" font-size="14" text-anchor="middle" fill="#444444">28</text>
<text transform="translate(1155.66 2455.40) scale(1.030 1)" font-size="14" text-anchor="middle" fill="#444444">30</text>
<text transform="translate(1190.75 2455.40) scale(1.030 1)" font-size="14" text-anchor="middle" fill="#444444">34</text>
<text transform="translate(1225.84 2455.40) scale(1.030 1)" font-size="14" text-anchor="middle" fill="#444444">16</text>
<text transform="translate(1260.93 2455.40) scale(1.030 1)" font-size="14" text-anchor="middle" fill="#444444">10</text>
<text transform="translate(1296.02 2455.40) scale(1.030 1)" font-size="14" text-anchor="middle" fill="#444444">13</text>
<text transform="translate(1331.11 2455.40) scale(1.030 1)" font-size="14" text-anchor="middle" fill="#444444">8</text>
<text transform="translate(1366.20 2455.40) scale(1.030 1)" font-size="14" text-anchor="middle" fill="#444444">4</text>
<text transform="translate(1401.29 2455.40) scale(1.030 1)" font-size="14" text-anchor="middle" fill="#444444">5</text>
<text transform="translate(1436.38 2455.40) scale(1.030 1)" font-size="14" text-anchor="middle" fill="#444444">3</text>
<text transform="translate(1471.47 2455.40) scale(1.030 1)" font-size="14" text-anchor="middle" fill="#444444">3</text>
<text transform="translate(1506.56 2455.40) scale(1.030 1)" font-size="14" text-anchor="middle" fill="#444444">3</text>
<text transform="translate(1541.65 2455.40) scale(1.030 1)" font-size="14" text-anchor="middle" fill="#444444">3</text>
<text transform="translate(1576.74 2455.40) scale(1.030 1)" font-size="14" text-anchor="middle" fill="#444444">1</text>
<text transform="translate(1611.83 2455.40) scale(1.030 1)" font-size="14" text-anchor="middle" fill="#444444">5</text>
<text transform="translate(1646.92 2455.40) scale(1.030 1)" font-size="14" text-anchor="middle" fill="#444444">2</text>
<text transform="translate(1682.01 2455.40) scale(1.030 1)" font-size="14" text-anchor="middle" fill="#444444">1</text>
<text transform="translate(1717.10 2455.40) scale(1.030 1)" font-size="14" text-anchor="middle" fill="#444444">2</text>
<text transform="translate(1752.19 2455.40) scale(1.030 1)" font-size="14" text-anchor="middle" fill="#444444">2</text>
<text transform="translate(1787.28 2455.40) scale(1.030 1)" font-size="14" text-anchor="middle" fill="#444444">0</text>
<text transform="translate(915.60 2475.10) scale(1.030 1)" font-size="14" text-anchor="start" fill="#444444">Somewhat</text>
<text transform="translate(1015.30 2475.10) scale(1.030 1)" font-size="14" text-anchor="middle" fill="#444444">65</text>
<text transform="translate(1050.39 2475.10) scale(1.030 1)" font-size="14" text-anchor="middle" fill="#444444">132</text>
<text transform="translate(1085.48 2475.10) scale(1.030 1)" font-size="14" text-anchor="middle" fill="#444444">99</text>
<text transform="translate(1120.57 2475.10) scale(1.030 1)" font-size="14" text-anchor="middle" fill="#444444">75</text>
<text transform="translate(1155.66 2475.10) scale(1.030 1)" font-size="14" text-anchor="middle" fill="#444444">76</text>
<text transform="translate(1190.75 2475.10) scale(1.030 1)" font-size="14" text-anchor="middle" fill="#444444">42</text>
<text transform="translate(1225.84 2475.10) scale(1.030 1)" font-size="14" text-anchor="middle" fill="#444444">28</text>
<text transform="translate(1260.93 2475.10) scale(1.030 1)" font-size="14" text-anchor="middle" fill="#444444">22</text>
<text transform="translate(1296.02 2475.10) scale(1.030 1)" font-size="14" text-anchor="middle" fill="#444444">14</text>
<text transform="translate(1331.11 2475.10) scale(1.030 1)" font-size="14" text-anchor="middle" fill="#444444">10</text>
<text transform="translate(1366.20 2475.10) scale(1.030 1)" font-size="14" text-anchor="middle" fill="#444444">10</text>
<text transform="translate(1401.29 2475.10) scale(1.030 1)" font-size="14" text-anchor="middle" fill="#444444">7</text>
<text transform="translate(1436.38 2475.10) scale(1.030 1)" font-size="14" text-anchor="middle" fill="#444444">7</text>
<text transform="translate(1471.47 2475.10) scale(1.030 1)" font-size="14" text-anchor="middle" fill="#444444">3</text>
<text transform="translate(1506.56 2475.10) scale(1.030 1)" font-size="14" text-anchor="middle" fill="#444444">4</text>
<text transform="translate(1541.65 2475.10) scale(1.030 1)" font-size="14" text-anchor="middle" fill="#444444">5</text>
<text transform="translate(1576.74 2475.10) scale(1.030 1)" font-size="14" text-anchor="middle" fill="#444444">5</text>
<text transform="translate(1611.83 2475.10) scale(1.030 1)" font-size="14" text-anchor="middle" fill="#444444">1</text>
<text transform="translate(1646.92 2475.10) scale(1.030 1)" font-size="14" text-anchor="middle" fill="#444444">4</text>
<text transform="translate(1682.01 2475.10) scale(1.030 1)" font-size="14" text-anchor="middle" fill="#444444">4</text>
<text transform="translate(1717.10 2475.10) scale(1.030 1)" font-size="14" text-anchor="middle" fill="#444444">1</text>
<text transform="translate(1752.19 2475.10) scale(1.030 1)" font-size="14" text-anchor="middle" fill="#444444">1</text>
<text transform="translate(1787.28 2475.10) scale(1.030 1)" font-size="14" text-anchor="middle" fill="#444444">3</text>
<text transform="translate(915.60 2494.80) scale(1.030 1)" font-size="14" text-anchor="start" fill="#444444">A little bit</text>
<text transform="translate(1015.30 2494.80) scale(1.030 1)" font-size="14" text-anchor="middle" fill="#444444">98</text>
<text transform="translate(1050.39 2494.80) scale(1.030 1)" font-size="14" text-anchor="middle" fill="#444444">207</text>
<text transform="translate(1085.48 2494.80) scale(1.030 1)" font-size="14" text-anchor="middle" fill="#444444">177</text>
<text transform="translate(1120.57 2494.80) scale(1.030 1)" font-size="14" text-anchor="middle" fill="#444444">140</text>
<text transform="translate(1155.66 2494.80) scale(1.030 1)" font-size="14" text-anchor="middle" fill="#444444">109</text>
<text transform="translate(1190.75 2494.80) scale(1.030 1)" font-size="14" text-anchor="middle" fill="#444444">81</text>
<text transform="translate(1225.84 2494.80) scale(1.030 1)" font-size="14" text-anchor="middle" fill="#444444">83</text>
<text transform="translate(1260.93 2494.80) scale(1.030 1)" font-size="14" text-anchor="middle" fill="#444444">57</text>
<text transform="translate(1296.02 2494.80) scale(1.030 1)" font-size="14" text-anchor="middle" fill="#444444">41</text>
<text transform="translate(1331.11 2494.80) scale(1.030 1)" font-size="14" text-anchor="middle" fill="#444444">37</text>
<text transform="translate(1366.20 2494.80) scale(1.030 1)" font-size="14" text-anchor="middle" fill="#444444">24</text>
<text transform="translate(1401.29 2494.80) scale(1.030 1)" font-size="14" text-anchor="middle" fill="#444444">27</text>
<text transform="translate(1436.38 2494.80) scale(1.030 1)" font-size="14" text-anchor="middle" fill="#444444">20</text>
<text transform="translate(1471.47 2494.80) scale(1.030 1)" font-size="14" text-anchor="middle" fill="#444444">20</text>
<text transform="translate(1506.56 2494.80) scale(1.030 1)" font-size="14" text-anchor="middle" fill="#444444">14</text>
<text transform="translate(1541.65 2494.80) scale(1.030 1)" font-size="14" text-anchor="middle" fill="#444444">13</text>
<text transform="translate(1576.74 2494.80) scale(1.030 1)" font-size="14" text-anchor="middle" fill="#444444">15</text>
<text transform="translate(1611.83 2494.80) scale(1.030 1)" font-size="14" text-anchor="middle" fill="#444444">13</text>
<text transform="translate(1646.92 2494.80) scale(1.030 1)" font-size="14" text-anchor="middle" fill="#444444">9</text>
<text transform="translate(1682.01 2494.80) scale(1.030 1)" font-size="14" text-anchor="middle" fill="#444444">8</text>
<text transform="translate(1717.10 2494.80) scale(1.030 1)" font-size="14" text-anchor="middle" fill="#444444">8</text>
<text transform="translate(1752.19 2494.80) scale(1.030 1)" font-size="14" text-anchor="middle" fill="#444444">8</text>
<text transform="translate(1787.28 2494.80) scale(1.030 1)" font-size="14" text-anchor="middle" fill="#444444">6</text>
<text transform="translate(915.60 2514.50) scale(1.030 1)" font-size="14" text-anchor="start" fill="#444444">Not at all</text>
<text transform="translate(1015.30 2514.50) scale(1.030 1)" font-size="14" text-anchor="middle" fill="#444444">395</text>
<text transform="translate(1050.39 2514.50) scale(1.030 1)" font-size="14" text-anchor="middle" fill="#444444">144</text>
<text transform="translate(1085.48 2514.50) scale(1.030 1)" font-size="14" text-anchor="middle" fill="#444444">113</text>
<text transform="translate(1120.57 2514.50) scale(1.030 1)" font-size="14" text-anchor="middle" fill="#444444">94</text>
<text transform="translate(1155.66 2514.50) scale(1.030 1)" font-size="14" text-anchor="middle" fill="#444444">60</text>
<text transform="translate(1190.75 2514.50) scale(1.030 1)" font-size="14" text-anchor="middle" fill="#444444">47</text>
<text transform="translate(1225.84 2514.50) scale(1.030 1)" font-size="14" text-anchor="middle" fill="#444444">36</text>
<text transform="translate(1260.93 2514.50) scale(1.030 1)" font-size="14" text-anchor="middle" fill="#444444">36</text>
<text transform="translate(1296.02 2514.50) scale(1.030 1)" font-size="14" text-anchor="middle" fill="#444444">28</text>
<text transform="translate(1331.11 2514.50) scale(1.030 1)" font-size="14" text-anchor="middle" fill="#444444">26</text>
<text transform="translate(1366.20 2514.50) scale(1.030 1)" font-size="14" text-anchor="middle" fill="#444444">28</text>
<text transform="translate(1401.29 2514.50) scale(1.030 1)" font-size="14" text-anchor="middle" fill="#444444">18</text>
<text transform="translate(1436.38 2514.50) scale(1.030 1)" font-size="14" text-anchor="middle" fill="#444444">20</text>
<text transform="translate(1471.47 2514.50) scale(1.030 1)" font-size="14" text-anchor="middle" fill="#444444">18</text>
<text transform="translate(1506.56 2514.50) scale(1.030 1)" font-size="14" text-anchor="middle" fill="#444444">17</text>
<text transform="translate(1541.65 2514.50) scale(1.030 1)" font-size="14" text-anchor="middle" fill="#444444">16</text>
<text transform="translate(1576.74 2514.50) scale(1.030 1)" font-size="14" text-anchor="middle" fill="#444444">12</text>
<text transform="translate(1611.83 2514.50) scale(1.030 1)" font-size="14" text-anchor="middle" fill="#444444">6</text>
<text transform="translate(1646.92 2514.50) scale(1.030 1)" font-size="14" text-anchor="middle" fill="#444444">7</text>
<text transform="translate(1682.01 2514.50) scale(1.030 1)" font-size="14" text-anchor="middle" fill="#444444">9</text>
<text transform="translate(1717.10 2514.50) scale(1.030 1)" font-size="14" text-anchor="middle" fill="#444444">6</text>
<text transform="translate(1752.19 2514.50) scale(1.030 1)" font-size="14" text-anchor="middle" fill="#444444">6</text>
<text transform="translate(1787.28 2514.50) scale(1.030 1)" font-size="14" text-anchor="middle" fill="#444444">4</text>
</svg>
</body></html>
